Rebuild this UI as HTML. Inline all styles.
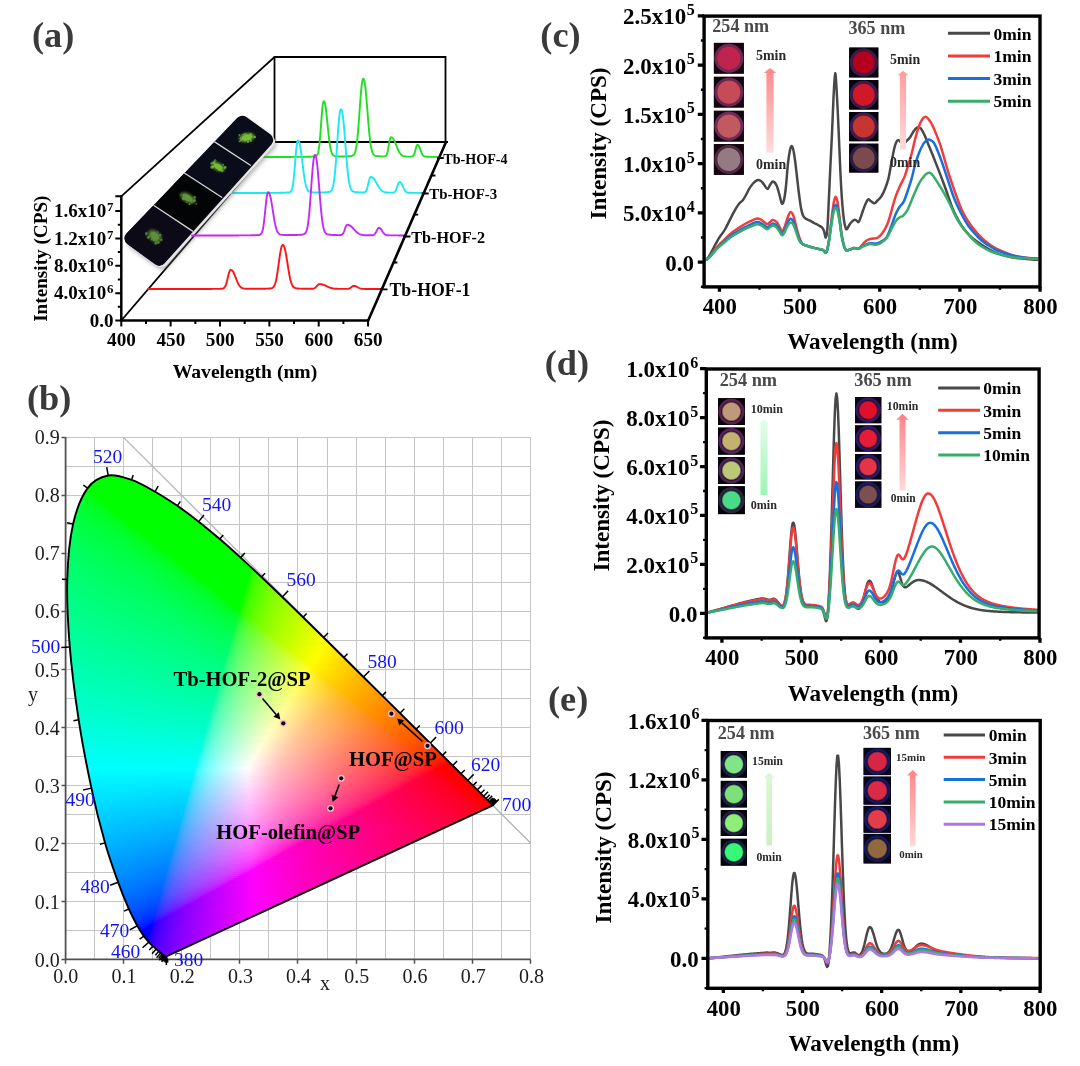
<!DOCTYPE html><html><head><meta charset="utf-8"><title>Figure</title><style>html,body{margin:0;padding:0;background:#fff}svg{display:block;will-change:transform}text{font-family:"Liberation Serif",serif}</style></head><body><svg width="1080" height="1066" viewBox="0 0 1080 1066" font-family='"Liberation Serif", serif'><defs><clipPath id="cieclip"><path d="M166.38 956.40C166.37 956.40 166.35 956.39 166.32 956.40C166.29 956.41 166.24 956.45 166.20 956.46C166.16 956.47 166.14 956.45 166.09 956.46C166.04 956.47 165.97 956.51 165.91 956.52C165.85 956.52 165.81 956.52 165.74 956.52C165.67 956.52 165.59 956.52 165.50 956.52C165.42 956.52 165.33 956.54 165.21 956.52C165.10 956.49 164.98 956.44 164.81 956.34C164.63 956.24 164.41 956.11 164.17 955.93C163.92 955.76 163.68 955.57 163.35 955.30C163.02 955.03 162.62 954.70 162.19 954.31C161.75 953.92 161.29 953.48 160.73 952.98C160.17 952.47 159.57 951.95 158.81 951.29C158.05 950.64 157.17 949.89 156.19 949.03C155.21 948.17 154.15 947.29 152.93 946.13C151.70 944.97 150.36 943.73 148.85 942.07C147.35 940.40 145.83 938.87 143.90 936.15C141.97 933.43 139.78 930.30 137.26 925.76C134.75 921.23 132.00 916.18 128.82 908.94C125.64 901.70 122.13 893.32 118.16 882.31C114.19 871.29 109.46 858.55 105.00 842.85C100.55 827.16 95.82 808.64 91.44 788.14C87.05 767.64 82.29 743.39 78.68 719.85C75.07 696.31 71.68 670.33 69.77 646.92C67.87 623.51 66.72 599.87 67.27 579.39C67.82 558.90 69.70 539.24 73.09 524.03C76.49 508.83 81.79 496.26 87.65 488.18C93.51 480.09 100.96 476.90 108.26 475.53C115.57 474.16 123.70 477.24 131.50 479.94C139.30 482.64 147.44 487.40 155.08 491.72C162.72 496.03 170.06 500.83 177.33 505.82C184.59 510.81 191.62 516.11 198.70 521.66C205.77 527.20 212.79 533.07 219.78 539.06C226.76 545.06 233.68 551.30 240.62 557.63C247.56 563.95 254.47 570.45 261.41 577.01C268.35 583.56 275.33 590.26 282.26 596.97C289.19 603.67 296.10 610.46 302.99 617.21C309.88 623.96 316.80 630.75 323.60 637.46C330.40 644.17 337.17 650.89 343.81 657.48C350.44 664.07 357.02 670.61 363.43 676.97C369.83 683.34 376.15 689.62 382.24 695.66C388.32 701.69 394.30 707.58 399.94 713.18C405.58 718.78 411.04 724.25 416.07 729.25C421.10 734.25 425.71 738.81 430.10 743.18C434.50 747.54 438.68 751.69 442.45 755.42C446.21 759.14 449.60 762.45 452.70 765.51C455.79 768.58 458.53 771.32 461.02 773.81C463.52 776.30 465.67 778.45 467.66 780.42C469.65 782.40 471.37 784.07 472.96 785.65C474.55 787.22 475.91 788.59 477.21 789.88C478.51 791.18 479.68 792.35 480.76 793.42C481.84 794.49 482.80 795.46 483.67 796.32C484.55 797.18 485.32 797.92 486.00 798.58C486.68 799.25 487.24 799.81 487.75 800.33C488.26 800.84 488.70 801.27 489.09 801.66C489.48 802.05 489.81 802.38 490.08 802.65C490.35 802.92 490.53 803.09 490.72 803.28C490.91 803.48 491.09 803.65 491.24 803.81C491.40 803.96 491.52 804.08 491.65 804.21C491.79 804.35 491.93 804.49 492.06 804.62C492.18 804.74 492.31 804.87 492.41 804.97C492.51 805.06 492.58 805.14 492.64 805.20C492.70 805.26 492.73 805.29 492.76 805.31C492.79 805.34 492.81 805.36 492.82 805.37Z"/></clipPath><linearGradient id="r0" gradientUnits="userSpaceOnUse" x1="103.1" x2="121.8" y1="0" y2="0"><stop offset="0" stop-color="#00ff00"/><stop offset="1" stop-color="#00ff00"/></linearGradient><linearGradient id="r1" gradientUnits="userSpaceOnUse" x1="97.1" x2="128.8" y1="0" y2="0"><stop offset="0" stop-color="#00ff00"/><stop offset="1" stop-color="#00ff00"/></linearGradient><linearGradient id="r2" gradientUnits="userSpaceOnUse" x1="93.3" x2="134.7" y1="0" y2="0"><stop offset="0" stop-color="#00ff00"/><stop offset="1" stop-color="#00ff00"/></linearGradient><linearGradient id="r3" gradientUnits="userSpaceOnUse" x1="90.5" x2="139.7" y1="0" y2="0"><stop offset="0" stop-color="#00ff00"/><stop offset="1" stop-color="#00ff00"/></linearGradient><linearGradient id="r4" gradientUnits="userSpaceOnUse" x1="88.2" x2="144.0" y1="0" y2="0"><stop offset="0" stop-color="#00ff00"/><stop offset="1" stop-color="#00ff00"/></linearGradient><linearGradient id="r5" gradientUnits="userSpaceOnUse" x1="86.4" x2="147.8" y1="0" y2="0"><stop offset="0" stop-color="#00ff00"/><stop offset="1" stop-color="#00ff00"/></linearGradient><linearGradient id="r6" gradientUnits="userSpaceOnUse" x1="84.8" x2="151.5" y1="0" y2="0"><stop offset="0" stop-color="#00ff00"/><stop offset="1" stop-color="#00ff00"/></linearGradient><linearGradient id="r7" gradientUnits="userSpaceOnUse" x1="83.4" x2="155.0" y1="0" y2="0"><stop offset="0" stop-color="#00ff07"/><stop offset="0.056" stop-color="#00ff00"/><stop offset="1" stop-color="#00ff00"/></linearGradient><linearGradient id="r8" gradientUnits="userSpaceOnUse" x1="82.1" x2="158.6" y1="0" y2="0"><stop offset="0" stop-color="#00ff13"/><stop offset="0.079" stop-color="#00ff00"/><stop offset="1" stop-color="#00ff00"/></linearGradient><linearGradient id="r9" gradientUnits="userSpaceOnUse" x1="81.0" x2="162.0" y1="0" y2="0"><stop offset="0" stop-color="#00ff1b"/><stop offset="0.122" stop-color="#00ff00"/><stop offset="1" stop-color="#00ff00"/></linearGradient><linearGradient id="r10" gradientUnits="userSpaceOnUse" x1="79.9" x2="165.3" y1="0" y2="0"><stop offset="0" stop-color="#00ff21"/><stop offset="0.116" stop-color="#00ff0c"/><stop offset="0.186" stop-color="#00ff00"/><stop offset="1" stop-color="#00ff00"/></linearGradient><linearGradient id="r11" gradientUnits="userSpaceOnUse" x1="78.9" x2="168.5" y1="0" y2="0"><stop offset="0" stop-color="#00ff26"/><stop offset="0.156" stop-color="#00ff0a"/><stop offset="0.2" stop-color="#00ff00"/><stop offset="1" stop-color="#00ff00"/></linearGradient><linearGradient id="r12" gradientUnits="userSpaceOnUse" x1="77.9" x2="171.6" y1="0" y2="0"><stop offset="0" stop-color="#00ff2a"/><stop offset="0.17" stop-color="#00ff0f"/><stop offset="0.213" stop-color="#00ff00"/><stop offset="1" stop-color="#00ff00"/></linearGradient><linearGradient id="r13" gradientUnits="userSpaceOnUse" x1="77.1" x2="174.7" y1="0" y2="0"><stop offset="0" stop-color="#00ff2e"/><stop offset="0.184" stop-color="#00ff13"/><stop offset="0.245" stop-color="#00ff00"/><stop offset="1" stop-color="#00ff00"/></linearGradient><linearGradient id="r14" gradientUnits="userSpaceOnUse" x1="76.2" x2="177.7" y1="0" y2="0"><stop offset="0" stop-color="#00ff32"/><stop offset="0.216" stop-color="#00ff12"/><stop offset="0.275" stop-color="#00ff00"/><stop offset="1" stop-color="#00ff00"/></linearGradient><linearGradient id="r15" gradientUnits="userSpaceOnUse" x1="75.4" x2="180.6" y1="0" y2="0"><stop offset="0" stop-color="#00ff35"/><stop offset="0.226" stop-color="#00ff15"/><stop offset="0.283" stop-color="#00ff01"/><stop offset="1" stop-color="#00ff00"/></linearGradient><linearGradient id="r16" gradientUnits="userSpaceOnUse" x1="74.7" x2="183.5" y1="0" y2="0"><stop offset="0" stop-color="#00ff38"/><stop offset="0.241" stop-color="#00ff17"/><stop offset="0.315" stop-color="#00ff00"/><stop offset="1" stop-color="#00ff00"/></linearGradient><linearGradient id="r17" gradientUnits="userSpaceOnUse" x1="74.0" x2="186.3" y1="0" y2="0"><stop offset="0" stop-color="#00ff3b"/><stop offset="0.25" stop-color="#00ff1a"/><stop offset="0.339" stop-color="#00ff00"/><stop offset="1" stop-color="#00ff00"/></linearGradient><linearGradient id="r18" gradientUnits="userSpaceOnUse" x1="73.3" x2="189.0" y1="0" y2="0"><stop offset="0" stop-color="#00ff3d"/><stop offset="0.259" stop-color="#00ff1d"/><stop offset="0.345" stop-color="#00ff00"/><stop offset="1" stop-color="#00ff00"/></linearGradient><linearGradient id="r19" gradientUnits="userSpaceOnUse" x1="72.7" x2="191.7" y1="0" y2="0"><stop offset="0" stop-color="#00ff40"/><stop offset="0.254" stop-color="#00ff22"/><stop offset="0.339" stop-color="#00ff0b"/><stop offset="0.373" stop-color="#00ff00"/><stop offset="1" stop-color="#00ff00"/></linearGradient><linearGradient id="r20" gradientUnits="userSpaceOnUse" x1="72.1" x2="194.4" y1="0" y2="0"><stop offset="0" stop-color="#00ff42"/><stop offset="0.279" stop-color="#00ff21"/><stop offset="0.361" stop-color="#00ff08"/><stop offset="0.393" stop-color="#00ff00"/><stop offset="1" stop-color="#00ff00"/></linearGradient><linearGradient id="r21" gradientUnits="userSpaceOnUse" x1="71.6" x2="197.0" y1="0" y2="0"><stop offset="0" stop-color="#00ff45"/><stop offset="0.302" stop-color="#00ff20"/><stop offset="0.397" stop-color="#00ff00"/><stop offset="1" stop-color="#00ff00"/></linearGradient><linearGradient id="r22" gradientUnits="userSpaceOnUse" x1="71.1" x2="199.6" y1="0" y2="0"><stop offset="0" stop-color="#00ff47"/><stop offset="0.297" stop-color="#00ff24"/><stop offset="0.391" stop-color="#00ff08"/><stop offset="0.422" stop-color="#00ff00"/><stop offset="1" stop-color="#00ff00"/></linearGradient><linearGradient id="r23" gradientUnits="userSpaceOnUse" x1="70.6" x2="202.1" y1="0" y2="0"><stop offset="0" stop-color="#00ff49"/><stop offset="0.303" stop-color="#00ff26"/><stop offset="0.394" stop-color="#00ff0e"/><stop offset="0.424" stop-color="#00ff00"/><stop offset="1" stop-color="#00ff00"/></linearGradient><linearGradient id="r24" gradientUnits="userSpaceOnUse" x1="70.1" x2="204.7" y1="0" y2="0"><stop offset="0" stop-color="#00ff4b"/><stop offset="0.299" stop-color="#00ff2a"/><stop offset="0.403" stop-color="#00ff10"/><stop offset="0.433" stop-color="#00ff00"/><stop offset="1" stop-color="#00ff00"/></linearGradient><linearGradient id="r25" gradientUnits="userSpaceOnUse" x1="69.7" x2="207.2" y1="0" y2="0"><stop offset="0" stop-color="#00ff4d"/><stop offset="0.319" stop-color="#00ff29"/><stop offset="0.42" stop-color="#00ff0e"/><stop offset="0.449" stop-color="#00ff00"/><stop offset="1" stop-color="#00ff00"/></linearGradient><linearGradient id="r26" gradientUnits="userSpaceOnUse" x1="69.3" x2="209.6" y1="0" y2="0"><stop offset="0" stop-color="#00ff4f"/><stop offset="0.314" stop-color="#00ff2d"/><stop offset="0.429" stop-color="#00ff10"/><stop offset="0.457" stop-color="#00ff00"/><stop offset="1" stop-color="#00ff00"/></linearGradient><linearGradient id="r27" gradientUnits="userSpaceOnUse" x1="68.9" x2="212.0" y1="0" y2="0"><stop offset="0" stop-color="#00ff51"/><stop offset="0.319" stop-color="#00ff2e"/><stop offset="0.431" stop-color="#00ff14"/><stop offset="0.472" stop-color="#00ff00"/><stop offset="1" stop-color="#00ff00"/></linearGradient><linearGradient id="r28" gradientUnits="userSpaceOnUse" x1="68.5" x2="214.4" y1="0" y2="0"><stop offset="0" stop-color="#00ff53"/><stop offset="0.342" stop-color="#00ff2d"/><stop offset="0.452" stop-color="#00ff10"/><stop offset="0.479" stop-color="#00ff00"/><stop offset="1" stop-color="#00ff00"/></linearGradient><linearGradient id="r29" gradientUnits="userSpaceOnUse" x1="68.2" x2="216.8" y1="0" y2="0"><stop offset="0" stop-color="#00ff55"/><stop offset="0.351" stop-color="#00ff2e"/><stop offset="0.459" stop-color="#00ff12"/><stop offset="0.5" stop-color="#00ff00"/><stop offset="1" stop-color="#00ff00"/></linearGradient><linearGradient id="r30" gradientUnits="userSpaceOnUse" x1="67.9" x2="219.2" y1="0" y2="0"><stop offset="0" stop-color="#00ff57"/><stop offset="0.355" stop-color="#00ff30"/><stop offset="0.461" stop-color="#00ff16"/><stop offset="0.5" stop-color="#00ff00"/><stop offset="1" stop-color="#00ff00"/></linearGradient><linearGradient id="r31" gradientUnits="userSpaceOnUse" x1="67.6" x2="221.5" y1="0" y2="0"><stop offset="0" stop-color="#00ff58"/><stop offset="0.351" stop-color="#00ff33"/><stop offset="0.468" stop-color="#00ff17"/><stop offset="0.519" stop-color="#00ff00"/><stop offset="1" stop-color="#00ff00"/></linearGradient><linearGradient id="r32" gradientUnits="userSpaceOnUse" x1="67.3" x2="223.9" y1="0" y2="0"><stop offset="0" stop-color="#00ff5a"/><stop offset="0.359" stop-color="#00ff34"/><stop offset="0.487" stop-color="#00ff14"/><stop offset="0.526" stop-color="#00ff00"/><stop offset="1" stop-color="#00ff00"/></linearGradient><linearGradient id="r33" gradientUnits="userSpaceOnUse" x1="67.0" x2="226.2" y1="0" y2="0"><stop offset="0" stop-color="#00ff5c"/><stop offset="0.362" stop-color="#00ff35"/><stop offset="0.487" stop-color="#00ff18"/><stop offset="0.537" stop-color="#00ff00"/><stop offset="1" stop-color="#00ff00"/></linearGradient><linearGradient id="r34" gradientUnits="userSpaceOnUse" x1="66.8" x2="228.5" y1="0" y2="0"><stop offset="0" stop-color="#00ff5d"/><stop offset="0.358" stop-color="#00ff38"/><stop offset="0.494" stop-color="#00ff19"/><stop offset="0.543" stop-color="#00ff00"/><stop offset="1" stop-color="#00ff00"/></linearGradient><linearGradient id="r35" gradientUnits="userSpaceOnUse" x1="66.5" x2="230.7" y1="0" y2="0"><stop offset="0" stop-color="#00ff5f"/><stop offset="0.366" stop-color="#00ff39"/><stop offset="0.5" stop-color="#00ff1a"/><stop offset="0.549" stop-color="#00ff00"/><stop offset="1" stop-color="#00ff00"/></linearGradient><linearGradient id="r36" gradientUnits="userSpaceOnUse" x1="66.3" x2="233.0" y1="0" y2="0"><stop offset="0" stop-color="#00ff60"/><stop offset="0.361" stop-color="#00ff3c"/><stop offset="0.506" stop-color="#00ff1c"/><stop offset="0.554" stop-color="#00ff00"/><stop offset="1" stop-color="#00ff00"/></linearGradient><linearGradient id="r37" gradientUnits="userSpaceOnUse" x1="66.1" x2="235.2" y1="0" y2="0"><stop offset="0" stop-color="#00ff62"/><stop offset="0.365" stop-color="#00ff3d"/><stop offset="0.518" stop-color="#00ff1b"/><stop offset="0.565" stop-color="#00ff00"/><stop offset="1" stop-color="#00ff00"/></linearGradient><linearGradient id="r38" gradientUnits="userSpaceOnUse" x1="65.9" x2="237.4" y1="0" y2="0"><stop offset="0" stop-color="#00ff64"/><stop offset="0.372" stop-color="#00ff3e"/><stop offset="0.523" stop-color="#00ff1c"/><stop offset="0.57" stop-color="#00ff00"/><stop offset="1" stop-color="#00ff00"/></linearGradient><linearGradient id="r39" gradientUnits="userSpaceOnUse" x1="65.7" x2="239.6" y1="0" y2="0"><stop offset="0" stop-color="#00ff65"/><stop offset="0.379" stop-color="#00ff3f"/><stop offset="0.529" stop-color="#00ff1d"/><stop offset="0.586" stop-color="#00ff00"/><stop offset="1" stop-color="#00ff00"/></linearGradient><linearGradient id="r40" gradientUnits="userSpaceOnUse" x1="65.5" x2="241.8" y1="0" y2="0"><stop offset="0" stop-color="#00ff67"/><stop offset="0.375" stop-color="#00ff41"/><stop offset="0.534" stop-color="#00ff1f"/><stop offset="0.591" stop-color="#00ff00"/><stop offset="1" stop-color="#00ff00"/></linearGradient><linearGradient id="r41" gradientUnits="userSpaceOnUse" x1="65.4" x2="244.0" y1="0" y2="0"><stop offset="0" stop-color="#00ff68"/><stop offset="0.382" stop-color="#00ff42"/><stop offset="0.539" stop-color="#00ff20"/><stop offset="0.596" stop-color="#00ff00"/><stop offset="1" stop-color="#00ff00"/></linearGradient><linearGradient id="r42" gradientUnits="userSpaceOnUse" x1="65.2" x2="246.2" y1="0" y2="0"><stop offset="0" stop-color="#00ff6a"/><stop offset="0.389" stop-color="#00ff43"/><stop offset="0.544" stop-color="#00ff21"/><stop offset="0.589" stop-color="#00ff0a"/><stop offset="0.6" stop-color="#00ff00"/><stop offset="1" stop-color="#00ff00"/></linearGradient><linearGradient id="r43" gradientUnits="userSpaceOnUse" x1="65.1" x2="248.4" y1="0" y2="0"><stop offset="0" stop-color="#00ff6b"/><stop offset="0.391" stop-color="#00ff44"/><stop offset="0.543" stop-color="#00ff24"/><stop offset="0.598" stop-color="#00ff08"/><stop offset="0.62" stop-color="#00ff00"/><stop offset="1" stop-color="#00ff00"/></linearGradient><linearGradient id="r44" gradientUnits="userSpaceOnUse" x1="65.0" x2="250.5" y1="0" y2="0"><stop offset="0" stop-color="#00ff6c"/><stop offset="0.376" stop-color="#00ff48"/><stop offset="0.548" stop-color="#00ff25"/><stop offset="0.602" stop-color="#00ff0b"/><stop offset="0.613" stop-color="#00ff00"/><stop offset="1" stop-color="#00ff00"/></linearGradient><linearGradient id="r45" gradientUnits="userSpaceOnUse" x1="64.8" x2="252.7" y1="0" y2="0"><stop offset="0" stop-color="#00ff6e"/><stop offset="0.394" stop-color="#00ff47"/><stop offset="0.564" stop-color="#00ff23"/><stop offset="0.606" stop-color="#00ff0d"/><stop offset="0.628" stop-color="#00ff00"/><stop offset="1" stop-color="#03ff00"/></linearGradient><linearGradient id="r46" gradientUnits="userSpaceOnUse" x1="64.7" x2="254.8" y1="0" y2="0"><stop offset="0" stop-color="#00ff6f"/><stop offset="0.4" stop-color="#00ff48"/><stop offset="0.568" stop-color="#00ff24"/><stop offset="0.632" stop-color="#00ff00"/><stop offset="0.979" stop-color="#00ff00"/><stop offset="1" stop-color="#26ff00"/></linearGradient><linearGradient id="r47" gradientUnits="userSpaceOnUse" x1="64.6" x2="257.0" y1="0" y2="0"><stop offset="0" stop-color="#00ff71"/><stop offset="0.406" stop-color="#00ff49"/><stop offset="0.573" stop-color="#00ff25"/><stop offset="0.615" stop-color="#00ff11"/><stop offset="0.635" stop-color="#00ff00"/><stop offset="0.969" stop-color="#00ff00"/><stop offset="0.979" stop-color="#1aff00"/><stop offset="1" stop-color="#37ff00"/></linearGradient><linearGradient id="r48" gradientUnits="userSpaceOnUse" x1="64.5" x2="259.1" y1="0" y2="0"><stop offset="0" stop-color="#00ff72"/><stop offset="0.423" stop-color="#00ff48"/><stop offset="0.577" stop-color="#00ff26"/><stop offset="0.629" stop-color="#00ff0b"/><stop offset="0.639" stop-color="#00ff00"/><stop offset="0.959" stop-color="#04ff00"/><stop offset="0.969" stop-color="#21ff00"/><stop offset="1" stop-color="#43ff00"/></linearGradient><linearGradient id="r49" gradientUnits="userSpaceOnUse" x1="64.4" x2="261.2" y1="0" y2="0"><stop offset="0" stop-color="#00ff73"/><stop offset="0.418" stop-color="#00ff4a"/><stop offset="0.582" stop-color="#00ff27"/><stop offset="0.633" stop-color="#00ff0d"/><stop offset="0.653" stop-color="#00ff00"/><stop offset="0.939" stop-color="#00ff00"/><stop offset="0.969" stop-color="#33ff00"/><stop offset="1" stop-color="#4eff00"/></linearGradient><linearGradient id="r50" gradientUnits="userSpaceOnUse" x1="64.4" x2="263.3" y1="0" y2="0"><stop offset="0" stop-color="#00ff75"/><stop offset="0.424" stop-color="#00ff4b"/><stop offset="0.586" stop-color="#00ff28"/><stop offset="0.636" stop-color="#00ff0f"/><stop offset="0.657" stop-color="#00ff00"/><stop offset="0.929" stop-color="#00ff00"/><stop offset="0.939" stop-color="#1aff00"/><stop offset="0.97" stop-color="#41ff00"/><stop offset="1" stop-color="#57ff00"/></linearGradient><linearGradient id="r51" gradientUnits="userSpaceOnUse" x1="64.3" x2="265.5" y1="0" y2="0"><stop offset="0" stop-color="#00ff76"/><stop offset="0.396" stop-color="#00ff50"/><stop offset="0.574" stop-color="#00ff2e"/><stop offset="0.634" stop-color="#00ff16"/><stop offset="0.663" stop-color="#00ff00"/><stop offset="0.911" stop-color="#00ff00"/><stop offset="0.921" stop-color="#07ff00"/><stop offset="0.931" stop-color="#22ff00"/><stop offset="0.97" stop-color="#4cff00"/><stop offset="1" stop-color="#5fff00"/></linearGradient><linearGradient id="r52" gradientUnits="userSpaceOnUse" x1="64.3" x2="267.6" y1="0" y2="0"><stop offset="0" stop-color="#00ff77"/><stop offset="0.392" stop-color="#00ff53"/><stop offset="0.598" stop-color="#00ff29"/><stop offset="0.647" stop-color="#00ff11"/><stop offset="0.667" stop-color="#00ff00"/><stop offset="0.902" stop-color="#00ff00"/><stop offset="0.922" stop-color="#27ff00"/><stop offset="0.961" stop-color="#4fff00"/><stop offset="1" stop-color="#67ff00"/></linearGradient><linearGradient id="r53" gradientUnits="userSpaceOnUse" x1="64.2" x2="269.7" y1="0" y2="0"><stop offset="0" stop-color="#00ff79"/><stop offset="0.417" stop-color="#00ff51"/><stop offset="0.602" stop-color="#00ff2a"/><stop offset="0.65" stop-color="#00ff13"/><stop offset="0.67" stop-color="#00ff00"/><stop offset="0.893" stop-color="#00ff00"/><stop offset="0.903" stop-color="#1cff00"/><stop offset="0.932" stop-color="#42ff00"/><stop offset="1" stop-color="#6eff00"/></linearGradient><linearGradient id="r54" gradientUnits="userSpaceOnUse" x1="64.2" x2="271.8" y1="0" y2="0"><stop offset="0" stop-color="#00ff7a"/><stop offset="0.413" stop-color="#00ff53"/><stop offset="0.606" stop-color="#00ff2b"/><stop offset="0.663" stop-color="#00ff0c"/><stop offset="0.673" stop-color="#00ff01"/><stop offset="0.875" stop-color="#00ff00"/><stop offset="0.885" stop-color="#06ff00"/><stop offset="0.894" stop-color="#22ff00"/><stop offset="0.923" stop-color="#45ff00"/><stop offset="1" stop-color="#75ff00"/></linearGradient><linearGradient id="r55" gradientUnits="userSpaceOnUse" x1="64.2" x2="273.9" y1="0" y2="0"><stop offset="0" stop-color="#00ff7b"/><stop offset="0.41" stop-color="#00ff55"/><stop offset="0.6" stop-color="#00ff2f"/><stop offset="0.657" stop-color="#00ff16"/><stop offset="0.686" stop-color="#00ff00"/><stop offset="0.867" stop-color="#00ff00"/><stop offset="0.895" stop-color="#35ff00"/><stop offset="0.952" stop-color="#62ff00"/><stop offset="1" stop-color="#7cff00"/></linearGradient><linearGradient id="r56" gradientUnits="userSpaceOnUse" x1="64.1" x2="276.0" y1="0" y2="0"><stop offset="0" stop-color="#00ff7d"/><stop offset="0.406" stop-color="#00ff57"/><stop offset="0.594" stop-color="#00ff33"/><stop offset="0.66" stop-color="#00ff18"/><stop offset="0.689" stop-color="#00ff00"/><stop offset="0.858" stop-color="#00ff00"/><stop offset="0.868" stop-color="#1bff00"/><stop offset="0.896" stop-color="#42ff00"/><stop offset="0.972" stop-color="#74ff00"/><stop offset="1" stop-color="#82ff00"/></linearGradient><linearGradient id="r57" gradientUnits="userSpaceOnUse" x1="64.1" x2="278.0" y1="0" y2="0"><stop offset="0" stop-color="#00ff7e"/><stop offset="0.411" stop-color="#00ff58"/><stop offset="0.607" stop-color="#00ff31"/><stop offset="0.673" stop-color="#00ff13"/><stop offset="0.692" stop-color="#00ff00"/><stop offset="0.85" stop-color="#04ff00"/><stop offset="0.86" stop-color="#22ff00"/><stop offset="0.888" stop-color="#45ff00"/><stop offset="0.972" stop-color="#7bff00"/><stop offset="1" stop-color="#88ff00"/></linearGradient><linearGradient id="r58" gradientUnits="userSpaceOnUse" x1="64.1" x2="280.1" y1="0" y2="0"><stop offset="0" stop-color="#00ff7f"/><stop offset="0.407" stop-color="#00ff5a"/><stop offset="0.611" stop-color="#00ff32"/><stop offset="0.676" stop-color="#00ff15"/><stop offset="0.694" stop-color="#00ff00"/><stop offset="0.833" stop-color="#00ff00"/><stop offset="0.852" stop-color="#27ff00"/><stop offset="0.889" stop-color="#50ff00"/><stop offset="0.981" stop-color="#85ff00"/><stop offset="1" stop-color="#8dff00"/></linearGradient><linearGradient id="r59" gradientUnits="userSpaceOnUse" x1="64.1" x2="282.2" y1="0" y2="0"><stop offset="0" stop-color="#00ff81"/><stop offset="0.431" stop-color="#00ff58"/><stop offset="0.615" stop-color="#00ff33"/><stop offset="0.679" stop-color="#00ff16"/><stop offset="0.697" stop-color="#00ff03"/><stop offset="0.826" stop-color="#00ff00"/><stop offset="0.844" stop-color="#2cff00"/><stop offset="0.89" stop-color="#59ff00"/><stop offset="1" stop-color="#93ff00"/></linearGradient><linearGradient id="r60" gradientUnits="userSpaceOnUse" x1="64.1" x2="284.3" y1="0" y2="0"><stop offset="0" stop-color="#00ff82"/><stop offset="0.427" stop-color="#00ff5a"/><stop offset="0.618" stop-color="#00ff34"/><stop offset="0.682" stop-color="#00ff18"/><stop offset="0.709" stop-color="#00ff00"/><stop offset="0.818" stop-color="#01ff00"/><stop offset="0.827" stop-color="#21ff00"/><stop offset="0.855" stop-color="#45ff00"/><stop offset="0.936" stop-color="#7cff00"/><stop offset="1" stop-color="#99ff00"/></linearGradient><linearGradient id="r61" gradientUnits="userSpaceOnUse" x1="64.2" x2="286.3" y1="0" y2="0"><stop offset="0" stop-color="#00ff83"/><stop offset="0.414" stop-color="#00ff5d"/><stop offset="0.604" stop-color="#00ff3a"/><stop offset="0.685" stop-color="#00ff1a"/><stop offset="0.712" stop-color="#00ff00"/><stop offset="0.802" stop-color="#00ff00"/><stop offset="0.829" stop-color="#34ff00"/><stop offset="0.883" stop-color="#64ff00"/><stop offset="1" stop-color="#9eff00"/></linearGradient><linearGradient id="r62" gradientUnits="userSpaceOnUse" x1="64.2" x2="288.4" y1="0" y2="0"><stop offset="0" stop-color="#00ff85"/><stop offset="0.429" stop-color="#00ff5d"/><stop offset="0.625" stop-color="#00ff36"/><stop offset="0.696" stop-color="#00ff15"/><stop offset="0.714" stop-color="#00ff00"/><stop offset="0.795" stop-color="#00ff00"/><stop offset="0.812" stop-color="#2bff00"/><stop offset="0.848" stop-color="#52ff00"/><stop offset="0.938" stop-color="#88ff00"/><stop offset="1" stop-color="#a3ff00"/></linearGradient><linearGradient id="r63" gradientUnits="userSpaceOnUse" x1="64.2" x2="290.4" y1="0" y2="0"><stop offset="0" stop-color="#00ff86"/><stop offset="0.425" stop-color="#00ff5f"/><stop offset="0.628" stop-color="#00ff37"/><stop offset="0.699" stop-color="#00ff17"/><stop offset="0.717" stop-color="#00ff03"/><stop offset="0.788" stop-color="#00ff00"/><stop offset="0.796" stop-color="#1fff00"/><stop offset="0.823" stop-color="#45ff00"/><stop offset="0.885" stop-color="#72ff00"/><stop offset="1" stop-color="#a8ff00"/></linearGradient><linearGradient id="r64" gradientUnits="userSpaceOnUse" x1="64.3" x2="292.5" y1="0" y2="0"><stop offset="0" stop-color="#00ff87"/><stop offset="0.421" stop-color="#00ff61"/><stop offset="0.632" stop-color="#00ff38"/><stop offset="0.702" stop-color="#00ff19"/><stop offset="0.728" stop-color="#00ff00"/><stop offset="0.772" stop-color="#00ff00"/><stop offset="0.781" stop-color="#0cff00"/><stop offset="0.789" stop-color="#25ff00"/><stop offset="0.816" stop-color="#48ff00"/><stop offset="0.895" stop-color="#7eff00"/><stop offset="1" stop-color="#adff00"/></linearGradient><linearGradient id="r65" gradientUnits="userSpaceOnUse" x1="64.3" x2="294.5" y1="0" y2="0"><stop offset="0" stop-color="#00ff88"/><stop offset="0.409" stop-color="#00ff64"/><stop offset="0.617" stop-color="#00ff3e"/><stop offset="0.696" stop-color="#00ff20"/><stop offset="0.73" stop-color="#00ff00"/><stop offset="0.765" stop-color="#00ff00"/><stop offset="0.783" stop-color="#2aff00"/><stop offset="0.817" stop-color="#52ff00"/><stop offset="0.904" stop-color="#89ff00"/><stop offset="1" stop-color="#b2ff00"/></linearGradient><linearGradient id="r66" gradientUnits="userSpaceOnUse" x1="64.4" x2="296.6" y1="0" y2="0"><stop offset="0" stop-color="#00ff8a"/><stop offset="0.431" stop-color="#00ff62"/><stop offset="0.638" stop-color="#00ff3a"/><stop offset="0.707" stop-color="#00ff1c"/><stop offset="0.733" stop-color="#00ff00"/><stop offset="0.759" stop-color="#00ff00"/><stop offset="0.767" stop-color="#1eff00"/><stop offset="0.793" stop-color="#45ff00"/><stop offset="0.862" stop-color="#78ff00"/><stop offset="1" stop-color="#b7ff00"/></linearGradient><linearGradient id="r67" gradientUnits="userSpaceOnUse" x1="64.5" x2="298.6" y1="0" y2="0"><stop offset="0" stop-color="#00ff8b"/><stop offset="0.436" stop-color="#00ff63"/><stop offset="0.641" stop-color="#00ff3b"/><stop offset="0.718" stop-color="#00ff17"/><stop offset="0.735" stop-color="#00ff02"/><stop offset="0.752" stop-color="#07ff00"/><stop offset="0.761" stop-color="#24ff00"/><stop offset="0.795" stop-color="#50ff00"/><stop offset="0.88" stop-color="#88ff00"/><stop offset="1" stop-color="#bcff00"/></linearGradient><linearGradient id="r68" gradientUnits="userSpaceOnUse" x1="64.5" x2="300.7" y1="0" y2="0"><stop offset="0" stop-color="#00ff8c"/><stop offset="0.432" stop-color="#00ff65"/><stop offset="0.636" stop-color="#00ff3e"/><stop offset="0.712" stop-color="#00ff1f"/><stop offset="0.737" stop-color="#00ff06"/><stop offset="0.754" stop-color="#29ff00"/><stop offset="0.788" stop-color="#52ff00"/><stop offset="0.873" stop-color="#8aff00"/><stop offset="1" stop-color="#c1ff00"/></linearGradient><linearGradient id="r69" gradientUnits="userSpaceOnUse" x1="64.6" x2="302.7" y1="0" y2="0"><stop offset="0" stop-color="#00ff8d"/><stop offset="0.42" stop-color="#00ff68"/><stop offset="0.63" stop-color="#00ff41"/><stop offset="0.714" stop-color="#00ff21"/><stop offset="0.731" stop-color="#00ff14"/><stop offset="0.739" stop-color="#1cff09"/><stop offset="0.748" stop-color="#2eff00"/><stop offset="0.79" stop-color="#5cff00"/><stop offset="0.891" stop-color="#98ff00"/><stop offset="1" stop-color="#c6ff00"/></linearGradient><linearGradient id="r70" gradientUnits="userSpaceOnUse" x1="64.7" x2="304.7" y1="0" y2="0"><stop offset="0" stop-color="#00ff8f"/><stop offset="0.433" stop-color="#00ff68"/><stop offset="0.642" stop-color="#00ff40"/><stop offset="0.725" stop-color="#03ff1d"/><stop offset="0.733" stop-color="#22ff16"/><stop offset="0.75" stop-color="#3eff00"/><stop offset="0.817" stop-color="#76ff00"/><stop offset="0.967" stop-color="#beff00"/><stop offset="1" stop-color="#cbff00"/></linearGradient><linearGradient id="r71" gradientUnits="userSpaceOnUse" x1="64.8" x2="306.8" y1="0" y2="0"><stop offset="0" stop-color="#00ff90"/><stop offset="0.421" stop-color="#00ff6b"/><stop offset="0.628" stop-color="#00ff46"/><stop offset="0.711" stop-color="#00ff28"/><stop offset="0.736" stop-color="#36ff18"/><stop offset="0.752" stop-color="#4aff02"/><stop offset="0.818" stop-color="#7dff00"/><stop offset="0.983" stop-color="#c9ff00"/><stop offset="1" stop-color="#cfff00"/></linearGradient><linearGradient id="r72" gradientUnits="userSpaceOnUse" x1="64.9" x2="308.8" y1="0" y2="0"><stop offset="0" stop-color="#00ff91"/><stop offset="0.41" stop-color="#00ff6d"/><stop offset="0.631" stop-color="#00ff47"/><stop offset="0.705" stop-color="#00ff2d"/><stop offset="0.721" stop-color="#2dff25"/><stop offset="0.746" stop-color="#4dff12"/><stop offset="0.762" stop-color="#5cff00"/><stop offset="0.869" stop-color="#9dff00"/><stop offset="1" stop-color="#d4ff00"/></linearGradient><linearGradient id="r73" gradientUnits="userSpaceOnUse" x1="65.0" x2="310.9" y1="0" y2="0"><stop offset="0" stop-color="#00ff93"/><stop offset="0.439" stop-color="#00ff6b"/><stop offset="0.642" stop-color="#00ff45"/><stop offset="0.699" stop-color="#00ff32"/><stop offset="0.707" stop-color="#21ff2f"/><stop offset="0.724" stop-color="#3eff26"/><stop offset="0.756" stop-color="#5fff09"/><stop offset="0.764" stop-color="#65ff00"/><stop offset="0.87" stop-color="#a3ff00"/><stop offset="1" stop-color="#d9ff00"/></linearGradient><linearGradient id="r74" gradientUnits="userSpaceOnUse" x1="65.1" x2="312.9" y1="0" y2="0"><stop offset="0" stop-color="#00ff94"/><stop offset="0.435" stop-color="#00ff6d"/><stop offset="0.645" stop-color="#00ff46"/><stop offset="0.685" stop-color="#00ff3a"/><stop offset="0.694" stop-color="#0eff37"/><stop offset="0.702" stop-color="#27ff33"/><stop offset="0.734" stop-color="#53ff23"/><stop offset="0.758" stop-color="#67ff0c"/><stop offset="0.766" stop-color="#6dff00"/><stop offset="0.879" stop-color="#acff00"/><stop offset="1" stop-color="#deff00"/></linearGradient><linearGradient id="r75" gradientUnits="userSpaceOnUse" x1="65.2" x2="314.9" y1="0" y2="0"><stop offset="0" stop-color="#00ff95"/><stop offset="0.44" stop-color="#00ff6e"/><stop offset="0.648" stop-color="#00ff47"/><stop offset="0.68" stop-color="#00ff3d"/><stop offset="0.696" stop-color="#2cff38"/><stop offset="0.728" stop-color="#55ff29"/><stop offset="0.76" stop-color="#6fff0f"/><stop offset="0.768" stop-color="#75ff01"/><stop offset="0.904" stop-color="#bcff00"/><stop offset="1" stop-color="#e2ff00"/></linearGradient><linearGradient id="r76" gradientUnits="userSpaceOnUse" x1="65.3" x2="317.0" y1="0" y2="0"><stop offset="0" stop-color="#00ff96"/><stop offset="0.429" stop-color="#00ff71"/><stop offset="0.643" stop-color="#00ff4a"/><stop offset="0.675" stop-color="#00ff41"/><stop offset="0.683" stop-color="#20ff3f"/><stop offset="0.706" stop-color="#48ff36"/><stop offset="0.754" stop-color="#71ff1a"/><stop offset="0.778" stop-color="#81ff00"/><stop offset="0.929" stop-color="#cbff00"/><stop offset="1" stop-color="#e7ff00"/></linearGradient><linearGradient id="r77" gradientUnits="userSpaceOnUse" x1="65.4" x2="319.0" y1="0" y2="0"><stop offset="0" stop-color="#00ff98"/><stop offset="0.449" stop-color="#00ff70"/><stop offset="0.661" stop-color="#00ff47"/><stop offset="0.669" stop-color="#0bff45"/><stop offset="0.677" stop-color="#26ff42"/><stop offset="0.701" stop-color="#4bff3a"/><stop offset="0.756" stop-color="#79ff1c"/><stop offset="0.78" stop-color="#88ff00"/><stop offset="0.937" stop-color="#d3ff00"/><stop offset="1" stop-color="#ecff00"/></linearGradient><linearGradient id="r78" gradientUnits="userSpaceOnUse" x1="65.5" x2="321.1" y1="0" y2="0"><stop offset="0" stop-color="#00ff99"/><stop offset="0.445" stop-color="#00ff72"/><stop offset="0.656" stop-color="#00ff4a"/><stop offset="0.672" stop-color="#2cff46"/><stop offset="0.703" stop-color="#56ff3b"/><stop offset="0.758" stop-color="#80ff1e"/><stop offset="0.781" stop-color="#8eff00"/><stop offset="0.945" stop-color="#dbff00"/><stop offset="1" stop-color="#f1ff00"/></linearGradient><linearGradient id="r79" gradientUnits="userSpaceOnUse" x1="65.7" x2="323.1" y1="0" y2="0"><stop offset="0" stop-color="#00ff9a"/><stop offset="0.426" stop-color="#00ff75"/><stop offset="0.636" stop-color="#00ff51"/><stop offset="0.651" stop-color="#00ff4d"/><stop offset="0.659" stop-color="#1fff4b"/><stop offset="0.674" stop-color="#3dff47"/><stop offset="0.721" stop-color="#6cff36"/><stop offset="0.767" stop-color="#8cff19"/><stop offset="0.783" stop-color="#95ff00"/><stop offset="0.984" stop-color="#f0ff00"/><stop offset="1" stop-color="#f6ff00"/></linearGradient><linearGradient id="r80" gradientUnits="userSpaceOnUse" x1="65.8" x2="325.1" y1="0" y2="0"><stop offset="0" stop-color="#00ff9b"/><stop offset="0.423" stop-color="#00ff77"/><stop offset="0.638" stop-color="#00ff52"/><stop offset="0.646" stop-color="#08ff50"/><stop offset="0.654" stop-color="#26ff4e"/><stop offset="0.677" stop-color="#4bff48"/><stop offset="0.738" stop-color="#7fff30"/><stop offset="0.777" stop-color="#96ff12"/><stop offset="0.785" stop-color="#9bff04"/><stop offset="1" stop-color="#fbff00"/></linearGradient><linearGradient id="r81" gradientUnits="userSpaceOnUse" x1="65.9" x2="327.1" y1="0" y2="0"><stop offset="0" stop-color="#00ff9d"/><stop offset="0.443" stop-color="#00ff76"/><stop offset="0.634" stop-color="#00ff55"/><stop offset="0.649" stop-color="#2bff51"/><stop offset="0.679" stop-color="#56ff49"/><stop offset="0.748" stop-color="#8bff2d"/><stop offset="0.779" stop-color="#9dff15"/><stop offset="0.794" stop-color="#a5ff00"/><stop offset="1" stop-color="#ffff00"/></linearGradient><linearGradient id="r82" gradientUnits="userSpaceOnUse" x1="66.1" x2="329.2" y1="0" y2="0"><stop offset="0" stop-color="#00ff9e"/><stop offset="0.439" stop-color="#00ff78"/><stop offset="0.629" stop-color="#00ff58"/><stop offset="0.636" stop-color="#1eff56"/><stop offset="0.652" stop-color="#3dff52"/><stop offset="0.697" stop-color="#6dff45"/><stop offset="0.765" stop-color="#9aff25"/><stop offset="0.788" stop-color="#a7ff0c"/><stop offset="0.795" stop-color="#abff00"/><stop offset="0.985" stop-color="#feff00"/><stop offset="1" stop-color="#fffa00"/></linearGradient><linearGradient id="r83" gradientUnits="userSpaceOnUse" x1="66.2" x2="331.2" y1="0" y2="0"><stop offset="0" stop-color="#00ff9f"/><stop offset="0.447" stop-color="#00ff79"/><stop offset="0.621" stop-color="#00ff5b"/><stop offset="0.629" stop-color="#1dff5a"/><stop offset="0.644" stop-color="#3dff56"/><stop offset="0.689" stop-color="#6dff49"/><stop offset="0.765" stop-color="#9fff28"/><stop offset="0.788" stop-color="#abff12"/><stop offset="0.795" stop-color="#afff03"/><stop offset="0.977" stop-color="#fffe00"/><stop offset="1" stop-color="#fff500"/></linearGradient><linearGradient id="r84" gradientUnits="userSpaceOnUse" x1="66.4" x2="333.2" y1="0" y2="0"><stop offset="0" stop-color="#00ffa0"/><stop offset="0.421" stop-color="#00ff7d"/><stop offset="0.617" stop-color="#02ff5e"/><stop offset="0.624" stop-color="#24ff5c"/><stop offset="0.647" stop-color="#4bff57"/><stop offset="0.707" stop-color="#81ff45"/><stop offset="0.774" stop-color="#a9ff24"/><stop offset="0.789" stop-color="#b1ff15"/><stop offset="0.805" stop-color="#b9ff00"/><stop offset="0.97" stop-color="#fffc00"/><stop offset="1" stop-color="#fff100"/></linearGradient><linearGradient id="r85" gradientUnits="userSpaceOnUse" x1="66.5" x2="335.2" y1="0" y2="0"><stop offset="0" stop-color="#00ffa2"/><stop offset="0.44" stop-color="#00ff7c"/><stop offset="0.604" stop-color="#00ff62"/><stop offset="0.627" stop-color="#39ff5d"/><stop offset="0.664" stop-color="#65ff54"/><stop offset="0.746" stop-color="#9fff37"/><stop offset="0.791" stop-color="#b7ff17"/><stop offset="0.806" stop-color="#beff00"/><stop offset="0.955" stop-color="#fffd00"/><stop offset="1" stop-color="#ffec00"/></linearGradient><linearGradient id="r86" gradientUnits="userSpaceOnUse" x1="66.7" x2="337.2" y1="0" y2="0"><stop offset="0" stop-color="#00ffa3"/><stop offset="0.43" stop-color="#00ff7f"/><stop offset="0.6" stop-color="#00ff65"/><stop offset="0.615" stop-color="#30ff62"/><stop offset="0.644" stop-color="#59ff5b"/><stop offset="0.719" stop-color="#93ff45"/><stop offset="0.785" stop-color="#b9ff21"/><stop offset="0.807" stop-color="#c4ff00"/><stop offset="0.941" stop-color="#fffe00"/><stop offset="1" stop-color="#ffe800"/></linearGradient><linearGradient id="r87" gradientUnits="userSpaceOnUse" x1="66.9" x2="339.3" y1="0" y2="0"><stop offset="0" stop-color="#00ffa4"/><stop offset="0.434" stop-color="#00ff80"/><stop offset="0.596" stop-color="#00ff67"/><stop offset="0.603" stop-color="#23ff66"/><stop offset="0.625" stop-color="#4bff61"/><stop offset="0.684" stop-color="#81ff52"/><stop offset="0.772" stop-color="#b7ff2e"/><stop offset="0.801" stop-color="#c6ff12"/><stop offset="0.809" stop-color="#c9ff03"/><stop offset="0.934" stop-color="#fffc00"/><stop offset="1" stop-color="#ffe400"/></linearGradient><linearGradient id="r88" gradientUnits="userSpaceOnUse" x1="67.0" x2="341.3" y1="0" y2="0"><stop offset="0" stop-color="#00ffa5"/><stop offset="0.431" stop-color="#00ff82"/><stop offset="0.584" stop-color="#00ff6b"/><stop offset="0.591" stop-color="#10ff6a"/><stop offset="0.599" stop-color="#2aff68"/><stop offset="0.62" stop-color="#4eff64"/><stop offset="0.679" stop-color="#84ff55"/><stop offset="0.766" stop-color="#b8ff34"/><stop offset="0.803" stop-color="#cbff15"/><stop offset="0.818" stop-color="#d2ff00"/><stop offset="0.927" stop-color="#fffb00"/><stop offset="1" stop-color="#ffe000"/></linearGradient><linearGradient id="r89" gradientUnits="userSpaceOnUse" x1="67.2" x2="343.3" y1="0" y2="0"><stop offset="0" stop-color="#00ffa7"/><stop offset="0.435" stop-color="#00ff83"/><stop offset="0.58" stop-color="#00ff6d"/><stop offset="0.594" stop-color="#2fff6b"/><stop offset="0.623" stop-color="#5aff65"/><stop offset="0.696" stop-color="#94ff52"/><stop offset="0.775" stop-color="#c2ff31"/><stop offset="0.804" stop-color="#d0ff18"/><stop offset="0.819" stop-color="#d7ff00"/><stop offset="0.913" stop-color="#fffc00"/><stop offset="1" stop-color="#ffdb00"/></linearGradient><linearGradient id="r90" gradientUnits="userSpaceOnUse" x1="67.4" x2="345.3" y1="0" y2="0"><stop offset="0" stop-color="#00ffa8"/><stop offset="0.439" stop-color="#00ff84"/><stop offset="0.576" stop-color="#00ff70"/><stop offset="0.583" stop-color="#23ff6e"/><stop offset="0.604" stop-color="#4cff6a"/><stop offset="0.662" stop-color="#83ff5d"/><stop offset="0.77" stop-color="#c4ff37"/><stop offset="0.806" stop-color="#d6ff1a"/><stop offset="0.82" stop-color="#ddff00"/><stop offset="0.899" stop-color="#fffd00"/><stop offset="1" stop-color="#ffd800"/></linearGradient><linearGradient id="r91" gradientUnits="userSpaceOnUse" x1="67.6" x2="347.3" y1="0" y2="0"><stop offset="0" stop-color="#00ffa9"/><stop offset="0.436" stop-color="#00ff86"/><stop offset="0.564" stop-color="#00ff73"/><stop offset="0.571" stop-color="#0fff72"/><stop offset="0.579" stop-color="#2aff71"/><stop offset="0.607" stop-color="#58ff6b"/><stop offset="0.679" stop-color="#94ff5b"/><stop offset="0.771" stop-color="#c9ff38"/><stop offset="0.807" stop-color="#dbff1d"/><stop offset="0.821" stop-color="#e2ff02"/><stop offset="0.893" stop-color="#fffb00"/><stop offset="1" stop-color="#ffd400"/></linearGradient><linearGradient id="r92" gradientUnits="userSpaceOnUse" x1="67.8" x2="349.3" y1="0" y2="0"><stop offset="0" stop-color="#00ffab"/><stop offset="0.447" stop-color="#00ff86"/><stop offset="0.56" stop-color="#00ff76"/><stop offset="0.574" stop-color="#2fff73"/><stop offset="0.603" stop-color="#5bff6e"/><stop offset="0.674" stop-color="#96ff5e"/><stop offset="0.773" stop-color="#cfff39"/><stop offset="0.809" stop-color="#e1ff1f"/><stop offset="0.83" stop-color="#ebff00"/><stop offset="0.879" stop-color="#fffc00"/><stop offset="1" stop-color="#ffd000"/></linearGradient><linearGradient id="r93" gradientUnits="userSpaceOnUse" x1="68.0" x2="351.4" y1="0" y2="0"><stop offset="0" stop-color="#00ffac"/><stop offset="0.444" stop-color="#00ff88"/><stop offset="0.556" stop-color="#00ff78"/><stop offset="0.563" stop-color="#23ff77"/><stop offset="0.577" stop-color="#41ff74"/><stop offset="0.62" stop-color="#72ff6c"/><stop offset="0.711" stop-color="#b2ff55"/><stop offset="0.796" stop-color="#dfff2e"/><stop offset="0.817" stop-color="#eaff19"/><stop offset="0.831" stop-color="#f0ff00"/><stop offset="0.873" stop-color="#fffa00"/><stop offset="1" stop-color="#ffcc00"/></linearGradient><linearGradient id="r94" gradientUnits="userSpaceOnUse" x1="68.2" x2="353.4" y1="0" y2="0"><stop offset="0" stop-color="#00ffad"/><stop offset="0.441" stop-color="#00ff8a"/><stop offset="0.545" stop-color="#00ff7b"/><stop offset="0.552" stop-color="#0eff7a"/><stop offset="0.559" stop-color="#2aff79"/><stop offset="0.587" stop-color="#58ff74"/><stop offset="0.643" stop-color="#8bff69"/><stop offset="0.762" stop-color="#d3ff43"/><stop offset="0.811" stop-color="#ecff23"/><stop offset="0.825" stop-color="#f2ff10"/><stop offset="0.832" stop-color="#f6ff00"/><stop offset="0.867" stop-color="#fff800"/><stop offset="1" stop-color="#ffc800"/></linearGradient><linearGradient id="r95" gradientUnits="userSpaceOnUse" x1="68.4" x2="355.4" y1="0" y2="0"><stop offset="0" stop-color="#00ffaf"/><stop offset="0.444" stop-color="#00ff8b"/><stop offset="0.542" stop-color="#00ff7e"/><stop offset="0.556" stop-color="#30ff7b"/><stop offset="0.583" stop-color="#5bff77"/><stop offset="0.653" stop-color="#97ff68"/><stop offset="0.764" stop-color="#d8ff45"/><stop offset="0.812" stop-color="#f1ff25"/><stop offset="0.826" stop-color="#f8ff13"/><stop offset="0.833" stop-color="#fbff02"/><stop offset="1" stop-color="#ffc500"/></linearGradient><linearGradient id="r96" gradientUnits="userSpaceOnUse" x1="68.6" x2="357.4" y1="0" y2="0"><stop offset="0" stop-color="#00ffb0"/><stop offset="0.451" stop-color="#00ff8c"/><stop offset="0.535" stop-color="#00ff80"/><stop offset="0.549" stop-color="#2eff7e"/><stop offset="0.576" stop-color="#5bff79"/><stop offset="0.653" stop-color="#9dff6a"/><stop offset="0.771" stop-color="#e1ff44"/><stop offset="0.819" stop-color="#f9ff22"/><stop offset="0.84" stop-color="#fffb00"/><stop offset="1" stop-color="#ffc100"/></linearGradient><linearGradient id="r97" gradientUnits="userSpaceOnUse" x1="68.8" x2="359.4" y1="0" y2="0"><stop offset="0" stop-color="#00ffb1"/><stop offset="0.434" stop-color="#00ff8f"/><stop offset="0.531" stop-color="#00ff82"/><stop offset="0.538" stop-color="#20ff81"/><stop offset="0.552" stop-color="#41ff7f"/><stop offset="0.586" stop-color="#6dff79"/><stop offset="0.676" stop-color="#b1ff66"/><stop offset="0.786" stop-color="#edff3e"/><stop offset="0.821" stop-color="#ffff24"/><stop offset="0.841" stop-color="#fff500"/><stop offset="1" stop-color="#ffbe00"/></linearGradient><linearGradient id="r98" gradientUnits="userSpaceOnUse" x1="69.0" x2="361.4" y1="0" y2="0"><stop offset="0" stop-color="#00ffb2"/><stop offset="0.432" stop-color="#00ff91"/><stop offset="0.521" stop-color="#00ff86"/><stop offset="0.527" stop-color="#07ff85"/><stop offset="0.534" stop-color="#28ff84"/><stop offset="0.555" stop-color="#50ff80"/><stop offset="0.61" stop-color="#88ff77"/><stop offset="0.733" stop-color="#d6ff57"/><stop offset="0.808" stop-color="#fdff32"/><stop offset="0.836" stop-color="#fff311"/><stop offset="0.842" stop-color="#fff000"/><stop offset="1" stop-color="#ffba00"/></linearGradient><linearGradient id="r99" gradientUnits="userSpaceOnUse" x1="69.2" x2="363.4" y1="0" y2="0"><stop offset="0" stop-color="#00ffb4"/><stop offset="0.449" stop-color="#00ff91"/><stop offset="0.517" stop-color="#00ff88"/><stop offset="0.531" stop-color="#2eff86"/><stop offset="0.558" stop-color="#5cff82"/><stop offset="0.619" stop-color="#94ff77"/><stop offset="0.762" stop-color="#ebff4e"/><stop offset="0.81" stop-color="#fffb33"/><stop offset="0.837" stop-color="#ffee14"/><stop offset="0.844" stop-color="#ffeb04"/><stop offset="1" stop-color="#ffb700"/></linearGradient><linearGradient id="r100" gradientUnits="userSpaceOnUse" x1="69.5" x2="365.4" y1="0" y2="0"><stop offset="0" stop-color="#00ffb5"/><stop offset="0.453" stop-color="#00ff92"/><stop offset="0.514" stop-color="#00ff8a"/><stop offset="0.52" stop-color="#21ff89"/><stop offset="0.534" stop-color="#42ff87"/><stop offset="0.574" stop-color="#75ff81"/><stop offset="0.669" stop-color="#bbff6e"/><stop offset="0.784" stop-color="#fbff46"/><stop offset="0.831" stop-color="#ffec1f"/><stop offset="0.851" stop-color="#ffe400"/><stop offset="1" stop-color="#ffb400"/></linearGradient><linearGradient id="r101" gradientUnits="userSpaceOnUse" x1="69.7" x2="367.5" y1="0" y2="0"><stop offset="0" stop-color="#00ffb6"/><stop offset="0.43" stop-color="#00ff96"/><stop offset="0.503" stop-color="#00ff8d"/><stop offset="0.51" stop-color="#08ff8c"/><stop offset="0.517" stop-color="#29ff8b"/><stop offset="0.537" stop-color="#51ff88"/><stop offset="0.591" stop-color="#89ff80"/><stop offset="0.711" stop-color="#d9ff64"/><stop offset="0.785" stop-color="#fffd47"/><stop offset="0.832" stop-color="#ffe821"/><stop offset="0.852" stop-color="#ffdf00"/><stop offset="1" stop-color="#ffb000"/></linearGradient><linearGradient id="r102" gradientUnits="userSpaceOnUse" x1="69.9" x2="369.5" y1="0" y2="0"><stop offset="0" stop-color="#00ffb8"/><stop offset="0.447" stop-color="#00ff96"/><stop offset="0.5" stop-color="#00ff8f"/><stop offset="0.513" stop-color="#2fff8d"/><stop offset="0.54" stop-color="#5dff8a"/><stop offset="0.6" stop-color="#96ff80"/><stop offset="0.74" stop-color="#edff5d"/><stop offset="0.78" stop-color="#fffb4b"/><stop offset="0.833" stop-color="#ffe322"/><stop offset="0.853" stop-color="#ffdb00"/><stop offset="1" stop-color="#ffad00"/></linearGradient><linearGradient id="r103" gradientUnits="userSpaceOnUse" x1="70.2" x2="371.5" y1="0" y2="0"><stop offset="0" stop-color="#00ffb9"/><stop offset="0.45" stop-color="#00ff97"/><stop offset="0.497" stop-color="#00ff91"/><stop offset="0.503" stop-color="#22ff91"/><stop offset="0.517" stop-color="#43ff8f"/><stop offset="0.556" stop-color="#76ff89"/><stop offset="0.656" stop-color="#c1ff76"/><stop offset="0.768" stop-color="#fffc53"/><stop offset="0.834" stop-color="#ffde23"/><stop offset="0.848" stop-color="#ffd912"/><stop offset="0.854" stop-color="#ffd603"/><stop offset="1" stop-color="#ffaa00"/></linearGradient><linearGradient id="r104" gradientUnits="userSpaceOnUse" x1="70.4" x2="373.5" y1="0" y2="0"><stop offset="0" stop-color="#00ffba"/><stop offset="0.441" stop-color="#00ff9a"/><stop offset="0.487" stop-color="#00ff94"/><stop offset="0.493" stop-color="#0aff94"/><stop offset="0.5" stop-color="#2aff93"/><stop offset="0.52" stop-color="#52ff90"/><stop offset="0.572" stop-color="#8bff88"/><stop offset="0.691" stop-color="#dbff70"/><stop offset="0.757" stop-color="#fffe5a"/><stop offset="0.836" stop-color="#ffda24"/><stop offset="0.862" stop-color="#ffd000"/><stop offset="1" stop-color="#ffa700"/></linearGradient><linearGradient id="r105" gradientUnits="userSpaceOnUse" x1="70.7" x2="375.5" y1="0" y2="0"><stop offset="0" stop-color="#00ffbc"/><stop offset="0.474" stop-color="#00ff98"/><stop offset="0.487" stop-color="#00ff96"/><stop offset="0.493" stop-color="#27ff95"/><stop offset="0.513" stop-color="#51ff93"/><stop offset="0.559" stop-color="#85ff8c"/><stop offset="0.664" stop-color="#d1ff78"/><stop offset="0.75" stop-color="#fffc5e"/><stop offset="0.836" stop-color="#ffd626"/><stop offset="0.862" stop-color="#ffcc00"/><stop offset="1" stop-color="#ffa300"/></linearGradient><linearGradient id="r106" gradientUnits="userSpaceOnUse" x1="70.9" x2="377.5" y1="0" y2="0"><stop offset="0" stop-color="#00ffbd"/><stop offset="0.444" stop-color="#00ff9d"/><stop offset="0.477" stop-color="#00ff99"/><stop offset="0.49" stop-color="#2eff97"/><stop offset="0.516" stop-color="#5eff94"/><stop offset="0.575" stop-color="#98ff8b"/><stop offset="0.712" stop-color="#f2ff6e"/><stop offset="0.745" stop-color="#fffa61"/><stop offset="0.837" stop-color="#ffd127"/><stop offset="0.856" stop-color="#ffca0f"/><stop offset="0.863" stop-color="#ffc801"/><stop offset="1" stop-color="#ffa000"/></linearGradient><linearGradient id="r107" gradientUnits="userSpaceOnUse" x1="71.2" x2="379.5" y1="0" y2="0"><stop offset="0" stop-color="#00ffbf"/><stop offset="0.448" stop-color="#00ff9e"/><stop offset="0.474" stop-color="#00ff9b"/><stop offset="0.481" stop-color="#1fff9a"/><stop offset="0.494" stop-color="#43ff99"/><stop offset="0.532" stop-color="#77ff94"/><stop offset="0.61" stop-color="#b7ff87"/><stop offset="0.727" stop-color="#ffff6b"/><stop offset="0.838" stop-color="#ffcd27"/><stop offset="0.857" stop-color="#ffc612"/><stop offset="0.864" stop-color="#ffc404"/><stop offset="1" stop-color="#ff9d00"/></linearGradient><linearGradient id="r108" gradientUnits="userSpaceOnUse" x1="71.4" x2="381.6" y1="0" y2="0"><stop offset="0" stop-color="#00ffc0"/><stop offset="0.439" stop-color="#00ffa1"/><stop offset="0.471" stop-color="#02ff9d"/><stop offset="0.477" stop-color="#28ff9d"/><stop offset="0.497" stop-color="#52ff9a"/><stop offset="0.548" stop-color="#8dff93"/><stop offset="0.658" stop-color="#dbff7f"/><stop offset="0.723" stop-color="#fffc6e"/><stop offset="0.839" stop-color="#ffc928"/><stop offset="0.871" stop-color="#ffbe00"/><stop offset="1" stop-color="#ff9a00"/></linearGradient><linearGradient id="r109" gradientUnits="userSpaceOnUse" x1="71.7" x2="383.6" y1="0" y2="0"><stop offset="0" stop-color="#00ffc1"/><stop offset="0.436" stop-color="#00ffa3"/><stop offset="0.462" stop-color="#00ffa0"/><stop offset="0.474" stop-color="#2fff9f"/><stop offset="0.5" stop-color="#5fff9c"/><stop offset="0.558" stop-color="#9aff94"/><stop offset="0.692" stop-color="#f5ff79"/><stop offset="0.718" stop-color="#fffa70"/><stop offset="0.84" stop-color="#ffc529"/><stop offset="0.865" stop-color="#ffbc0b"/><stop offset="0.872" stop-color="#ffba00"/><stop offset="1" stop-color="#ff9700"/></linearGradient><linearGradient id="r110" gradientUnits="userSpaceOnUse" x1="72.0" x2="385.6" y1="0" y2="0"><stop offset="0" stop-color="#00ffc3"/><stop offset="0.452" stop-color="#00ffa3"/><stop offset="0.459" stop-color="#00ffa2"/><stop offset="0.465" stop-color="#21ffa2"/><stop offset="0.478" stop-color="#44ffa0"/><stop offset="0.51" stop-color="#72ff9c"/><stop offset="0.58" stop-color="#b1ff92"/><stop offset="0.701" stop-color="#ffff79"/><stop offset="0.828" stop-color="#ffc532"/><stop offset="0.866" stop-color="#ffb80e"/><stop offset="0.873" stop-color="#ffb600"/><stop offset="1" stop-color="#ff9400"/></linearGradient><linearGradient id="r111" gradientUnits="userSpaceOnUse" x1="72.2" x2="387.6" y1="0" y2="0"><stop offset="0" stop-color="#00ffc4"/><stop offset="0.443" stop-color="#00ffa6"/><stop offset="0.456" stop-color="#06ffa4"/><stop offset="0.462" stop-color="#2affa4"/><stop offset="0.481" stop-color="#54ffa2"/><stop offset="0.532" stop-color="#8fff9b"/><stop offset="0.639" stop-color="#deff89"/><stop offset="0.696" stop-color="#fffc7b"/><stop offset="0.829" stop-color="#ffc133"/><stop offset="0.867" stop-color="#ffb510"/><stop offset="0.873" stop-color="#ffb303"/><stop offset="1" stop-color="#ff9100"/></linearGradient><linearGradient id="r112" gradientUnits="userSpaceOnUse" x1="72.5" x2="389.6" y1="0" y2="0"><stop offset="0" stop-color="#00ffc6"/><stop offset="0.447" stop-color="#00ffa7"/><stop offset="0.459" stop-color="#31ffa6"/><stop offset="0.484" stop-color="#61ffa3"/><stop offset="0.547" stop-color="#a2ff9b"/><stop offset="0.679" stop-color="#fcff83"/><stop offset="0.83" stop-color="#ffbd33"/><stop offset="0.868" stop-color="#ffb112"/><stop offset="0.881" stop-color="#ffad00"/><stop offset="1" stop-color="#ff8e00"/></linearGradient><linearGradient id="r113" gradientUnits="userSpaceOnUse" x1="72.8" x2="391.6" y1="0" y2="0"><stop offset="0" stop-color="#00ffc7"/><stop offset="0.44" stop-color="#00ffaa"/><stop offset="0.447" stop-color="#11ffa9"/><stop offset="0.453" stop-color="#2effa8"/><stop offset="0.472" stop-color="#56ffa6"/><stop offset="0.516" stop-color="#8bffa1"/><stop offset="0.61" stop-color="#d5ff93"/><stop offset="0.679" stop-color="#fffc84"/><stop offset="0.805" stop-color="#ffc243"/><stop offset="0.862" stop-color="#ffaf1c"/><stop offset="0.881" stop-color="#ffaa00"/><stop offset="1" stop-color="#ff8b00"/></linearGradient><linearGradient id="r114" gradientUnits="userSpaceOnUse" x1="73.1" x2="393.7" y1="0" y2="0"><stop offset="0" stop-color="#00ffc8"/><stop offset="0.438" stop-color="#00ffac"/><stop offset="0.444" stop-color="#1fffab"/><stop offset="0.456" stop-color="#44ffaa"/><stop offset="0.494" stop-color="#7bffa6"/><stop offset="0.575" stop-color="#c2ff9b"/><stop offset="0.669" stop-color="#fffe89"/><stop offset="0.787" stop-color="#ffc54c"/><stop offset="0.863" stop-color="#ffac1d"/><stop offset="0.881" stop-color="#ffa601"/><stop offset="1" stop-color="#ff8700"/></linearGradient><linearGradient id="r115" gradientUnits="userSpaceOnUse" x1="73.3" x2="395.7" y1="0" y2="0"><stop offset="0" stop-color="#00ffca"/><stop offset="0.435" stop-color="#00ffae"/><stop offset="0.441" stop-color="#28ffad"/><stop offset="0.453" stop-color="#49ffac"/><stop offset="0.491" stop-color="#7effa8"/><stop offset="0.578" stop-color="#c9ff9c"/><stop offset="0.665" stop-color="#fffb8a"/><stop offset="0.783" stop-color="#ffc34f"/><stop offset="0.863" stop-color="#ffa81e"/><stop offset="0.888" stop-color="#ffa100"/><stop offset="1" stop-color="#ff8400"/></linearGradient><linearGradient id="r116" gradientUnits="userSpaceOnUse" x1="73.6" x2="397.7" y1="0" y2="0"><stop offset="0" stop-color="#00ffcb"/><stop offset="0.426" stop-color="#00ffb1"/><stop offset="0.438" stop-color="#30ffb0"/><stop offset="0.457" stop-color="#58ffae"/><stop offset="0.5" stop-color="#8dffa9"/><stop offset="0.599" stop-color="#ddff9b"/><stop offset="0.654" stop-color="#fffc8f"/><stop offset="0.778" stop-color="#ffc152"/><stop offset="0.864" stop-color="#ffa51f"/><stop offset="0.889" stop-color="#ff9e00"/><stop offset="1" stop-color="#ff8100"/></linearGradient><linearGradient id="r117" gradientUnits="userSpaceOnUse" x1="73.9" x2="399.7" y1="0" y2="0"><stop offset="0" stop-color="#00ffcd"/><stop offset="0.423" stop-color="#00ffb3"/><stop offset="0.429" stop-color="#22ffb2"/><stop offset="0.442" stop-color="#46ffb1"/><stop offset="0.472" stop-color="#76ffae"/><stop offset="0.546" stop-color="#bbffa5"/><stop offset="0.644" stop-color="#fffe95"/><stop offset="0.773" stop-color="#ffbf54"/><stop offset="0.865" stop-color="#ffa120"/><stop offset="0.89" stop-color="#ff9a00"/><stop offset="1" stop-color="#ff7e00"/></linearGradient><linearGradient id="r118" gradientUnits="userSpaceOnUse" x1="74.2" x2="401.8" y1="0" y2="0"><stop offset="0" stop-color="#00ffce"/><stop offset="0.415" stop-color="#00ffb6"/><stop offset="0.421" stop-color="#06ffb5"/><stop offset="0.427" stop-color="#2bffb5"/><stop offset="0.445" stop-color="#56ffb3"/><stop offset="0.488" stop-color="#8dffae"/><stop offset="0.591" stop-color="#e2ffa1"/><stop offset="0.64" stop-color="#fffb96"/><stop offset="0.756" stop-color="#ffc25c"/><stop offset="0.86" stop-color="#ff9f25"/><stop offset="0.884" stop-color="#ff980c"/><stop offset="0.89" stop-color="#ff9700"/><stop offset="1" stop-color="#ff7b00"/></linearGradient><linearGradient id="r119" gradientUnits="userSpaceOnUse" x1="74.5" x2="403.8" y1="0" y2="0"><stop offset="0" stop-color="#00ffd0"/><stop offset="0.412" stop-color="#00ffb8"/><stop offset="0.424" stop-color="#33ffb7"/><stop offset="0.442" stop-color="#5affb5"/><stop offset="0.485" stop-color="#90ffb1"/><stop offset="0.594" stop-color="#e9ffa3"/><stop offset="0.63" stop-color="#fffc9b"/><stop offset="0.752" stop-color="#ffc05e"/><stop offset="0.861" stop-color="#ff9c26"/><stop offset="0.885" stop-color="#ff950e"/><stop offset="0.897" stop-color="#ff9200"/><stop offset="1" stop-color="#ff7800"/></linearGradient><linearGradient id="r120" gradientUnits="userSpaceOnUse" x1="74.8" x2="405.8" y1="0" y2="0"><stop offset="0" stop-color="#00ffd1"/><stop offset="0.406" stop-color="#00ffba"/><stop offset="0.412" stop-color="#10ffba"/><stop offset="0.418" stop-color="#2fffb9"/><stop offset="0.436" stop-color="#59ffb8"/><stop offset="0.479" stop-color="#90ffb3"/><stop offset="0.588" stop-color="#eaffa6"/><stop offset="0.624" stop-color="#fffb9d"/><stop offset="0.752" stop-color="#ffbc5e"/><stop offset="0.867" stop-color="#ff9723"/><stop offset="0.897" stop-color="#ff8f00"/><stop offset="1" stop-color="#ff7500"/></linearGradient><linearGradient id="r121" gradientUnits="userSpaceOnUse" x1="75.1" x2="407.8" y1="0" y2="0"><stop offset="0" stop-color="#00ffd3"/><stop offset="0.404" stop-color="#00ffbd"/><stop offset="0.416" stop-color="#36ffbc"/><stop offset="0.44" stop-color="#67ffb9"/><stop offset="0.5" stop-color="#aaffb3"/><stop offset="0.608" stop-color="#fdffa5"/><stop offset="0.747" stop-color="#ffba60"/><stop offset="0.867" stop-color="#ff9323"/><stop offset="0.898" stop-color="#ff8b00"/><stop offset="1" stop-color="#ff7200"/></linearGradient><linearGradient id="r122" gradientUnits="userSpaceOnUse" x1="75.4" x2="409.8" y1="0" y2="0"><stop offset="0" stop-color="#00ffd4"/><stop offset="0.401" stop-color="#00ffbf"/><stop offset="0.407" stop-color="#29ffbe"/><stop offset="0.419" stop-color="#4bffbd"/><stop offset="0.455" stop-color="#82ffba"/><stop offset="0.539" stop-color="#d0ffb1"/><stop offset="0.605" stop-color="#fffea7"/><stop offset="0.713" stop-color="#ffc46f"/><stop offset="0.862" stop-color="#ff9228"/><stop offset="0.892" stop-color="#ff890c"/><stop offset="0.898" stop-color="#ff8801"/><stop offset="1" stop-color="#ff6f00"/></linearGradient><linearGradient id="r123" gradientUnits="userSpaceOnUse" x1="75.7" x2="411.8" y1="0" y2="0"><stop offset="0" stop-color="#00ffd6"/><stop offset="0.393" stop-color="#00ffc2"/><stop offset="0.405" stop-color="#32ffc1"/><stop offset="0.423" stop-color="#5bffbf"/><stop offset="0.464" stop-color="#92ffbb"/><stop offset="0.56" stop-color="#e5ffb1"/><stop offset="0.601" stop-color="#fffba8"/><stop offset="0.708" stop-color="#ffc271"/><stop offset="0.863" stop-color="#ff8e29"/><stop offset="0.893" stop-color="#ff860e"/><stop offset="0.905" stop-color="#ff8300"/><stop offset="1" stop-color="#ff6b00"/></linearGradient><linearGradient id="r124" gradientUnits="userSpaceOnUse" x1="76.0" x2="413.8" y1="0" y2="0"><stop offset="0" stop-color="#00ffd7"/><stop offset="0.391" stop-color="#00ffc4"/><stop offset="0.396" stop-color="#23ffc3"/><stop offset="0.408" stop-color="#48ffc2"/><stop offset="0.438" stop-color="#79ffc0"/><stop offset="0.515" stop-color="#c7ffb8"/><stop offset="0.592" stop-color="#fffcad"/><stop offset="0.704" stop-color="#ffc073"/><stop offset="0.864" stop-color="#ff8b29"/><stop offset="0.893" stop-color="#ff8310"/><stop offset="0.905" stop-color="#ff8000"/><stop offset="1" stop-color="#ff6800"/></linearGradient><linearGradient id="r125" gradientUnits="userSpaceOnUse" x1="76.3" x2="415.8" y1="0" y2="0"><stop offset="0" stop-color="#00ffd9"/><stop offset="0.382" stop-color="#00ffc6"/><stop offset="0.388" stop-color="#07ffc6"/><stop offset="0.394" stop-color="#2dffc6"/><stop offset="0.406" stop-color="#4effc5"/><stop offset="0.441" stop-color="#84ffc2"/><stop offset="0.518" stop-color="#ceffbb"/><stop offset="0.582" stop-color="#fffeb2"/><stop offset="0.676" stop-color="#ffc87f"/><stop offset="0.865" stop-color="#ff8729"/><stop offset="0.894" stop-color="#ff7f11"/><stop offset="0.906" stop-color="#ff7c00"/><stop offset="1" stop-color="#ff6500"/></linearGradient><linearGradient id="r126" gradientUnits="userSpaceOnUse" x1="76.7" x2="417.8" y1="0" y2="0"><stop offset="0" stop-color="#00ffda"/><stop offset="0.38" stop-color="#00ffc9"/><stop offset="0.392" stop-color="#35ffc8"/><stop offset="0.409" stop-color="#5effc7"/><stop offset="0.45" stop-color="#95ffc3"/><stop offset="0.556" stop-color="#f2ffb9"/><stop offset="0.579" stop-color="#fffbb3"/><stop offset="0.678" stop-color="#ffc37e"/><stop offset="0.865" stop-color="#ff842a"/><stop offset="0.901" stop-color="#ff7b0b"/><stop offset="0.906" stop-color="#ff7901"/><stop offset="1" stop-color="#ff6200"/></linearGradient><linearGradient id="r127" gradientUnits="userSpaceOnUse" x1="77.0" x2="419.8" y1="0" y2="0"><stop offset="0" stop-color="#00ffdc"/><stop offset="0.374" stop-color="#00ffcb"/><stop offset="0.38" stop-color="#11ffcb"/><stop offset="0.386" stop-color="#31ffca"/><stop offset="0.404" stop-color="#5cffc9"/><stop offset="0.444" stop-color="#94ffc6"/><stop offset="0.532" stop-color="#e5ffbe"/><stop offset="0.567" stop-color="#fffeb9"/><stop offset="0.661" stop-color="#ffc785"/><stop offset="0.825" stop-color="#ff8c40"/><stop offset="0.889" stop-color="#ff7a1a"/><stop offset="0.912" stop-color="#ff7400"/><stop offset="1" stop-color="#ff5e00"/></linearGradient><linearGradient id="r128" gradientUnits="userSpaceOnUse" x1="77.3" x2="421.8" y1="0" y2="0"><stop offset="0" stop-color="#00ffde"/><stop offset="0.372" stop-color="#00ffce"/><stop offset="0.378" stop-color="#21ffcd"/><stop offset="0.39" stop-color="#49ffcc"/><stop offset="0.424" stop-color="#83ffca"/><stop offset="0.494" stop-color="#caffc4"/><stop offset="0.558" stop-color="#ffffbe"/><stop offset="0.663" stop-color="#ffc284"/><stop offset="0.855" stop-color="#ff8032"/><stop offset="0.901" stop-color="#ff740f"/><stop offset="0.913" stop-color="#ff7100"/><stop offset="1" stop-color="#ff5b00"/></linearGradient><linearGradient id="r129" gradientUnits="userSpaceOnUse" x1="77.6" x2="423.8" y1="0" y2="0"><stop offset="0" stop-color="#00ffdf"/><stop offset="0.37" stop-color="#00ffd0"/><stop offset="0.376" stop-color="#2cffd0"/><stop offset="0.387" stop-color="#4effcf"/><stop offset="0.416" stop-color="#7fffcd"/><stop offset="0.491" stop-color="#cdffc7"/><stop offset="0.555" stop-color="#fffcbf"/><stop offset="0.659" stop-color="#ffc085"/><stop offset="0.844" stop-color="#ff8038"/><stop offset="0.902" stop-color="#ff7011"/><stop offset="0.913" stop-color="#ff6d00"/><stop offset="1" stop-color="#ff5700"/></linearGradient><linearGradient id="r130" gradientUnits="userSpaceOnUse" x1="78.0" x2="425.9" y1="0" y2="0"><stop offset="0" stop-color="#00ffe1"/><stop offset="0.362" stop-color="#00ffd3"/><stop offset="0.374" stop-color="#35ffd2"/><stop offset="0.397" stop-color="#69ffd1"/><stop offset="0.443" stop-color="#a4ffcd"/><stop offset="0.546" stop-color="#fffec3"/><stop offset="0.638" stop-color="#ffc68e"/><stop offset="0.799" stop-color="#ff8a4c"/><stop offset="0.891" stop-color="#ff701d"/><stop offset="0.914" stop-color="#ff6a01"/><stop offset="1" stop-color="#ff5400"/></linearGradient><linearGradient id="r131" gradientUnits="userSpaceOnUse" x1="78.3" x2="427.9" y1="0" y2="0"><stop offset="0" stop-color="#00ffe2"/><stop offset="0.36" stop-color="#00ffd5"/><stop offset="0.366" stop-color="#26ffd5"/><stop offset="0.377" stop-color="#4cffd4"/><stop offset="0.411" stop-color="#86ffd2"/><stop offset="0.491" stop-color="#d9ffcc"/><stop offset="0.537" stop-color="#ffffc8"/><stop offset="0.629" stop-color="#ffc692"/><stop offset="0.8" stop-color="#ff864b"/><stop offset="0.891" stop-color="#ff6d1e"/><stop offset="0.92" stop-color="#ff6500"/><stop offset="1" stop-color="#ff5000"/></linearGradient><linearGradient id="r132" gradientUnits="userSpaceOnUse" x1="78.7" x2="429.9" y1="0" y2="0"><stop offset="0" stop-color="#00ffe4"/><stop offset="0.352" stop-color="#00ffd8"/><stop offset="0.358" stop-color="#0effd7"/><stop offset="0.364" stop-color="#31ffd7"/><stop offset="0.381" stop-color="#5dffd6"/><stop offset="0.42" stop-color="#98ffd4"/><stop offset="0.511" stop-color="#efffcd"/><stop offset="0.534" stop-color="#fffcc9"/><stop offset="0.631" stop-color="#ffc191"/><stop offset="0.795" stop-color="#ff844d"/><stop offset="0.892" stop-color="#ff691e"/><stop offset="0.92" stop-color="#ff6100"/><stop offset="1" stop-color="#ff4c00"/></linearGradient><linearGradient id="r133" gradientUnits="userSpaceOnUse" x1="79.0" x2="431.9" y1="0" y2="0"><stop offset="0" stop-color="#00ffe6"/><stop offset="0.352" stop-color="#00ffda"/><stop offset="0.358" stop-color="#2bffda"/><stop offset="0.369" stop-color="#4fffd9"/><stop offset="0.403" stop-color="#89ffd7"/><stop offset="0.477" stop-color="#d7ffd2"/><stop offset="0.528" stop-color="#fffbcb"/><stop offset="0.619" stop-color="#ffc395"/><stop offset="0.773" stop-color="#ff8856"/><stop offset="0.886" stop-color="#ff6723"/><stop offset="0.915" stop-color="#ff5f09"/><stop offset="0.92" stop-color="#ff5e00"/><stop offset="1" stop-color="#ff4800"/></linearGradient><linearGradient id="r134" gradientUnits="userSpaceOnUse" x1="79.4" x2="433.9" y1="0" y2="0"><stop offset="0" stop-color="#00ffe7"/><stop offset="0.345" stop-color="#00ffdd"/><stop offset="0.356" stop-color="#34ffdc"/><stop offset="0.373" stop-color="#60ffdb"/><stop offset="0.412" stop-color="#9bffd9"/><stop offset="0.514" stop-color="#fdffd2"/><stop offset="0.621" stop-color="#ffbd94"/><stop offset="0.831" stop-color="#ff7340"/><stop offset="0.904" stop-color="#ff5f17"/><stop offset="0.927" stop-color="#ff5900"/><stop offset="1" stop-color="#ff4400"/></linearGradient><linearGradient id="r135" gradientUnits="userSpaceOnUse" x1="79.7" x2="435.9" y1="0" y2="0"><stop offset="0" stop-color="#00ffe9"/><stop offset="0.343" stop-color="#00ffdf"/><stop offset="0.348" stop-color="#26ffdf"/><stop offset="0.36" stop-color="#4dffde"/><stop offset="0.393" stop-color="#89ffdd"/><stop offset="0.478" stop-color="#e3ffd8"/><stop offset="0.511" stop-color="#fffed5"/><stop offset="0.596" stop-color="#ffc6a0"/><stop offset="0.753" stop-color="#ff875e"/><stop offset="0.888" stop-color="#ff6024"/><stop offset="0.916" stop-color="#ff580c"/><stop offset="0.933" stop-color="#ff5300"/><stop offset="1" stop-color="#ff3f00"/></linearGradient><linearGradient id="r136" gradientUnits="userSpaceOnUse" x1="80.1" x2="438.0" y1="0" y2="0"><stop offset="0" stop-color="#00ffeb"/><stop offset="0.335" stop-color="#00ffe2"/><stop offset="0.341" stop-color="#09ffe2"/><stop offset="0.346" stop-color="#30ffe1"/><stop offset="0.358" stop-color="#53ffe1"/><stop offset="0.391" stop-color="#8cffdf"/><stop offset="0.475" stop-color="#e6ffdb"/><stop offset="0.503" stop-color="#ffffd9"/><stop offset="0.587" stop-color="#ffc7a3"/><stop offset="0.732" stop-color="#ff8b66"/><stop offset="0.888" stop-color="#ff5c25"/><stop offset="0.922" stop-color="#ff5206"/><stop offset="0.939" stop-color="#ff4e00"/><stop offset="1" stop-color="#ff3b00"/></linearGradient><linearGradient id="r137" gradientUnits="userSpaceOnUse" x1="80.4" x2="440.0" y1="0" y2="0"><stop offset="0" stop-color="#00ffed"/><stop offset="0.333" stop-color="#00ffe4"/><stop offset="0.344" stop-color="#3affe4"/><stop offset="0.367" stop-color="#6effe3"/><stop offset="0.417" stop-color="#b2ffe1"/><stop offset="0.494" stop-color="#fdffdd"/><stop offset="0.589" stop-color="#ffc1a1"/><stop offset="0.744" stop-color="#ff8361"/><stop offset="0.889" stop-color="#ff5825"/><stop offset="0.922" stop-color="#ff4e08"/><stop offset="0.933" stop-color="#ff4b00"/><stop offset="1" stop-color="#ff3600"/></linearGradient><linearGradient id="r138" gradientUnits="userSpaceOnUse" x1="80.8" x2="442.0" y1="0" y2="0"><stop offset="0" stop-color="#00ffee"/><stop offset="0.331" stop-color="#00ffe7"/><stop offset="0.337" stop-color="#2cffe7"/><stop offset="0.348" stop-color="#51ffe6"/><stop offset="0.376" stop-color="#84ffe5"/><stop offset="0.442" stop-color="#d2ffe3"/><stop offset="0.492" stop-color="#fffdde"/><stop offset="0.569" stop-color="#ffc8ab"/><stop offset="0.707" stop-color="#ff8c6f"/><stop offset="0.89" stop-color="#ff5426"/><stop offset="0.923" stop-color="#ff4a0a"/><stop offset="0.934" stop-color="#ff4700"/><stop offset="1" stop-color="#ff3000"/></linearGradient><linearGradient id="r139" gradientUnits="userSpaceOnUse" x1="81.2" x2="444.0" y1="0" y2="0"><stop offset="0" stop-color="#00fff0"/><stop offset="0.326" stop-color="#00ffea"/><stop offset="0.331" stop-color="#25ffe9"/><stop offset="0.343" stop-color="#4effe9"/><stop offset="0.37" stop-color="#83ffe8"/><stop offset="0.431" stop-color="#cdffe6"/><stop offset="0.486" stop-color="#fffce1"/><stop offset="0.575" stop-color="#ffc0a7"/><stop offset="0.729" stop-color="#ff8167"/><stop offset="0.89" stop-color="#ff5026"/><stop offset="0.923" stop-color="#ff460c"/><stop offset="0.939" stop-color="#ff4100"/><stop offset="1" stop-color="#ff2a00"/></linearGradient><linearGradient id="r140" gradientUnits="userSpaceOnUse" x1="81.6" x2="446.0" y1="0" y2="0"><stop offset="0" stop-color="#00fff2"/><stop offset="0.319" stop-color="#00ffec"/><stop offset="0.324" stop-color="#05ffec"/><stop offset="0.33" stop-color="#31ffec"/><stop offset="0.346" stop-color="#61ffec"/><stop offset="0.385" stop-color="#9effea"/><stop offset="0.467" stop-color="#f6ffe8"/><stop offset="0.484" stop-color="#fff9e1"/><stop offset="0.56" stop-color="#ffc4ae"/><stop offset="0.692" stop-color="#ff8a74"/><stop offset="0.89" stop-color="#ff4c27"/><stop offset="0.923" stop-color="#ff410e"/><stop offset="0.934" stop-color="#ff3e00"/><stop offset="1" stop-color="#ff2300"/></linearGradient><linearGradient id="r141" gradientUnits="userSpaceOnUse" x1="81.9" x2="448.1" y1="0" y2="0"><stop offset="0" stop-color="#00fff4"/><stop offset="0.317" stop-color="#00ffef"/><stop offset="0.328" stop-color="#3affef"/><stop offset="0.344" stop-color="#66ffee"/><stop offset="0.388" stop-color="#a9ffed"/><stop offset="0.47" stop-color="#ffffeb"/><stop offset="0.552" stop-color="#ffc4b1"/><stop offset="0.699" stop-color="#ff8471"/><stop offset="0.891" stop-color="#ff4827"/><stop offset="0.923" stop-color="#ff3c0f"/><stop offset="0.934" stop-color="#ff3800"/><stop offset="1" stop-color="#ff1a00"/></linearGradient><linearGradient id="r142" gradientUnits="userSpaceOnUse" x1="82.3" x2="450.1" y1="0" y2="0"><stop offset="0" stop-color="#00fff6"/><stop offset="0.315" stop-color="#00fff2"/><stop offset="0.321" stop-color="#2dfff2"/><stop offset="0.332" stop-color="#52fff1"/><stop offset="0.359" stop-color="#87fff1"/><stop offset="0.418" stop-color="#d2ffef"/><stop offset="0.467" stop-color="#fffbeb"/><stop offset="0.543" stop-color="#ffc4b5"/><stop offset="0.69" stop-color="#ff8474"/><stop offset="0.891" stop-color="#ff4328"/><stop offset="0.929" stop-color="#ff3509"/><stop offset="0.946" stop-color="#ff2e00"/><stop offset="0.995" stop-color="#ff1200"/><stop offset="1" stop-color="#ff0d00"/></linearGradient><linearGradient id="r143" gradientUnits="userSpaceOnUse" x1="82.7" x2="452.1" y1="0" y2="0"><stop offset="0" stop-color="#00fff7"/><stop offset="0.308" stop-color="#00fff4"/><stop offset="0.314" stop-color="#17fff4"/><stop offset="0.319" stop-color="#37fff4"/><stop offset="0.335" stop-color="#65fff4"/><stop offset="0.373" stop-color="#a2fff3"/><stop offset="0.454" stop-color="#fcfff2"/><stop offset="0.541" stop-color="#ffc2b6"/><stop offset="0.67" stop-color="#ff887b"/><stop offset="0.892" stop-color="#ff3e28"/><stop offset="0.93" stop-color="#ff2f0b"/><stop offset="0.941" stop-color="#ff2a00"/><stop offset="0.984" stop-color="#ff0e00"/><stop offset="0.995" stop-color="#ff0000"/><stop offset="1" stop-color="#ff0000"/></linearGradient><linearGradient id="r144" gradientUnits="userSpaceOnUse" x1="83.1" x2="454.2" y1="0" y2="0"><stop offset="0" stop-color="#00fff9"/><stop offset="0.306" stop-color="#00fff7"/><stop offset="0.312" stop-color="#28fff7"/><stop offset="0.323" stop-color="#51fff7"/><stop offset="0.349" stop-color="#87fff7"/><stop offset="0.409" stop-color="#d3fff6"/><stop offset="0.452" stop-color="#fffef5"/><stop offset="0.532" stop-color="#ffc2b9"/><stop offset="0.672" stop-color="#ff837b"/><stop offset="0.892" stop-color="#ff3928"/><stop offset="0.93" stop-color="#ff280d"/><stop offset="0.941" stop-color="#ff2300"/><stop offset="0.973" stop-color="#ff0900"/><stop offset="0.984" stop-color="#ff0000"/><stop offset="1" stop-color="#ff0000"/></linearGradient><linearGradient id="r145" gradientUnits="userSpaceOnUse" x1="83.5" x2="456.2" y1="0" y2="0"><stop offset="0" stop-color="#00fffb"/><stop offset="0.301" stop-color="#00fffa"/><stop offset="0.312" stop-color="#3bfffa"/><stop offset="0.328" stop-color="#68fffa"/><stop offset="0.366" stop-color="#a6fffa"/><stop offset="0.446" stop-color="#fffdf7"/><stop offset="0.527" stop-color="#ffc1bb"/><stop offset="0.651" stop-color="#ff8882"/><stop offset="0.898" stop-color="#ff3126"/><stop offset="0.93" stop-color="#ff200e"/><stop offset="0.941" stop-color="#ff1900"/><stop offset="0.968" stop-color="#ff0000"/><stop offset="1" stop-color="#ff0000"/></linearGradient><linearGradient id="r146" gradientUnits="userSpaceOnUse" x1="83.9" x2="458.2" y1="0" y2="0"><stop offset="0" stop-color="#00fffd"/><stop offset="0.299" stop-color="#00fffd"/><stop offset="0.305" stop-color="#2dfffd"/><stop offset="0.316" stop-color="#54fffd"/><stop offset="0.342" stop-color="#8afffd"/><stop offset="0.401" stop-color="#d7fffd"/><stop offset="0.439" stop-color="#fffffc"/><stop offset="0.508" stop-color="#ffc7c5"/><stop offset="0.642" stop-color="#ff8785"/><stop offset="0.893" stop-color="#ff2d29"/><stop offset="0.936" stop-color="#ff1109"/><stop offset="0.952" stop-color="#ff0000"/><stop offset="1" stop-color="#ff0000"/></linearGradient><linearGradient id="r147" gradientUnits="userSpaceOnUse" x1="84.3" x2="460.2" y1="0" y2="0"><stop offset="0" stop-color="#00ffff"/><stop offset="0.293" stop-color="#00feff"/><stop offset="0.298" stop-color="#17feff"/><stop offset="0.303" stop-color="#38feff"/><stop offset="0.319" stop-color="#67feff"/><stop offset="0.356" stop-color="#a6feff"/><stop offset="0.431" stop-color="#fdfeff"/><stop offset="0.516" stop-color="#ffbebf"/><stop offset="0.654" stop-color="#ff7f80"/><stop offset="0.894" stop-color="#ff2529"/><stop offset="0.926" stop-color="#ff0d16"/><stop offset="0.936" stop-color="#ff000b"/><stop offset="0.947" stop-color="#ff0000"/><stop offset="1" stop-color="#ff0000"/></linearGradient><linearGradient id="r148" gradientUnits="userSpaceOnUse" x1="84.7" x2="462.2" y1="0" y2="0"><stop offset="0" stop-color="#00fdff"/><stop offset="0.291" stop-color="#00fcff"/><stop offset="0.296" stop-color="#28fcff"/><stop offset="0.307" stop-color="#52fbff"/><stop offset="0.333" stop-color="#89fbff"/><stop offset="0.397" stop-color="#dbfbff"/><stop offset="0.434" stop-color="#fff7fc"/><stop offset="0.513" stop-color="#ffbbc0"/><stop offset="0.651" stop-color="#ff7c81"/><stop offset="0.878" stop-color="#ff2631"/><stop offset="0.915" stop-color="#ff071e"/><stop offset="0.926" stop-color="#ff0017"/><stop offset="0.947" stop-color="#ff0000"/><stop offset="1" stop-color="#ff0000"/></linearGradient><linearGradient id="r149" gradientUnits="userSpaceOnUse" x1="85.1" x2="464.2" y1="0" y2="0"><stop offset="0" stop-color="#00fbff"/><stop offset="0.284" stop-color="#00f9ff"/><stop offset="0.289" stop-color="#0cf9ff"/><stop offset="0.295" stop-color="#34f9ff"/><stop offset="0.311" stop-color="#64f8ff"/><stop offset="0.347" stop-color="#a3f8ff"/><stop offset="0.426" stop-color="#fdf7ff"/><stop offset="0.511" stop-color="#ffb8c0"/><stop offset="0.653" stop-color="#ff7880"/><stop offset="0.863" stop-color="#ff2738"/><stop offset="0.9" stop-color="#ff0827"/><stop offset="0.911" stop-color="#ff0022"/><stop offset="0.942" stop-color="#ff0007"/><stop offset="0.953" stop-color="#ff0000"/><stop offset="1" stop-color="#ff0000"/></linearGradient><linearGradient id="r150" gradientUnits="userSpaceOnUse" x1="85.5" x2="466.2" y1="0" y2="0"><stop offset="0" stop-color="#00f9ff"/><stop offset="0.284" stop-color="#00f6ff"/><stop offset="0.289" stop-color="#2cf6ff"/><stop offset="0.3" stop-color="#53f6ff"/><stop offset="0.326" stop-color="#88f5ff"/><stop offset="0.384" stop-color="#d4f4ff"/><stop offset="0.426" stop-color="#fff2fe"/><stop offset="0.505" stop-color="#ffb7c2"/><stop offset="0.637" stop-color="#ff7a86"/><stop offset="0.847" stop-color="#ff283e"/><stop offset="0.884" stop-color="#ff0a2f"/><stop offset="0.895" stop-color="#ff002b"/><stop offset="0.942" stop-color="#ff0009"/><stop offset="0.958" stop-color="#ff0000"/><stop offset="1" stop-color="#ff0000"/></linearGradient><linearGradient id="r151" gradientUnits="userSpaceOnUse" x1="85.9" x2="468.2" y1="0" y2="0"><stop offset="0" stop-color="#00f7ff"/><stop offset="0.277" stop-color="#00f3ff"/><stop offset="0.283" stop-color="#15f3ff"/><stop offset="0.288" stop-color="#36f3ff"/><stop offset="0.304" stop-color="#64f3ff"/><stop offset="0.34" stop-color="#a2f2ff"/><stop offset="0.419" stop-color="#fbf0ff"/><stop offset="0.513" stop-color="#ffaebc"/><stop offset="0.665" stop-color="#ff6c7b"/><stop offset="0.832" stop-color="#ff2844"/><stop offset="0.869" stop-color="#ff0b36"/><stop offset="0.88" stop-color="#ff0032"/><stop offset="0.937" stop-color="#ff0011"/><stop offset="0.953" stop-color="#ff0000"/><stop offset="1" stop-color="#ff0000"/></linearGradient><linearGradient id="r152" gradientUnits="userSpaceOnUse" x1="86.3" x2="470.2" y1="0" y2="0"><stop offset="0" stop-color="#00f5ff"/><stop offset="0.276" stop-color="#00f0ff"/><stop offset="0.281" stop-color="#27f0ff"/><stop offset="0.292" stop-color="#4ff0ff"/><stop offset="0.312" stop-color="#7df0ff"/><stop offset="0.37" stop-color="#caeeff"/><stop offset="0.422" stop-color="#ffeafd"/><stop offset="0.495" stop-color="#ffb4c6"/><stop offset="0.625" stop-color="#ff7789"/><stop offset="0.818" stop-color="#ff2949"/><stop offset="0.854" stop-color="#ff0d3c"/><stop offset="0.865" stop-color="#ff0038"/><stop offset="0.938" stop-color="#ff0012"/><stop offset="0.953" stop-color="#ff0000"/><stop offset="1" stop-color="#ff0000"/></linearGradient><linearGradient id="r153" gradientUnits="userSpaceOnUse" x1="86.7" x2="472.3" y1="0" y2="0"><stop offset="0" stop-color="#00f3ff"/><stop offset="0.269" stop-color="#00eeff"/><stop offset="0.275" stop-color="#0beeff"/><stop offset="0.28" stop-color="#32eeff"/><stop offset="0.295" stop-color="#62edff"/><stop offset="0.332" stop-color="#9fecff"/><stop offset="0.415" stop-color="#fce9ff"/><stop offset="0.508" stop-color="#ffa8bd"/><stop offset="0.663" stop-color="#ff647b"/><stop offset="0.808" stop-color="#ff274c"/><stop offset="0.839" stop-color="#ff0e42"/><stop offset="0.85" stop-color="#ff003e"/><stop offset="0.933" stop-color="#ff0017"/><stop offset="0.953" stop-color="#ff0000"/><stop offset="1" stop-color="#ff0000"/></linearGradient><linearGradient id="r154" gradientUnits="userSpaceOnUse" x1="87.1" x2="474.3" y1="0" y2="0"><stop offset="0" stop-color="#00f1ff"/><stop offset="0.268" stop-color="#00ebff"/><stop offset="0.273" stop-color="#22ebff"/><stop offset="0.284" stop-color="#4debff"/><stop offset="0.309" stop-color="#83eaff"/><stop offset="0.366" stop-color="#cce7ff"/><stop offset="0.418" stop-color="#ffe3fc"/><stop offset="0.495" stop-color="#ffabc3"/><stop offset="0.639" stop-color="#ff6a84"/><stop offset="0.794" stop-color="#ff2851"/><stop offset="0.83" stop-color="#ff0745"/><stop offset="0.84" stop-color="#ff0042"/><stop offset="0.933" stop-color="#ff0018"/><stop offset="0.959" stop-color="#ff0000"/><stop offset="1" stop-color="#ff0000"/></linearGradient><linearGradient id="r155" gradientUnits="userSpaceOnUse" x1="87.6" x2="476.3" y1="0" y2="0"><stop offset="0" stop-color="#00efff"/><stop offset="0.263" stop-color="#00e9ff"/><stop offset="0.268" stop-color="#15e8ff"/><stop offset="0.273" stop-color="#35e8ff"/><stop offset="0.289" stop-color="#62e8ff"/><stop offset="0.32" stop-color="#97e6ff"/><stop offset="0.397" stop-color="#f0e2ff"/><stop offset="0.418" stop-color="#ffddfa"/><stop offset="0.5" stop-color="#ffa4bf"/><stop offset="0.655" stop-color="#ff5f7e"/><stop offset="0.789" stop-color="#ff2353"/><stop offset="0.814" stop-color="#ff0a4b"/><stop offset="0.825" stop-color="#ff0047"/><stop offset="0.928" stop-color="#ff001c"/><stop offset="0.964" stop-color="#ff0000"/><stop offset="1" stop-color="#ff0000"/></linearGradient><linearGradient id="r156" gradientUnits="userSpaceOnUse" x1="88.0" x2="478.3" y1="0" y2="0"><stop offset="0" stop-color="#00edff"/><stop offset="0.262" stop-color="#00e6ff"/><stop offset="0.267" stop-color="#26e6ff"/><stop offset="0.277" stop-color="#4ee5ff"/><stop offset="0.303" stop-color="#82e4ff"/><stop offset="0.359" stop-color="#cbe1ff"/><stop offset="0.41" stop-color="#ffdeff"/><stop offset="0.482" stop-color="#ffaac9"/><stop offset="0.61" stop-color="#ff6d8d"/><stop offset="0.769" stop-color="#ff2759"/><stop offset="0.8" stop-color="#ff0b4f"/><stop offset="0.81" stop-color="#ff004c"/><stop offset="0.928" stop-color="#ff001d"/><stop offset="0.959" stop-color="#ff0000"/><stop offset="1" stop-color="#ff0000"/></linearGradient><linearGradient id="r157" gradientUnits="userSpaceOnUse" x1="88.4" x2="480.3" y1="0" y2="0"><stop offset="0" stop-color="#00ebff"/><stop offset="0.255" stop-color="#00e3ff"/><stop offset="0.26" stop-color="#0ce3ff"/><stop offset="0.265" stop-color="#31e3ff"/><stop offset="0.276" stop-color="#53e2ff"/><stop offset="0.306" stop-color="#8de1ff"/><stop offset="0.383" stop-color="#e7dcff"/><stop offset="0.413" stop-color="#ffd5f9"/><stop offset="0.5" stop-color="#ff9bbd"/><stop offset="0.658" stop-color="#ff557c"/><stop offset="0.76" stop-color="#ff245c"/><stop offset="0.786" stop-color="#ff0c54"/><stop offset="0.801" stop-color="#ff004f"/><stop offset="0.929" stop-color="#ff001d"/><stop offset="0.959" stop-color="#ff0000"/><stop offset="1" stop-color="#ff0000"/></linearGradient><linearGradient id="r158" gradientUnits="userSpaceOnUse" x1="88.8" x2="482.3" y1="0" y2="0"><stop offset="0" stop-color="#00e9ff"/><stop offset="0.254" stop-color="#00e1ff"/><stop offset="0.264" stop-color="#3ae0ff"/><stop offset="0.284" stop-color="#6edfff"/><stop offset="0.33" stop-color="#b1dcff"/><stop offset="0.406" stop-color="#ffd6fe"/><stop offset="0.482" stop-color="#ffa1c6"/><stop offset="0.619" stop-color="#ff6189"/><stop offset="0.746" stop-color="#ff2560"/><stop offset="0.772" stop-color="#ff0d58"/><stop offset="0.782" stop-color="#ff0055"/><stop offset="0.924" stop-color="#ff0021"/><stop offset="0.964" stop-color="#ff0000"/><stop offset="1" stop-color="#ff0000"/></linearGradient><linearGradient id="r159" gradientUnits="userSpaceOnUse" x1="89.3" x2="484.3" y1="0" y2="0"><stop offset="0" stop-color="#00e8ff"/><stop offset="0.253" stop-color="#01deff"/><stop offset="0.258" stop-color="#2edeff"/><stop offset="0.268" stop-color="#51ddff"/><stop offset="0.293" stop-color="#83dcff"/><stop offset="0.359" stop-color="#d4d7ff"/><stop offset="0.404" stop-color="#ffd2fd"/><stop offset="0.485" stop-color="#ff9bc4"/><stop offset="0.621" stop-color="#ff5c88"/><stop offset="0.737" stop-color="#ff2263"/><stop offset="0.768" stop-color="#ff005a"/><stop offset="0.924" stop-color="#ff0021"/><stop offset="0.97" stop-color="#ff0000"/><stop offset="1" stop-color="#ff0000"/></linearGradient><linearGradient id="r160" gradientUnits="userSpaceOnUse" x1="89.7" x2="486.3" y1="0" y2="0"><stop offset="0" stop-color="#00e6ff"/><stop offset="0.247" stop-color="#00dbff"/><stop offset="0.253" stop-color="#25dbff"/><stop offset="0.263" stop-color="#4cdbff"/><stop offset="0.293" stop-color="#88d9ff"/><stop offset="0.364" stop-color="#dcd3ff"/><stop offset="0.404" stop-color="#ffcdfb"/><stop offset="0.485" stop-color="#ff96c3"/><stop offset="0.626" stop-color="#ff5586"/><stop offset="0.727" stop-color="#ff2066"/><stop offset="0.747" stop-color="#ff0960"/><stop offset="0.753" stop-color="#ff005e"/><stop offset="0.919" stop-color="#ff0024"/><stop offset="0.955" stop-color="#ff000c"/><stop offset="0.97" stop-color="#ff0000"/><stop offset="1" stop-color="#ff0000"/></linearGradient><linearGradient id="r161" gradientUnits="userSpaceOnUse" x1="90.2" x2="488.4" y1="0" y2="0"><stop offset="0" stop-color="#00e4ff"/><stop offset="0.241" stop-color="#00d9ff"/><stop offset="0.246" stop-color="#0ed9ff"/><stop offset="0.251" stop-color="#31d8ff"/><stop offset="0.266" stop-color="#5ed7ff"/><stop offset="0.296" stop-color="#91d5ff"/><stop offset="0.372" stop-color="#e7cfff"/><stop offset="0.402" stop-color="#ffc9fb"/><stop offset="0.482" stop-color="#ff93c3"/><stop offset="0.628" stop-color="#ff4f85"/><stop offset="0.714" stop-color="#ff216a"/><stop offset="0.734" stop-color="#ff0a64"/><stop offset="0.744" stop-color="#ff0061"/><stop offset="0.92" stop-color="#ff0025"/><stop offset="0.96" stop-color="#ff0007"/><stop offset="0.975" stop-color="#ff0000"/><stop offset="1" stop-color="#ff0000"/></linearGradient><linearGradient id="r162" gradientUnits="userSpaceOnUse" x1="90.6" x2="490.4" y1="0" y2="0"><stop offset="0" stop-color="#00e2ff"/><stop offset="0.24" stop-color="#00d6ff"/><stop offset="0.245" stop-color="#22d6ff"/><stop offset="0.255" stop-color="#4ad5ff"/><stop offset="0.28" stop-color="#7ed4ff"/><stop offset="0.34" stop-color="#c9cfff"/><stop offset="0.395" stop-color="#ffc9ff"/><stop offset="0.47" stop-color="#ff96c9"/><stop offset="0.61" stop-color="#ff528b"/><stop offset="0.7" stop-color="#ff216e"/><stop offset="0.72" stop-color="#ff0c68"/><stop offset="0.73" stop-color="#ff0065"/><stop offset="0.92" stop-color="#ff0025"/><stop offset="0.96" stop-color="#ff0008"/><stop offset="0.98" stop-color="#ff0000"/><stop offset="1" stop-color="#ff0000"/></linearGradient><linearGradient id="r163" gradientUnits="userSpaceOnUse" x1="91.1" x2="492.4" y1="0" y2="0"><stop offset="0" stop-color="#00e0ff"/><stop offset="0.234" stop-color="#00d4ff"/><stop offset="0.239" stop-color="#06d4ff"/><stop offset="0.244" stop-color="#2ed3ff"/><stop offset="0.259" stop-color="#5cd2ff"/><stop offset="0.299" stop-color="#9dcfff"/><stop offset="0.388" stop-color="#fbc6ff"/><stop offset="0.498" stop-color="#ff82b9"/><stop offset="0.667" stop-color="#ff3078"/><stop offset="0.706" stop-color="#ff0d6c"/><stop offset="0.716" stop-color="#ff0069"/><stop offset="0.915" stop-color="#ff0028"/><stop offset="0.96" stop-color="#ff000a"/><stop offset="0.975" stop-color="#ff0000"/><stop offset="1" stop-color="#ff0000"/></linearGradient><linearGradient id="r164" gradientUnits="userSpaceOnUse" x1="91.5" x2="494.4" y1="0" y2="0"><stop offset="0" stop-color="#00deff"/><stop offset="0.234" stop-color="#00d1ff"/><stop offset="0.239" stop-color="#26d1ff"/><stop offset="0.249" stop-color="#4bd0ff"/><stop offset="0.274" stop-color="#7eceff"/><stop offset="0.343" stop-color="#d2c8ff"/><stop offset="0.393" stop-color="#ffc0fc"/><stop offset="0.473" stop-color="#ff8bc5"/><stop offset="0.617" stop-color="#ff4588"/><stop offset="0.682" stop-color="#ff1c73"/><stop offset="0.701" stop-color="#ff006d"/><stop offset="0.915" stop-color="#ff0028"/><stop offset="0.96" stop-color="#ff000b"/><stop offset="0.975" stop-color="#ff0000"/><stop offset="1" stop-color="#ff0000"/></linearGradient><linearGradient id="r165" gradientUnits="userSpaceOnUse" x1="92.0" x2="495.4" y1="0" y2="0"><stop offset="0" stop-color="#00dcff"/><stop offset="0.228" stop-color="#00cfff"/><stop offset="0.233" stop-color="#08cfff"/><stop offset="0.238" stop-color="#2eceff"/><stop offset="0.252" stop-color="#5bcdff"/><stop offset="0.292" stop-color="#9bcaff"/><stop offset="0.381" stop-color="#f8c0ff"/><stop offset="0.401" stop-color="#ffb5f4"/><stop offset="0.51" stop-color="#ff74b2"/><stop offset="0.653" stop-color="#ff2a7c"/><stop offset="0.683" stop-color="#ff0c73"/><stop offset="0.693" stop-color="#ff0070"/><stop offset="0.916" stop-color="#ff0029"/><stop offset="0.965" stop-color="#ff000a"/><stop offset="0.98" stop-color="#ff0000"/><stop offset="1" stop-color="#ff0000"/></linearGradient><linearGradient id="r166" gradientUnits="userSpaceOnUse" x1="92.5" x2="494.5" y1="0" y2="0"><stop offset="0" stop-color="#00daff"/><stop offset="0.229" stop-color="#00ccff"/><stop offset="0.234" stop-color="#23ccff"/><stop offset="0.244" stop-color="#49cbff"/><stop offset="0.269" stop-color="#7cc9ff"/><stop offset="0.333" stop-color="#cac2ff"/><stop offset="0.393" stop-color="#ffb8fc"/><stop offset="0.473" stop-color="#ff85c6"/><stop offset="0.612" stop-color="#ff3f8b"/><stop offset="0.667" stop-color="#ff187a"/><stop offset="0.682" stop-color="#ff0075"/><stop offset="0.925" stop-color="#ff0029"/><stop offset="0.97" stop-color="#ff000e"/><stop offset="0.985" stop-color="#ff0000"/><stop offset="1" stop-color="#ff0000"/></linearGradient><linearGradient id="r167" gradientUnits="userSpaceOnUse" x1="92.9" x2="490.1" y1="0" y2="0"><stop offset="0" stop-color="#00d8ff"/><stop offset="0.226" stop-color="#00caff"/><stop offset="0.231" stop-color="#08caff"/><stop offset="0.236" stop-color="#2ec9ff"/><stop offset="0.251" stop-color="#5ac8ff"/><stop offset="0.291" stop-color="#9ac4ff"/><stop offset="0.392" stop-color="#feb8ff"/><stop offset="0.477" stop-color="#ff81c6"/><stop offset="0.643" stop-color="#ff2a84"/><stop offset="0.673" stop-color="#ff0c7b"/><stop offset="0.683" stop-color="#ff0078"/><stop offset="0.945" stop-color="#ff0027"/><stop offset="0.99" stop-color="#ff000a"/><stop offset="1" stop-color="#ff0000"/></linearGradient><linearGradient id="r168" gradientUnits="userSpaceOnUse" x1="93.4" x2="485.8" y1="0" y2="0"><stop offset="0" stop-color="#00d6ff"/><stop offset="0.23" stop-color="#00c7ff"/><stop offset="0.235" stop-color="#25c7ff"/><stop offset="0.245" stop-color="#4ac6ff"/><stop offset="0.276" stop-color="#83c3ff"/><stop offset="0.342" stop-color="#cebcff"/><stop offset="0.398" stop-color="#ffb3fe"/><stop offset="0.485" stop-color="#ff7dc5"/><stop offset="0.643" stop-color="#ff2987"/><stop offset="0.668" stop-color="#ff117f"/><stop offset="0.679" stop-color="#ff007c"/><stop offset="0.959" stop-color="#ff0028"/><stop offset="1" stop-color="#ff0011"/></linearGradient><linearGradient id="r169" gradientUnits="userSpaceOnUse" x1="93.9" x2="481.5" y1="0" y2="0"><stop offset="0" stop-color="#00d4ff"/><stop offset="0.227" stop-color="#00c5ff"/><stop offset="0.232" stop-color="#0ec5ff"/><stop offset="0.237" stop-color="#2fc4ff"/><stop offset="0.253" stop-color="#5ac3ff"/><stop offset="0.289" stop-color="#92bfff"/><stop offset="0.371" stop-color="#e6b5ff"/><stop offset="0.402" stop-color="#ffaffe"/><stop offset="0.49" stop-color="#ff7ac6"/><stop offset="0.644" stop-color="#ff278a"/><stop offset="0.67" stop-color="#ff0a82"/><stop offset="0.675" stop-color="#ff0080"/><stop offset="0.974" stop-color="#ff0028"/><stop offset="1" stop-color="#ff001c"/></linearGradient><linearGradient id="r170" gradientUnits="userSpaceOnUse" x1="94.4" x2="477.2" y1="0" y2="0"><stop offset="0" stop-color="#00d2ff"/><stop offset="0.23" stop-color="#00c3ff"/><stop offset="0.236" stop-color="#27c2ff"/><stop offset="0.246" stop-color="#4ac1ff"/><stop offset="0.272" stop-color="#7bbeff"/><stop offset="0.335" stop-color="#c2b7ff"/><stop offset="0.408" stop-color="#ffaafc"/><stop offset="0.503" stop-color="#ff72c3"/><stop offset="0.639" stop-color="#ff298e"/><stop offset="0.665" stop-color="#ff0f86"/><stop offset="0.675" stop-color="#ff0083"/><stop offset="0.995" stop-color="#ff0027"/><stop offset="1" stop-color="#ff0025"/></linearGradient><linearGradient id="r171" gradientUnits="userSpaceOnUse" x1="94.9" x2="472.8" y1="0" y2="0"><stop offset="0" stop-color="#00d0ff"/><stop offset="0.228" stop-color="#00c0ff"/><stop offset="0.233" stop-color="#13c0ff"/><stop offset="0.238" stop-color="#31bfff"/><stop offset="0.254" stop-color="#5abeff"/><stop offset="0.296" stop-color="#98b9ff"/><stop offset="0.392" stop-color="#f1acff"/><stop offset="0.413" stop-color="#ffa6fc"/><stop offset="0.508" stop-color="#ff6fc3"/><stop offset="0.64" stop-color="#ff2691"/><stop offset="0.661" stop-color="#ff118a"/><stop offset="0.672" stop-color="#ff0087"/><stop offset="1" stop-color="#ff002c"/></linearGradient><linearGradient id="r172" gradientUnits="userSpaceOnUse" x1="95.4" x2="468.5" y1="0" y2="0"><stop offset="0" stop-color="#00ceff"/><stop offset="0.23" stop-color="#00beff"/><stop offset="0.235" stop-color="#23bdff"/><stop offset="0.246" stop-color="#48bcff"/><stop offset="0.273" stop-color="#78b9ff"/><stop offset="0.337" stop-color="#bfb2ff"/><stop offset="0.417" stop-color="#ffa3fc"/><stop offset="0.513" stop-color="#ff6bc3"/><stop offset="0.636" stop-color="#ff2895"/><stop offset="0.663" stop-color="#ff0a8d"/><stop offset="0.668" stop-color="#ff008b"/><stop offset="1" stop-color="#ff0032"/></linearGradient><linearGradient id="r173" gradientUnits="userSpaceOnUse" x1="95.9" x2="464.2" y1="0" y2="0"><stop offset="0" stop-color="#00ccff"/><stop offset="0.228" stop-color="#00bbff"/><stop offset="0.239" stop-color="#32baff"/><stop offset="0.255" stop-color="#5bb9ff"/><stop offset="0.299" stop-color="#97b4ff"/><stop offset="0.397" stop-color="#efa6ff"/><stop offset="0.424" stop-color="#ff9dfa"/><stop offset="0.533" stop-color="#ff61be"/><stop offset="0.636" stop-color="#ff2698"/><stop offset="0.658" stop-color="#ff0f91"/><stop offset="0.668" stop-color="#ff008e"/><stop offset="1" stop-color="#ff0037"/></linearGradient><linearGradient id="r174" gradientUnits="userSpaceOnUse" x1="96.4" x2="459.9" y1="0" y2="0"><stop offset="0" stop-color="#00caff"/><stop offset="0.231" stop-color="#00b9ff"/><stop offset="0.236" stop-color="#25b8ff"/><stop offset="0.247" stop-color="#48b7ff"/><stop offset="0.275" stop-color="#78b4ff"/><stop offset="0.341" stop-color="#beacff"/><stop offset="0.423" stop-color="#ff9dfe"/><stop offset="0.516" stop-color="#ff68c8"/><stop offset="0.632" stop-color="#ff289c"/><stop offset="0.665" stop-color="#ff0092"/><stop offset="1" stop-color="#ff003c"/></linearGradient><linearGradient id="r175" gradientUnits="userSpaceOnUse" x1="96.9" x2="455.6" y1="0" y2="0"><stop offset="0" stop-color="#00c8ff"/><stop offset="0.229" stop-color="#00b7ff"/><stop offset="0.24" stop-color="#34b5ff"/><stop offset="0.263" stop-color="#64b3ff"/><stop offset="0.313" stop-color="#a2adff"/><stop offset="0.425" stop-color="#fe9bff"/><stop offset="0.542" stop-color="#ff5ac0"/><stop offset="0.631" stop-color="#ff269f"/><stop offset="0.654" stop-color="#ff0d98"/><stop offset="0.659" stop-color="#ff0297"/><stop offset="1" stop-color="#ff0041"/></linearGradient><linearGradient id="r176" gradientUnits="userSpaceOnUse" x1="97.4" x2="451.2" y1="0" y2="0"><stop offset="0" stop-color="#00c6ff"/><stop offset="0.232" stop-color="#00b4ff"/><stop offset="0.237" stop-color="#28b3ff"/><stop offset="0.254" stop-color="#55b2ff"/><stop offset="0.294" stop-color="#8cadff"/><stop offset="0.39" stop-color="#e19fff"/><stop offset="0.435" stop-color="#ff94fc"/><stop offset="0.548" stop-color="#ff56c0"/><stop offset="0.633" stop-color="#ff23a2"/><stop offset="0.661" stop-color="#ff0099"/><stop offset="1" stop-color="#ff0045"/></linearGradient><linearGradient id="r177" gradientUnits="userSpaceOnUse" x1="97.9" x2="446.9" y1="0" y2="0"><stop offset="0" stop-color="#00c4ff"/><stop offset="0.23" stop-color="#00b2ff"/><stop offset="0.236" stop-color="#1fb1ff"/><stop offset="0.247" stop-color="#45b0ff"/><stop offset="0.276" stop-color="#75adff"/><stop offset="0.345" stop-color="#bba3ff"/><stop offset="0.437" stop-color="#ff92fe"/><stop offset="0.552" stop-color="#ff53c2"/><stop offset="0.632" stop-color="#ff21a5"/><stop offset="0.655" stop-color="#ff009e"/><stop offset="1" stop-color="#ff004a"/></linearGradient><linearGradient id="r178" gradientUnits="userSpaceOnUse" x1="98.5" x2="442.6" y1="0" y2="0"><stop offset="0" stop-color="#00c2ff"/><stop offset="0.233" stop-color="#03afff"/><stop offset="0.238" stop-color="#2aaeff"/><stop offset="0.256" stop-color="#55acff"/><stop offset="0.297" stop-color="#8ca7ff"/><stop offset="0.39" stop-color="#db99ff"/><stop offset="0.442" stop-color="#ff8efe"/><stop offset="0.558" stop-color="#ff4fc2"/><stop offset="0.634" stop-color="#ff1da8"/><stop offset="0.651" stop-color="#ff01a2"/><stop offset="1" stop-color="#ff004e"/></linearGradient><linearGradient id="r179" gradientUnits="userSpaceOnUse" x1="99.0" x2="438.3" y1="0" y2="0"><stop offset="0" stop-color="#00c0ff"/><stop offset="0.229" stop-color="#00adff"/><stop offset="0.241" stop-color="#33acff"/><stop offset="0.265" stop-color="#63a9ff"/><stop offset="0.324" stop-color="#a4a1ff"/><stop offset="0.447" stop-color="#ff8afe"/><stop offset="0.565" stop-color="#ff4ac3"/><stop offset="0.629" stop-color="#ff1eac"/><stop offset="0.647" stop-color="#ff03a6"/><stop offset="0.959" stop-color="#ff005b"/><stop offset="1" stop-color="#ff0052"/></linearGradient><linearGradient id="r180" gradientUnits="userSpaceOnUse" x1="99.5" x2="433.9" y1="0" y2="0"><stop offset="0" stop-color="#00beff"/><stop offset="0.228" stop-color="#00abff"/><stop offset="0.234" stop-color="#0caaff"/><stop offset="0.24" stop-color="#2caaff"/><stop offset="0.257" stop-color="#56a7ff"/><stop offset="0.305" stop-color="#91a1ff"/><stop offset="0.407" stop-color="#e290ff"/><stop offset="0.455" stop-color="#ff84fc"/><stop offset="0.575" stop-color="#ff43c2"/><stop offset="0.629" stop-color="#ff1caf"/><stop offset="0.647" stop-color="#ff00aa"/><stop offset="0.922" stop-color="#ff0066"/><stop offset="1" stop-color="#ff0056"/></linearGradient><linearGradient id="r181" gradientUnits="userSpaceOnUse" x1="100.1" x2="429.6" y1="0" y2="0"><stop offset="0" stop-color="#00bcff"/><stop offset="0.23" stop-color="#00a8ff"/><stop offset="0.236" stop-color="#1fa7ff"/><stop offset="0.248" stop-color="#44a6ff"/><stop offset="0.285" stop-color="#7aa2ff"/><stop offset="0.358" stop-color="#bc97ff"/><stop offset="0.461" stop-color="#ff80fc"/><stop offset="0.576" stop-color="#ff41c5"/><stop offset="0.63" stop-color="#ff16b2"/><stop offset="0.642" stop-color="#ff00ae"/><stop offset="0.933" stop-color="#ff0067"/><stop offset="1" stop-color="#ff005a"/></linearGradient><linearGradient id="r182" gradientUnits="userSpaceOnUse" x1="100.6" x2="425.3" y1="0" y2="0"><stop offset="0" stop-color="#00baff"/><stop offset="0.228" stop-color="#00a6ff"/><stop offset="0.235" stop-color="#13a5ff"/><stop offset="0.241" stop-color="#2fa5ff"/><stop offset="0.259" stop-color="#56a2ff"/><stop offset="0.309" stop-color="#919cff"/><stop offset="0.426" stop-color="#e987ff"/><stop offset="0.469" stop-color="#ff7afa"/><stop offset="0.593" stop-color="#ff34c2"/><stop offset="0.63" stop-color="#ff13b5"/><stop offset="0.642" stop-color="#ff00b1"/><stop offset="0.926" stop-color="#ff006c"/><stop offset="1" stop-color="#ff005d"/></linearGradient><linearGradient id="r183" gradientUnits="userSpaceOnUse" x1="101.2" x2="421.0" y1="0" y2="0"><stop offset="0" stop-color="#00b8ff"/><stop offset="0.231" stop-color="#00a3ff"/><stop offset="0.237" stop-color="#22a3ff"/><stop offset="0.25" stop-color="#45a1ff"/><stop offset="0.287" stop-color="#7a9cff"/><stop offset="0.375" stop-color="#c48eff"/><stop offset="0.469" stop-color="#ff79fe"/><stop offset="0.594" stop-color="#ff32c4"/><stop offset="0.625" stop-color="#ff15ba"/><stop offset="0.637" stop-color="#ff00b6"/><stop offset="0.887" stop-color="#ff0077"/><stop offset="1" stop-color="#ff0061"/></linearGradient><linearGradient id="r184" gradientUnits="userSpaceOnUse" x1="101.8" x2="416.6" y1="0" y2="0"><stop offset="0" stop-color="#00b6ff"/><stop offset="0.229" stop-color="#00a1ff"/><stop offset="0.242" stop-color="#31a0ff"/><stop offset="0.261" stop-color="#579dff"/><stop offset="0.318" stop-color="#9695ff"/><stop offset="0.446" stop-color="#ef7dff"/><stop offset="0.478" stop-color="#ff73fc"/><stop offset="0.599" stop-color="#ff2cc6"/><stop offset="0.624" stop-color="#ff11bd"/><stop offset="0.631" stop-color="#ff04bb"/><stop offset="0.885" stop-color="#ff007b"/><stop offset="1" stop-color="#ff0064"/></linearGradient><linearGradient id="r185" gradientUnits="userSpaceOnUse" x1="102.3" x2="412.3" y1="0" y2="0"><stop offset="0" stop-color="#00b4ff"/><stop offset="0.232" stop-color="#009eff"/><stop offset="0.239" stop-color="#269eff"/><stop offset="0.258" stop-color="#519bff"/><stop offset="0.303" stop-color="#8795ff"/><stop offset="0.413" stop-color="#d881ff"/><stop offset="0.484" stop-color="#ff6efc"/><stop offset="0.6" stop-color="#ff28c9"/><stop offset="0.619" stop-color="#ff13c2"/><stop offset="0.632" stop-color="#ff00be"/><stop offset="0.858" stop-color="#ff0084"/><stop offset="1" stop-color="#ff0068"/></linearGradient><linearGradient id="r186" gradientUnits="userSpaceOnUse" x1="102.9" x2="408.0" y1="0" y2="0"><stop offset="0" stop-color="#00b1ff"/><stop offset="0.229" stop-color="#009cff"/><stop offset="0.242" stop-color="#2f9bff"/><stop offset="0.268" stop-color="#5f97ff"/><stop offset="0.327" stop-color="#998fff"/><stop offset="0.458" stop-color="#ef74ff"/><stop offset="0.49" stop-color="#ff69fc"/><stop offset="0.595" stop-color="#ff29ce"/><stop offset="0.621" stop-color="#ff09c4"/><stop offset="0.627" stop-color="#ff00c2"/><stop offset="0.876" stop-color="#ff0083"/><stop offset="1" stop-color="#ff006b"/></linearGradient><linearGradient id="r187" gradientUnits="userSpaceOnUse" x1="103.5" x2="403.7" y1="0" y2="0"><stop offset="0" stop-color="#00afff"/><stop offset="0.227" stop-color="#009aff"/><stop offset="0.233" stop-color="#0599ff"/><stop offset="0.24" stop-color="#2999ff"/><stop offset="0.26" stop-color="#5296ff"/><stop offset="0.307" stop-color="#868fff"/><stop offset="0.407" stop-color="#ce7dff"/><stop offset="0.493" stop-color="#ff66fe"/><stop offset="0.593" stop-color="#ff27d1"/><stop offset="0.613" stop-color="#ff10ca"/><stop offset="0.62" stop-color="#ff02c8"/><stop offset="0.853" stop-color="#ff008b"/><stop offset="1" stop-color="#ff006f"/></linearGradient><linearGradient id="r188" gradientUnits="userSpaceOnUse" x1="104.1" x2="399.4" y1="0" y2="0"><stop offset="0" stop-color="#00adff"/><stop offset="0.23" stop-color="#0097ff"/><stop offset="0.243" stop-color="#3296ff"/><stop offset="0.27" stop-color="#5f92ff"/><stop offset="0.331" stop-color="#9989ff"/><stop offset="0.473" stop-color="#f26aff"/><stop offset="0.507" stop-color="#ff5dfa"/><stop offset="0.595" stop-color="#ff23d4"/><stop offset="0.622" stop-color="#ff00cb"/><stop offset="0.845" stop-color="#ff0090"/><stop offset="1" stop-color="#ff0072"/></linearGradient><linearGradient id="r189" gradientUnits="userSpaceOnUse" x1="104.7" x2="395.0" y1="0" y2="0"><stop offset="0" stop-color="#00abff"/><stop offset="0.228" stop-color="#0095ff"/><stop offset="0.234" stop-color="#1094ff"/><stop offset="0.241" stop-color="#2c93ff"/><stop offset="0.262" stop-color="#5391ff"/><stop offset="0.31" stop-color="#868aff"/><stop offset="0.414" stop-color="#cd76ff"/><stop offset="0.51" stop-color="#ff59fc"/><stop offset="0.586" stop-color="#ff27db"/><stop offset="0.607" stop-color="#ff0dd3"/><stop offset="0.614" stop-color="#ff00d1"/><stop offset="0.828" stop-color="#ff0097"/><stop offset="1" stop-color="#ff0076"/></linearGradient><linearGradient id="r190" gradientUnits="userSpaceOnUse" x1="105.4" x2="390.7" y1="0" y2="0"><stop offset="0" stop-color="#00a9ff"/><stop offset="0.231" stop-color="#0092ff"/><stop offset="0.238" stop-color="#2091ff"/><stop offset="0.252" stop-color="#4290ff"/><stop offset="0.294" stop-color="#768aff"/><stop offset="0.378" stop-color="#b57bff"/><stop offset="0.51" stop-color="#ff57ff"/><stop offset="0.587" stop-color="#ff22de"/><stop offset="0.601" stop-color="#ff10d8"/><stop offset="0.608" stop-color="#ff00d6"/><stop offset="0.811" stop-color="#ff009e"/><stop offset="1" stop-color="#ff0079"/></linearGradient><linearGradient id="r191" gradientUnits="userSpaceOnUse" x1="106.0" x2="386.4" y1="0" y2="0"><stop offset="0" stop-color="#00a7ff"/><stop offset="0.229" stop-color="#0090ff"/><stop offset="0.243" stop-color="#308eff"/><stop offset="0.271" stop-color="#5e8aff"/><stop offset="0.336" stop-color="#9780ff"/><stop offset="0.486" stop-color="#ef5dff"/><stop offset="0.529" stop-color="#ff4afa"/><stop offset="0.586" stop-color="#ff1fe2"/><stop offset="0.607" stop-color="#ff00da"/><stop offset="0.821" stop-color="#ff009f"/><stop offset="1" stop-color="#ff007d"/></linearGradient><linearGradient id="r192" gradientUnits="userSpaceOnUse" x1="106.6" x2="382.1" y1="0" y2="0"><stop offset="0" stop-color="#00a4ff"/><stop offset="0.232" stop-color="#008dff"/><stop offset="0.239" stop-color="#258cff"/><stop offset="0.261" stop-color="#4f89ff"/><stop offset="0.312" stop-color="#8382ff"/><stop offset="0.428" stop-color="#cd6aff"/><stop offset="0.529" stop-color="#ff47fd"/><stop offset="0.58" stop-color="#ff21e7"/><stop offset="0.601" stop-color="#ff00df"/><stop offset="0.826" stop-color="#ff00a1"/><stop offset="1" stop-color="#ff0080"/></linearGradient><linearGradient id="r193" gradientUnits="userSpaceOnUse" x1="107.3" x2="377.7" y1="0" y2="0"><stop offset="0" stop-color="#00a2ff"/><stop offset="0.23" stop-color="#008bff"/><stop offset="0.237" stop-color="#1e8aff"/><stop offset="0.252" stop-color="#4188ff"/><stop offset="0.296" stop-color="#7581ff"/><stop offset="0.407" stop-color="#c06cff"/><stop offset="0.526" stop-color="#fc46ff"/><stop offset="0.578" stop-color="#ff1eec"/><stop offset="0.593" stop-color="#ff04e6"/><stop offset="0.785" stop-color="#ff00ae"/><stop offset="1" stop-color="#ff0084"/></linearGradient><linearGradient id="r194" gradientUnits="userSpaceOnUse" x1="108.0" x2="373.4" y1="0" y2="0"><stop offset="0" stop-color="#00a0ff"/><stop offset="0.226" stop-color="#0089ff"/><stop offset="0.233" stop-color="#0b88ff"/><stop offset="0.241" stop-color="#2a87ff"/><stop offset="0.271" stop-color="#5a83ff"/><stop offset="0.338" stop-color="#9378ff"/><stop offset="0.489" stop-color="#e752ff"/><stop offset="0.549" stop-color="#ff34fb"/><stop offset="0.579" stop-color="#ff16ef"/><stop offset="0.594" stop-color="#ff00e9"/><stop offset="0.797" stop-color="#ff00ae"/><stop offset="1" stop-color="#ff0087"/></linearGradient><linearGradient id="r195" gradientUnits="userSpaceOnUse" x1="108.7" x2="369.1" y1="0" y2="0"><stop offset="0" stop-color="#009eff"/><stop offset="0.231" stop-color="#0086ff"/><stop offset="0.238" stop-color="#2485ff"/><stop offset="0.262" stop-color="#4e81ff"/><stop offset="0.315" stop-color="#8179ff"/><stop offset="0.438" stop-color="#cb5fff"/><stop offset="0.538" stop-color="#fa37ff"/><stop offset="0.569" stop-color="#ff1cf6"/><stop offset="0.585" stop-color="#ff00f0"/><stop offset="0.777" stop-color="#ff00b6"/><stop offset="1" stop-color="#ff008a"/></linearGradient><linearGradient id="r196" gradientUnits="userSpaceOnUse" x1="109.3" x2="364.8" y1="0" y2="0"><stop offset="0" stop-color="#009bff"/><stop offset="0.227" stop-color="#0084ff"/><stop offset="0.242" stop-color="#2e81ff"/><stop offset="0.273" stop-color="#5b7dff"/><stop offset="0.336" stop-color="#8e73ff"/><stop offset="0.477" stop-color="#db4fff"/><stop offset="0.547" stop-color="#fa2dff"/><stop offset="0.57" stop-color="#ff13fa"/><stop offset="0.578" stop-color="#ff01f6"/><stop offset="0.758" stop-color="#ff00be"/><stop offset="1" stop-color="#ff008e"/></linearGradient><linearGradient id="r197" gradientUnits="userSpaceOnUse" x1="110.0" x2="360.4" y1="0" y2="0"><stop offset="0" stop-color="#0099ff"/><stop offset="0.224" stop-color="#0081ff"/><stop offset="0.232" stop-color="#0a80ff"/><stop offset="0.24" stop-color="#297fff"/><stop offset="0.272" stop-color="#597aff"/><stop offset="0.344" stop-color="#926eff"/><stop offset="0.488" stop-color="#dd48ff"/><stop offset="0.552" stop-color="#f923ff"/><stop offset="0.576" stop-color="#ff00fb"/><stop offset="0.768" stop-color="#ff00bf"/><stop offset="1" stop-color="#ff0091"/></linearGradient><linearGradient id="r198" gradientUnits="userSpaceOnUse" x1="110.7" x2="356.1" y1="0" y2="0"><stop offset="0" stop-color="#0096ff"/><stop offset="0.228" stop-color="#007eff"/><stop offset="0.236" stop-color="#1d7dff"/><stop offset="0.252" stop-color="#3f7bff"/><stop offset="0.293" stop-color="#6b74ff"/><stop offset="0.39" stop-color="#ab61ff"/><stop offset="0.504" stop-color="#e13dff"/><stop offset="0.553" stop-color="#f61bff"/><stop offset="0.569" stop-color="#fc00ff"/><stop offset="0.789" stop-color="#ff00be"/><stop offset="1" stop-color="#ff0095"/></linearGradient><linearGradient id="r199" gradientUnits="userSpaceOnUse" x1="111.5" x2="351.8" y1="0" y2="0"><stop offset="0" stop-color="#0094ff"/><stop offset="0.225" stop-color="#007cff"/><stop offset="0.242" stop-color="#2d79ff"/><stop offset="0.267" stop-color="#5276ff"/><stop offset="0.333" stop-color="#886aff"/><stop offset="0.475" stop-color="#d145ff"/><stop offset="0.533" stop-color="#ea27ff"/><stop offset="0.55" stop-color="#f115ff"/><stop offset="0.558" stop-color="#f405ff"/><stop offset="0.6" stop-color="#ff00f9"/><stop offset="0.8" stop-color="#ff00bf"/><stop offset="1" stop-color="#ff0099"/></linearGradient><linearGradient id="r200" gradientUnits="userSpaceOnUse" x1="112.2" x2="347.5" y1="0" y2="0"><stop offset="0" stop-color="#0092ff"/><stop offset="0.229" stop-color="#0079ff"/><stop offset="0.237" stop-color="#2377ff"/><stop offset="0.263" stop-color="#4d74ff"/><stop offset="0.331" stop-color="#8468ff"/><stop offset="0.475" stop-color="#ce42ff"/><stop offset="0.534" stop-color="#e720ff"/><stop offset="0.559" stop-color="#f100ff"/><stop offset="0.61" stop-color="#ff00f9"/><stop offset="0.805" stop-color="#ff00c2"/><stop offset="1" stop-color="#ff009c"/></linearGradient><linearGradient id="r201" gradientUnits="userSpaceOnUse" x1="112.9" x2="343.2" y1="0" y2="0"><stop offset="0" stop-color="#008fff"/><stop offset="0.226" stop-color="#0076ff"/><stop offset="0.235" stop-color="#1d75ff"/><stop offset="0.252" stop-color="#3f72ff"/><stop offset="0.304" stop-color="#716aff"/><stop offset="0.426" stop-color="#b64eff"/><stop offset="0.513" stop-color="#db2aff"/><stop offset="0.539" stop-color="#e611ff"/><stop offset="0.548" stop-color="#e900ff"/><stop offset="0.617" stop-color="#ff00fa"/><stop offset="0.817" stop-color="#ff00c2"/><stop offset="1" stop-color="#ff00a0"/></linearGradient><linearGradient id="r202" gradientUnits="userSpaceOnUse" x1="113.6" x2="338.8" y1="0" y2="0"><stop offset="0" stop-color="#008cff"/><stop offset="0.221" stop-color="#0074ff"/><stop offset="0.23" stop-color="#0c73ff"/><stop offset="0.239" stop-color="#2971ff"/><stop offset="0.274" stop-color="#576cff"/><stop offset="0.345" stop-color="#8a5fff"/><stop offset="0.478" stop-color="#ca38ff"/><stop offset="0.522" stop-color="#dc1cff"/><stop offset="0.54" stop-color="#e200ff"/><stop offset="0.628" stop-color="#ff00fa"/><stop offset="0.858" stop-color="#ff00bd"/><stop offset="1" stop-color="#ff00a4"/></linearGradient><linearGradient id="r203" gradientUnits="userSpaceOnUse" x1="114.3" x2="334.5" y1="0" y2="0"><stop offset="0" stop-color="#008aff"/><stop offset="0.227" stop-color="#0070ff"/><stop offset="0.236" stop-color="#236fff"/><stop offset="0.255" stop-color="#426cff"/><stop offset="0.309" stop-color="#7263ff"/><stop offset="0.427" stop-color="#b147ff"/><stop offset="0.5" stop-color="#d027ff"/><stop offset="0.527" stop-color="#da0bff"/><stop offset="0.536" stop-color="#de00ff"/><stop offset="0.636" stop-color="#ff00fc"/><stop offset="0.855" stop-color="#ff00c2"/><stop offset="1" stop-color="#ff00a7"/></linearGradient><linearGradient id="r204" gradientUnits="userSpaceOnUse" x1="115.1" x2="330.2" y1="0" y2="0"><stop offset="0" stop-color="#0087ff"/><stop offset="0.222" stop-color="#006eff"/><stop offset="0.241" stop-color="#2d6bff"/><stop offset="0.278" stop-color="#5965ff"/><stop offset="0.37" stop-color="#9453ff"/><stop offset="0.481" stop-color="#c52dff"/><stop offset="0.509" stop-color="#d018ff"/><stop offset="0.528" stop-color="#d700ff"/><stop offset="0.648" stop-color="#ff00fc"/><stop offset="0.852" stop-color="#ff00c6"/><stop offset="1" stop-color="#ff00ab"/></linearGradient><linearGradient id="r205" gradientUnits="userSpaceOnUse" x1="115.8" x2="325.9" y1="0" y2="0"><stop offset="0" stop-color="#0085ff"/><stop offset="0.219" stop-color="#006cff"/><stop offset="0.229" stop-color="#0d6aff"/><stop offset="0.238" stop-color="#2969ff"/><stop offset="0.276" stop-color="#5763ff"/><stop offset="0.371" stop-color="#934fff"/><stop offset="0.467" stop-color="#bd2fff"/><stop offset="0.505" stop-color="#cb14ff"/><stop offset="0.514" stop-color="#cf04ff"/><stop offset="0.657" stop-color="#ff00fd"/><stop offset="0.876" stop-color="#ff00c5"/><stop offset="1" stop-color="#ff00af"/></linearGradient><linearGradient id="r206" gradientUnits="userSpaceOnUse" x1="116.5" x2="321.5" y1="0" y2="0"><stop offset="0" stop-color="#0082ff"/><stop offset="0.223" stop-color="#0068ff"/><stop offset="0.233" stop-color="#1e66ff"/><stop offset="0.252" stop-color="#3e63ff"/><stop offset="0.311" stop-color="#6f59ff"/><stop offset="0.437" stop-color="#ae37ff"/><stop offset="0.485" stop-color="#c11dff"/><stop offset="0.515" stop-color="#cc00ff"/><stop offset="0.67" stop-color="#ff00fd"/><stop offset="0.903" stop-color="#ff00c4"/><stop offset="1" stop-color="#ff00b3"/></linearGradient><linearGradient id="r207" gradientUnits="userSpaceOnUse" x1="117.3" x2="317.2" y1="0" y2="0"><stop offset="0" stop-color="#007fff"/><stop offset="0.22" stop-color="#0065ff"/><stop offset="0.24" stop-color="#2d62ff"/><stop offset="0.28" stop-color="#585bff"/><stop offset="0.37" stop-color="#8e48ff"/><stop offset="0.46" stop-color="#b527ff"/><stop offset="0.49" stop-color="#c00fff"/><stop offset="0.5" stop-color="#c400ff"/><stop offset="0.68" stop-color="#ff00fe"/><stop offset="0.92" stop-color="#ff00c5"/><stop offset="1" stop-color="#ff00b7"/></linearGradient><linearGradient id="r208" gradientUnits="userSpaceOnUse" x1="118.0" x2="312.9" y1="0" y2="0"><stop offset="0" stop-color="#007cff"/><stop offset="0.216" stop-color="#0063ff"/><stop offset="0.227" stop-color="#0f61ff"/><stop offset="0.237" stop-color="#295fff"/><stop offset="0.268" stop-color="#4e5aff"/><stop offset="0.351" stop-color="#8349ff"/><stop offset="0.454" stop-color="#b025ff"/><stop offset="0.495" stop-color="#bf00ff"/><stop offset="0.701" stop-color="#ff00fc"/><stop offset="0.969" stop-color="#ff00c0"/><stop offset="1" stop-color="#ff00bb"/></linearGradient><linearGradient id="r209" gradientUnits="userSpaceOnUse" x1="118.8" x2="308.6" y1="0" y2="0"><stop offset="0" stop-color="#0079ff"/><stop offset="0.221" stop-color="#005fff"/><stop offset="0.232" stop-color="#1f5dff"/><stop offset="0.263" stop-color="#4958ff"/><stop offset="0.347" stop-color="#8046ff"/><stop offset="0.442" stop-color="#a924ff"/><stop offset="0.484" stop-color="#b800ff"/><stop offset="0.716" stop-color="#ff00fc"/><stop offset="0.979" stop-color="#ff00c3"/><stop offset="1" stop-color="#ff00bf"/></linearGradient><linearGradient id="r210" gradientUnits="userSpaceOnUse" x1="119.6" x2="304.3" y1="0" y2="0"><stop offset="0" stop-color="#0076ff"/><stop offset="0.217" stop-color="#005cff"/><stop offset="0.239" stop-color="#2e58ff"/><stop offset="0.283" stop-color="#5850ff"/><stop offset="0.391" stop-color="#9235ff"/><stop offset="0.446" stop-color="#a71bff"/><stop offset="0.467" stop-color="#af02ff"/><stop offset="0.728" stop-color="#ff00fd"/><stop offset="1" stop-color="#ff00c3"/></linearGradient><linearGradient id="r211" gradientUnits="userSpaceOnUse" x1="120.4" x2="299.9" y1="0" y2="0"><stop offset="0" stop-color="#0073ff"/><stop offset="0.211" stop-color="#0059ff"/><stop offset="0.222" stop-color="#0758ff"/><stop offset="0.233" stop-color="#2656ff"/><stop offset="0.267" stop-color="#4b50ff"/><stop offset="0.344" stop-color="#7b3eff"/><stop offset="0.433" stop-color="#a01bff"/><stop offset="0.456" stop-color="#a902ff"/><stop offset="0.744" stop-color="#ff00fe"/><stop offset="1" stop-color="#ff00c8"/></linearGradient><linearGradient id="r212" gradientUnits="userSpaceOnUse" x1="121.2" x2="295.6" y1="0" y2="0"><stop offset="0" stop-color="#0070ff"/><stop offset="0.218" stop-color="#0055ff"/><stop offset="0.23" stop-color="#2153ff"/><stop offset="0.264" stop-color="#494cff"/><stop offset="0.356" stop-color="#7f36ff"/><stop offset="0.425" stop-color="#9b17ff"/><stop offset="0.448" stop-color="#a400ff"/><stop offset="0.759" stop-color="#ff00ff"/><stop offset="1" stop-color="#ff00cc"/></linearGradient><linearGradient id="r213" gradientUnits="userSpaceOnUse" x1="122.0" x2="291.3" y1="0" y2="0"><stop offset="0" stop-color="#006dff"/><stop offset="0.212" stop-color="#0052ff"/><stop offset="0.235" stop-color="#2b4eff"/><stop offset="0.271" stop-color="#4e47ff"/><stop offset="0.365" stop-color="#812eff"/><stop offset="0.412" stop-color="#9417ff"/><stop offset="0.435" stop-color="#9d00ff"/><stop offset="0.765" stop-color="#fc00ff"/><stop offset="1" stop-color="#ff00d1"/></linearGradient><linearGradient id="r214" gradientUnits="userSpaceOnUse" x1="122.8" x2="287.0" y1="0" y2="0"><stop offset="0" stop-color="#0069ff"/><stop offset="0.207" stop-color="#004fff"/><stop offset="0.22" stop-color="#0e4cff"/><stop offset="0.232" stop-color="#284aff"/><stop offset="0.28" stop-color="#5440ff"/><stop offset="0.378" stop-color="#8522ff"/><stop offset="0.427" stop-color="#9700ff"/><stop offset="0.707" stop-color="#e900ff"/><stop offset="0.817" stop-color="#ff00fa"/><stop offset="1" stop-color="#ff00d6"/></linearGradient><linearGradient id="r215" gradientUnits="userSpaceOnUse" x1="123.7" x2="282.6" y1="0" y2="0"><stop offset="0" stop-color="#0066ff"/><stop offset="0.215" stop-color="#0349ff"/><stop offset="0.228" stop-color="#2447ff"/><stop offset="0.266" stop-color="#4a3fff"/><stop offset="0.367" stop-color="#7f1fff"/><stop offset="0.405" stop-color="#8d00ff"/><stop offset="0.658" stop-color="#d800ff"/><stop offset="0.835" stop-color="#ff00fb"/><stop offset="1" stop-color="#ff00da"/></linearGradient><linearGradient id="r216" gradientUnits="userSpaceOnUse" x1="124.5" x2="278.3" y1="0" y2="0"><stop offset="0" stop-color="#0062ff"/><stop offset="0.208" stop-color="#0046ff"/><stop offset="0.234" stop-color="#2e41ff"/><stop offset="0.286" stop-color="#5735ff"/><stop offset="0.364" stop-color="#7c17ff"/><stop offset="0.39" stop-color="#8600ff"/><stop offset="0.649" stop-color="#d200ff"/><stop offset="0.857" stop-color="#ff00fb"/><stop offset="1" stop-color="#ff00df"/></linearGradient><linearGradient id="r217" gradientUnits="userSpaceOnUse" x1="125.4" x2="274.0" y1="0" y2="0"><stop offset="0" stop-color="#005fff"/><stop offset="0.203" stop-color="#0042ff"/><stop offset="0.23" stop-color="#2a3dff"/><stop offset="0.284" stop-color="#5530ff"/><stop offset="0.351" stop-color="#7514ff"/><stop offset="0.378" stop-color="#8000ff"/><stop offset="0.635" stop-color="#cb00ff"/><stop offset="0.878" stop-color="#ff00fc"/><stop offset="1" stop-color="#ff00e5"/></linearGradient><linearGradient id="r218" gradientUnits="userSpaceOnUse" x1="126.3" x2="269.7" y1="0" y2="0"><stop offset="0" stop-color="#005bff"/><stop offset="0.208" stop-color="#013cff"/><stop offset="0.222" stop-color="#2339ff"/><stop offset="0.264" stop-color="#492fff"/><stop offset="0.333" stop-color="#6c13ff"/><stop offset="0.361" stop-color="#7700ff"/><stop offset="0.597" stop-color="#be00ff"/><stop offset="0.903" stop-color="#ff00fc"/><stop offset="1" stop-color="#ff00ea"/></linearGradient><linearGradient id="r219" gradientUnits="userSpaceOnUse" x1="127.2" x2="265.3" y1="0" y2="0"><stop offset="0" stop-color="#0056ff"/><stop offset="0.203" stop-color="#0038ff"/><stop offset="0.217" stop-color="#1f34ff"/><stop offset="0.261" stop-color="#4729ff"/><stop offset="0.319" stop-color="#650eff"/><stop offset="0.333" stop-color="#6b00ff"/><stop offset="0.536" stop-color="#ab00ff"/><stop offset="0.928" stop-color="#ff00fd"/><stop offset="1" stop-color="#ff00f0"/></linearGradient><linearGradient id="r220" gradientUnits="userSpaceOnUse" x1="128.1" x2="261.0" y1="0" y2="0"><stop offset="0" stop-color="#0052ff"/><stop offset="0.197" stop-color="#0033ff"/><stop offset="0.227" stop-color="#2e2bff"/><stop offset="0.288" stop-color="#5614ff"/><stop offset="0.318" stop-color="#6400ff"/><stop offset="0.5" stop-color="#9f00ff"/><stop offset="0.939" stop-color="#fe00ff"/><stop offset="1" stop-color="#ff00f5"/></linearGradient><linearGradient id="r221" gradientUnits="userSpaceOnUse" x1="129.1" x2="256.7" y1="0" y2="0"><stop offset="0" stop-color="#004dff"/><stop offset="0.188" stop-color="#002eff"/><stop offset="0.203" stop-color="#0f2aff"/><stop offset="0.219" stop-color="#2726ff"/><stop offset="0.266" stop-color="#4a13ff"/><stop offset="0.297" stop-color="#5a00ff"/><stop offset="0.469" stop-color="#9400ff"/><stop offset="0.891" stop-color="#ef00ff"/><stop offset="1" stop-color="#ff00fb"/></linearGradient><linearGradient id="r222" gradientUnits="userSpaceOnUse" x1="130.1" x2="252.4" y1="0" y2="0"><stop offset="0" stop-color="#0048ff"/><stop offset="0.18" stop-color="#0028ff"/><stop offset="0.197" stop-color="#0724ff"/><stop offset="0.213" stop-color="#241eff"/><stop offset="0.246" stop-color="#3f0fff"/><stop offset="0.262" stop-color="#4901ff"/><stop offset="0.393" stop-color="#7c00ff"/><stop offset="0.689" stop-color="#c300ff"/><stop offset="1" stop-color="#fc00ff"/></linearGradient><linearGradient id="r223" gradientUnits="userSpaceOnUse" x1="131.1" x2="248.1" y1="0" y2="0"><stop offset="0" stop-color="#0043ff"/><stop offset="0.172" stop-color="#0021ff"/><stop offset="0.19" stop-color="#001cff"/><stop offset="0.207" stop-color="#2214ff"/><stop offset="0.241" stop-color="#3e00ff"/><stop offset="0.345" stop-color="#6b00ff"/><stop offset="0.586" stop-color="#aa00ff"/><stop offset="1" stop-color="#f600ff"/></linearGradient><linearGradient id="r224" gradientUnits="userSpaceOnUse" x1="132.2" x2="243.7" y1="0" y2="0"><stop offset="0" stop-color="#003dff"/><stop offset="0.161" stop-color="#001aff"/><stop offset="0.179" stop-color="#0012ff"/><stop offset="0.214" stop-color="#2d00ff"/><stop offset="0.286" stop-color="#5500ff"/><stop offset="0.482" stop-color="#9000ff"/><stop offset="0.911" stop-color="#e100ff"/><stop offset="1" stop-color="#f000ff"/></linearGradient><linearGradient id="r225" gradientUnits="userSpaceOnUse" x1="133.3" x2="239.4" y1="0" y2="0"><stop offset="0" stop-color="#0036ff"/><stop offset="0.132" stop-color="#0017ff"/><stop offset="0.17" stop-color="#0001ff"/><stop offset="0.208" stop-color="#2b00ff"/><stop offset="0.283" stop-color="#5400ff"/><stop offset="0.472" stop-color="#8b00ff"/><stop offset="0.906" stop-color="#db00ff"/><stop offset="1" stop-color="#ea00ff"/></linearGradient><linearGradient id="r226" gradientUnits="userSpaceOnUse" x1="134.4" x2="235.1" y1="0" y2="0"><stop offset="0" stop-color="#002dff"/><stop offset="0.1" stop-color="#0013ff"/><stop offset="0.14" stop-color="#0000ff"/><stop offset="0.16" stop-color="#0000ff"/><stop offset="0.2" stop-color="#2900ff"/><stop offset="0.28" stop-color="#5300ff"/><stop offset="0.48" stop-color="#8a00ff"/><stop offset="0.96" stop-color="#de00ff"/><stop offset="1" stop-color="#e300ff"/></linearGradient><linearGradient id="r227" gradientUnits="userSpaceOnUse" x1="135.5" x2="230.8" y1="0" y2="0"><stop offset="0" stop-color="#0023ff"/><stop offset="0.062" stop-color="#0010ff"/><stop offset="0.104" stop-color="#0000ff"/><stop offset="0.146" stop-color="#0000ff"/><stop offset="0.167" stop-color="#0800ff"/><stop offset="0.188" stop-color="#2400ff"/><stop offset="0.271" stop-color="#5000ff"/><stop offset="0.479" stop-color="#8700ff"/><stop offset="0.938" stop-color="#d400ff"/><stop offset="1" stop-color="#dd00ff"/></linearGradient><linearGradient id="r228" gradientUnits="userSpaceOnUse" x1="136.8" x2="226.4" y1="0" y2="0"><stop offset="0" stop-color="#0015ff"/><stop offset="0.044" stop-color="#0000ff"/><stop offset="0.156" stop-color="#0400ff"/><stop offset="0.178" stop-color="#2300ff"/><stop offset="0.267" stop-color="#4f00ff"/><stop offset="0.489" stop-color="#8700ff"/><stop offset="0.978" stop-color="#d400ff"/><stop offset="1" stop-color="#d700ff"/></linearGradient><linearGradient id="r229" gradientUnits="userSpaceOnUse" x1="138.0" x2="222.1" y1="0" y2="0"><stop offset="0" stop-color="#0000ff"/><stop offset="0.143" stop-color="#0200ff"/><stop offset="0.167" stop-color="#2200ff"/><stop offset="0.238" stop-color="#4600ff"/><stop offset="0.429" stop-color="#7900ff"/><stop offset="0.857" stop-color="#be00ff"/><stop offset="1" stop-color="#d100ff"/></linearGradient><linearGradient id="r230" gradientUnits="userSpaceOnUse" x1="139.4" x2="217.8" y1="0" y2="0"><stop offset="0" stop-color="#0000ff"/><stop offset="0.128" stop-color="#0100ff"/><stop offset="0.154" stop-color="#2100ff"/><stop offset="0.231" stop-color="#4600ff"/><stop offset="0.436" stop-color="#7900ff"/><stop offset="0.923" stop-color="#c100ff"/><stop offset="1" stop-color="#ca00ff"/></linearGradient><linearGradient id="r231" gradientUnits="userSpaceOnUse" x1="140.8" x2="213.5" y1="0" y2="0"><stop offset="0" stop-color="#0000ff"/><stop offset="0.111" stop-color="#0000ff"/><stop offset="0.139" stop-color="#2100ff"/><stop offset="0.222" stop-color="#4600ff"/><stop offset="0.444" stop-color="#7800ff"/><stop offset="0.917" stop-color="#ba00ff"/><stop offset="1" stop-color="#c400ff"/></linearGradient><linearGradient id="r232" gradientUnits="userSpaceOnUse" x1="142.3" x2="209.1" y1="0" y2="0"><stop offset="0" stop-color="#0000ff"/><stop offset="0.091" stop-color="#0200ff"/><stop offset="0.121" stop-color="#2100ff"/><stop offset="0.212" stop-color="#4600ff"/><stop offset="0.424" stop-color="#7300ff"/><stop offset="0.939" stop-color="#b700ff"/><stop offset="1" stop-color="#bd00ff"/></linearGradient><linearGradient id="r233" gradientUnits="userSpaceOnUse" x1="144.0" x2="204.8" y1="0" y2="0"><stop offset="0" stop-color="#0000ff"/><stop offset="0.067" stop-color="#0700ff"/><stop offset="0.1" stop-color="#2300ff"/><stop offset="0.233" stop-color="#4f00ff"/><stop offset="0.567" stop-color="#8600ff"/><stop offset="1" stop-color="#b700ff"/></linearGradient><linearGradient id="r234" gradientUnits="userSpaceOnUse" x1="145.8" x2="200.5" y1="0" y2="0"><stop offset="0" stop-color="#0000ff"/><stop offset="0.037" stop-color="#0e00ff"/><stop offset="0.074" stop-color="#2600ff"/><stop offset="0.222" stop-color="#5000ff"/><stop offset="0.593" stop-color="#8700ff"/><stop offset="1" stop-color="#b000ff"/></linearGradient><linearGradient id="r235" gradientUnits="userSpaceOnUse" x1="147.7" x2="196.2" y1="0" y2="0"><stop offset="0" stop-color="#1600ff"/><stop offset="0.083" stop-color="#3600ff"/><stop offset="0.292" stop-color="#5f00ff"/><stop offset="0.833" stop-color="#9b00ff"/><stop offset="1" stop-color="#a900ff"/></linearGradient><linearGradient id="r236" gradientUnits="userSpaceOnUse" x1="149.8" x2="191.9" y1="0" y2="0"><stop offset="0" stop-color="#2e00ff"/><stop offset="0.238" stop-color="#5a00ff"/><stop offset="0.81" stop-color="#9300ff"/><stop offset="1" stop-color="#a200ff"/></linearGradient><linearGradient id="r237" gradientUnits="userSpaceOnUse" x1="152.0" x2="187.5" y1="0" y2="0"><stop offset="0" stop-color="#3d00ff"/><stop offset="0.333" stop-color="#6700ff"/><stop offset="1" stop-color="#9b00ff"/></linearGradient><linearGradient id="r238" gradientUnits="userSpaceOnUse" x1="154.3" x2="183.2" y1="0" y2="0"><stop offset="0" stop-color="#4a00ff"/><stop offset="0.643" stop-color="#7e00ff"/><stop offset="1" stop-color="#9300ff"/></linearGradient><linearGradient id="r239" gradientUnits="userSpaceOnUse" x1="156.6" x2="178.9" y1="0" y2="0"><stop offset="0" stop-color="#5400ff"/><stop offset="1" stop-color="#8c00ff"/></linearGradient><linearGradient id="r240" gradientUnits="userSpaceOnUse" x1="158.8" x2="174.6" y1="0" y2="0"><stop offset="0" stop-color="#5d00ff"/><stop offset="1" stop-color="#8400ff"/></linearGradient><linearGradient id="r241" gradientUnits="userSpaceOnUse" x1="161.3" x2="170.2" y1="0" y2="0"><stop offset="0" stop-color="#6500ff"/><stop offset="1" stop-color="#7b00ff"/></linearGradient><filter id="blb" x="-50%" y="-50%" width="200%" height="200%"><feGaussianBlur stdDeviation="0.9"/></filter><filter id="shd" x="-20%" y="-20%" width="140%" height="140%"><feGaussianBlur stdDeviation="2.2"/></filter><clipPath id="stripclip"><path d="M237.3 117.8A7.0 7.0 0 0 1 246.4 117.0L270.3 134.2A7.0 7.0 0 0 1 271.4 144.6L164.6 263.3A7.0 7.0 0 0 1 155.3 264.3L127.4 244.1A7.0 7.0 0 0 1 126.5 233.6Z" fill="#000" /></clipPath><clipPath id="clipc"><rect x="705.8" y="17.8" width="332.5" height="267.4"/></clipPath><radialGradient id="tc_0" cx="728.85" cy="58.25" r="14.95" gradientUnits="userSpaceOnUse"><stop offset="0" stop-color="#c0244c"/><stop offset="0.740" stop-color="#c0244c"/><stop offset="0.800" stop-color="#6c2850"/><stop offset="0.73" stop-color="#6c2850"/><stop offset="0.80" stop-color="#6c2850"/><stop offset="0.94" stop-color="#6c2850"/><stop offset="1.0" stop-color="#16040e"/></radialGradient><radialGradient id="tc_1" cx="728.85" cy="92.15" r="14.95" gradientUnits="userSpaceOnUse"><stop offset="0" stop-color="#c84a56"/><stop offset="0.740" stop-color="#c84a56"/><stop offset="0.800" stop-color="#6a2850"/><stop offset="0.73" stop-color="#6a2850"/><stop offset="0.80" stop-color="#6a2850"/><stop offset="0.94" stop-color="#6a2850"/><stop offset="1.0" stop-color="#16040e"/></radialGradient><radialGradient id="tc_2" cx="728.85" cy="126.15" r="14.95" gradientUnits="userSpaceOnUse"><stop offset="0" stop-color="#c05a5e"/><stop offset="0.740" stop-color="#c05a5e"/><stop offset="0.800" stop-color="#702a5a"/><stop offset="0.73" stop-color="#702a5a"/><stop offset="0.80" stop-color="#702a5a"/><stop offset="0.94" stop-color="#702a5a"/><stop offset="1.0" stop-color="#16040e"/></radialGradient><radialGradient id="tc_3" cx="728.85" cy="159.45" r="14.95" gradientUnits="userSpaceOnUse"><stop offset="0" stop-color="#947a82"/><stop offset="0.740" stop-color="#947a82"/><stop offset="0.800" stop-color="#502842"/><stop offset="0.73" stop-color="#502842"/><stop offset="0.80" stop-color="#502842"/><stop offset="0.94" stop-color="#502842"/><stop offset="1.0" stop-color="#16040e"/></radialGradient><radialGradient id="tc_4" cx="863.75" cy="62.50" r="14.55" gradientUnits="userSpaceOnUse"><stop offset="0" stop-color="#b4001e"/><stop offset="0.720" stop-color="#b4001e"/><stop offset="0.780" stop-color="#3c1a44"/><stop offset="0.73" stop-color="#3c1a44"/><stop offset="0.80" stop-color="#3c1a44"/><stop offset="0.94" stop-color="#3c1a44"/><stop offset="1.0" stop-color="#08020e"/></radialGradient><radialGradient id="tc_5" cx="863.75" cy="94.80" r="14.55" gradientUnits="userSpaceOnUse"><stop offset="0" stop-color="#d01828"/><stop offset="0.720" stop-color="#d01828"/><stop offset="0.780" stop-color="#3e1a48"/><stop offset="0.73" stop-color="#3e1a48"/><stop offset="0.80" stop-color="#3e1a48"/><stop offset="0.94" stop-color="#3e1a48"/><stop offset="1.0" stop-color="#08020e"/></radialGradient><radialGradient id="tc_6" cx="863.75" cy="126.60" r="14.55" gradientUnits="userSpaceOnUse"><stop offset="0" stop-color="#c83430"/><stop offset="0.720" stop-color="#c83430"/><stop offset="0.780" stop-color="#3e1c4c"/><stop offset="0.73" stop-color="#3e1c4c"/><stop offset="0.80" stop-color="#3e1c4c"/><stop offset="0.94" stop-color="#3e1c4c"/><stop offset="1.0" stop-color="#08020e"/></radialGradient><radialGradient id="tc_7" cx="863.75" cy="158.10" r="14.40" gradientUnits="userSpaceOnUse"><stop offset="0" stop-color="#7a4a4c"/><stop offset="0.720" stop-color="#7a4a4c"/><stop offset="0.780" stop-color="#2c1c40"/><stop offset="0.73" stop-color="#2c1c40"/><stop offset="0.80" stop-color="#2c1c40"/><stop offset="0.94" stop-color="#2c1c40"/><stop offset="1.0" stop-color="#08020e"/></radialGradient><linearGradient id="tca0" x1="0" y1="68.0" x2="0" y2="152.5" gradientUnits="userSpaceOnUse"><stop offset="0" stop-color="#ff8888"/><stop offset="1" stop-color="#ffdcdc"/></linearGradient><linearGradient id="tca1" x1="0" y1="70.7" x2="0" y2="149.5" gradientUnits="userSpaceOnUse"><stop offset="0" stop-color="#ff9c9c"/><stop offset="1" stop-color="#ffdcdc"/></linearGradient><clipPath id="clipd"><rect x="708" y="370.6" width="330.3" height="265.6"/></clipPath><radialGradient id="td_0" cx="731.40" cy="411.60" r="13.40" gradientUnits="userSpaceOnUse"><stop offset="0" stop-color="#c09a78"/><stop offset="0.620" stop-color="#c09a78"/><stop offset="0.740" stop-color="#2a1230"/><stop offset="0.73" stop-color="#2a1230"/><stop offset="0.80" stop-color="#5a2048"/><stop offset="0.94" stop-color="#5a2048"/><stop offset="1.0" stop-color="#06030a"/></radialGradient><radialGradient id="td_1" cx="731.40" cy="441.10" r="13.40" gradientUnits="userSpaceOnUse"><stop offset="0" stop-color="#c4b070"/><stop offset="0.620" stop-color="#c4b070"/><stop offset="0.740" stop-color="#2a1230"/><stop offset="0.73" stop-color="#2a1230"/><stop offset="0.80" stop-color="#58205a"/><stop offset="0.94" stop-color="#58205a"/><stop offset="1.0" stop-color="#06030a"/></radialGradient><radialGradient id="td_2" cx="731.40" cy="470.50" r="13.40" gradientUnits="userSpaceOnUse"><stop offset="0" stop-color="#bcc878"/><stop offset="0.620" stop-color="#bcc878"/><stop offset="0.740" stop-color="#2a1230"/><stop offset="0.73" stop-color="#2a1230"/><stop offset="0.80" stop-color="#482454"/><stop offset="0.94" stop-color="#482454"/><stop offset="1.0" stop-color="#06030a"/></radialGradient><radialGradient id="td_3" cx="731.40" cy="500.20" r="13.40" gradientUnits="userSpaceOnUse"><stop offset="0" stop-color="#48dc88"/><stop offset="0.620" stop-color="#48dc88"/><stop offset="0.740" stop-color="#2a1230"/><stop offset="0.73" stop-color="#2a1230"/><stop offset="0.80" stop-color="#26283c"/><stop offset="0.94" stop-color="#26283c"/><stop offset="1.0" stop-color="#06030a"/></radialGradient><radialGradient id="td_4" cx="868.15" cy="410.10" r="13.10" gradientUnits="userSpaceOnUse"><stop offset="0" stop-color="#e0102c"/><stop offset="0.620" stop-color="#e0102c"/><stop offset="0.740" stop-color="#1c0e38"/><stop offset="0.73" stop-color="#1c0e38"/><stop offset="0.80" stop-color="#321858"/><stop offset="0.94" stop-color="#321858"/><stop offset="1.0" stop-color="#0a0416"/></radialGradient><radialGradient id="td_5" cx="868.15" cy="438.50" r="13.10" gradientUnits="userSpaceOnUse"><stop offset="0" stop-color="#e41c38"/><stop offset="0.620" stop-color="#e41c38"/><stop offset="0.740" stop-color="#1c0e38"/><stop offset="0.73" stop-color="#1c0e38"/><stop offset="0.80" stop-color="#2e185c"/><stop offset="0.94" stop-color="#2e185c"/><stop offset="1.0" stop-color="#0a0416"/></radialGradient><radialGradient id="td_6" cx="868.15" cy="466.70" r="12.70" gradientUnits="userSpaceOnUse"><stop offset="0" stop-color="#e43448"/><stop offset="0.620" stop-color="#e43448"/><stop offset="0.740" stop-color="#1c0e38"/><stop offset="0.73" stop-color="#1c0e38"/><stop offset="0.80" stop-color="#281a60"/><stop offset="0.94" stop-color="#281a60"/><stop offset="1.0" stop-color="#0a0416"/></radialGradient><radialGradient id="td_7" cx="868.15" cy="494.60" r="13.10" gradientUnits="userSpaceOnUse"><stop offset="0" stop-color="#7c5050"/><stop offset="0.620" stop-color="#7c5050"/><stop offset="0.740" stop-color="#1c0e38"/><stop offset="0.73" stop-color="#1c0e38"/><stop offset="0.80" stop-color="#1a1a54"/><stop offset="0.94" stop-color="#1a1a54"/><stop offset="1.0" stop-color="#0a0416"/></radialGradient><linearGradient id="tda0" x1="0" y1="419.2" x2="0" y2="495.0" gradientUnits="userSpaceOnUse"><stop offset="0" stop-color="#e4feea"/><stop offset="1" stop-color="#9cf5b4"/></linearGradient><linearGradient id="tda1" x1="0" y1="413.8" x2="0" y2="490.6" gradientUnits="userSpaceOnUse"><stop offset="0" stop-color="#ff8088"/><stop offset="1" stop-color="#ffdada"/></linearGradient><clipPath id="clipe"><rect x="709.5" y="722.2" width="329" height="264.4"/></clipPath><radialGradient id="te_0" cx="733.90" cy="764.30" r="13.10" gradientUnits="userSpaceOnUse"><stop offset="0" stop-color="#80e488"/><stop offset="0.640" stop-color="#80e488"/><stop offset="0.760" stop-color="#10102c"/><stop offset="0.73" stop-color="#10102c"/><stop offset="0.80" stop-color="#211c42"/><stop offset="0.94" stop-color="#211c42"/><stop offset="1.0" stop-color="#04040c"/></radialGradient><radialGradient id="te_1" cx="733.90" cy="794.15" r="13.10" gradientUnits="userSpaceOnUse"><stop offset="0" stop-color="#7ee07a"/><stop offset="0.640" stop-color="#7ee07a"/><stop offset="0.760" stop-color="#10102c"/><stop offset="0.73" stop-color="#10102c"/><stop offset="0.80" stop-color="#201a40"/><stop offset="0.94" stop-color="#201a40"/><stop offset="1.0" stop-color="#04040c"/></radialGradient><radialGradient id="te_2" cx="733.90" cy="823.05" r="12.95" gradientUnits="userSpaceOnUse"><stop offset="0" stop-color="#8cf078"/><stop offset="0.640" stop-color="#8cf078"/><stop offset="0.760" stop-color="#10102c"/><stop offset="0.73" stop-color="#10102c"/><stop offset="0.80" stop-color="#251c44"/><stop offset="0.94" stop-color="#251c44"/><stop offset="1.0" stop-color="#04040c"/></radialGradient><radialGradient id="te_3" cx="733.90" cy="852.20" r="13.10" gradientUnits="userSpaceOnUse"><stop offset="0" stop-color="#38f878"/><stop offset="0.640" stop-color="#38f878"/><stop offset="0.760" stop-color="#10102c"/><stop offset="0.73" stop-color="#10102c"/><stop offset="0.80" stop-color="#16203c"/><stop offset="0.94" stop-color="#16203c"/><stop offset="1.0" stop-color="#04040c"/></radialGradient><radialGradient id="te_4" cx="877.30" cy="761.50" r="13.60" gradientUnits="userSpaceOnUse"><stop offset="0" stop-color="#d62646"/><stop offset="0.640" stop-color="#d62646"/><stop offset="0.760" stop-color="#0e0c34"/><stop offset="0.73" stop-color="#0e0c34"/><stop offset="0.80" stop-color="#17175a"/><stop offset="0.94" stop-color="#17175a"/><stop offset="1.0" stop-color="#08061a"/></radialGradient><radialGradient id="te_5" cx="877.30" cy="790.60" r="13.70" gradientUnits="userSpaceOnUse"><stop offset="0" stop-color="#da2a48"/><stop offset="0.640" stop-color="#da2a48"/><stop offset="0.760" stop-color="#0e0c34"/><stop offset="0.73" stop-color="#0e0c34"/><stop offset="0.80" stop-color="#171758"/><stop offset="0.94" stop-color="#171758"/><stop offset="1.0" stop-color="#08061a"/></radialGradient><radialGradient id="te_6" cx="877.30" cy="819.30" r="13.40" gradientUnits="userSpaceOnUse"><stop offset="0" stop-color="#e23e4a"/><stop offset="0.640" stop-color="#e23e4a"/><stop offset="0.760" stop-color="#0e0c34"/><stop offset="0.73" stop-color="#0e0c34"/><stop offset="0.80" stop-color="#1a175c"/><stop offset="0.94" stop-color="#1a175c"/><stop offset="1.0" stop-color="#08061a"/></radialGradient><radialGradient id="te_7" cx="877.30" cy="848.65" r="13.70" gradientUnits="userSpaceOnUse"><stop offset="0" stop-color="#92693f"/><stop offset="0.640" stop-color="#92693f"/><stop offset="0.760" stop-color="#0e0c34"/><stop offset="0.73" stop-color="#0e0c34"/><stop offset="0.80" stop-color="#161852"/><stop offset="0.94" stop-color="#161852"/><stop offset="1.0" stop-color="#08061a"/></radialGradient><linearGradient id="tea0" x1="0" y1="772.7" x2="0" y2="845.5" gradientUnits="userSpaceOnUse"><stop offset="0" stop-color="#dcf6d6"/><stop offset="1" stop-color="#cdf0c4"/></linearGradient><linearGradient id="tea1" x1="0" y1="769.9" x2="0" y2="846.3" gradientUnits="userSpaceOnUse"><stop offset="0" stop-color="#ff8488"/><stop offset="1" stop-color="#ffd8d8"/></linearGradient></defs><path d="M94.5 437.1V959.3M123.5 437.1V959.3M152.5 437.1V959.3M181.5 437.1V959.3M210.5 437.1V959.3M239.5 437.1V959.3M268.5 437.1V959.3M297.5 437.1V959.3M327.5 437.1V959.3M356.5 437.1V959.3M385.5 437.1V959.3M414.5 437.1V959.3M443.5 437.1V959.3M472.5 437.1V959.3M501.5 437.1V959.3M530.5 437.1V959.3M65.0 930.5H530.8M65.0 901.5H530.8M65.0 872.5H530.8M65.0 843.5H530.8M65.0 814.5H530.8M65.0 785.5H530.8M65.0 756.5H530.8M65.0 727.5H530.8M65.0 698.5H530.8M65.0 669.5H530.8M65.0 640.5H530.8M65.0 611.5H530.8M65.0 582.5H530.8M65.0 553.5H530.8M65.0 524.5H530.8M65.0 495.5H530.8M65.0 466.5H530.8M65.0 437.5H530.8" stroke="#c6c6c6" stroke-width="1" fill="none"/>
<line x1="123.23" y1="437.12" x2="530.84" y2="843.26" stroke="#b4b4b4" stroke-width="1.3" />
<path d="M65.6 437.1V959.4H530.8" stroke="#505050" stroke-width="1.8" fill="none"/>
<path d="M65.5 959.5h-4M65.5 901.5h-4M65.5 843.5h-4M65.5 785.5h-4M65.5 727.5h-4M65.5 669.5h-4M65.5 611.5h-4M65.5 553.5h-4M65.5 495.5h-4M65.5 437.5h-4M65.5 959.8v4M123.5 959.8v4M181.5 959.8v4M239.5 959.8v4M297.5 959.8v4M356.5 959.8v4M414.5 959.8v4M472.5 959.8v4M530.5 959.8v4" stroke="#505050" stroke-width="1.5" fill="none"/>
<text x="59.70" y="966.60" font-size="20" font-weight="normal" text-anchor="end" fill="#1c1c1c" >0.0</text>
<text x="59.70" y="908.58" font-size="20" font-weight="normal" text-anchor="end" fill="#1c1c1c" >0.1</text>
<text x="59.70" y="850.56" font-size="20" font-weight="normal" text-anchor="end" fill="#1c1c1c" >0.2</text>
<text x="59.70" y="792.54" font-size="20" font-weight="normal" text-anchor="end" fill="#1c1c1c" >0.3</text>
<text x="59.70" y="734.52" font-size="20" font-weight="normal" text-anchor="end" fill="#1c1c1c" >0.4</text>
<text x="59.70" y="676.50" font-size="20" font-weight="normal" text-anchor="end" fill="#1c1c1c" >0.5</text>
<text x="59.70" y="618.48" font-size="20" font-weight="normal" text-anchor="end" fill="#1c1c1c" >0.6</text>
<text x="59.70" y="560.46" font-size="20" font-weight="normal" text-anchor="end" fill="#1c1c1c" >0.7</text>
<text x="59.70" y="502.44" font-size="20" font-weight="normal" text-anchor="end" fill="#1c1c1c" >0.8</text>
<text x="59.70" y="444.42" font-size="20" font-weight="normal" text-anchor="end" fill="#1c1c1c" >0.9</text>
<text x="65.70" y="982.50" font-size="20" font-weight="normal" text-anchor="middle" fill="#1c1c1c" >0.0</text>
<text x="123.93" y="982.50" font-size="20" font-weight="normal" text-anchor="middle" fill="#1c1c1c" >0.1</text>
<text x="182.16" y="982.50" font-size="20" font-weight="normal" text-anchor="middle" fill="#1c1c1c" >0.2</text>
<text x="240.39" y="982.50" font-size="20" font-weight="normal" text-anchor="middle" fill="#1c1c1c" >0.3</text>
<text x="298.62" y="982.50" font-size="20" font-weight="normal" text-anchor="middle" fill="#1c1c1c" >0.4</text>
<text x="356.85" y="982.50" font-size="20" font-weight="normal" text-anchor="middle" fill="#1c1c1c" >0.5</text>
<text x="415.08" y="982.50" font-size="20" font-weight="normal" text-anchor="middle" fill="#1c1c1c" >0.6</text>
<text x="473.31" y="982.50" font-size="20" font-weight="normal" text-anchor="middle" fill="#1c1c1c" >0.7</text>
<text x="531.54" y="982.50" font-size="20" font-weight="normal" text-anchor="middle" fill="#1c1c1c" >0.8</text>
<text x="325.03" y="989.80" font-size="20" font-weight="normal" text-anchor="middle" fill="#1c1c1c" >x</text>
<text x="33.00" y="701.20" font-size="20" font-weight="normal" text-anchor="middle" fill="#1c1c1c" >y</text>
<g clip-path="url(#cieclip)"><rect x="103.1" y="474.0" width="18.7" height="2.60" fill="url(#r0)"/><rect x="97.1" y="476.0" width="31.8" height="2.60" fill="url(#r1)"/><rect x="93.3" y="478.0" width="41.4" height="2.60" fill="url(#r2)"/><rect x="90.5" y="480.0" width="49.2" height="2.60" fill="url(#r3)"/><rect x="88.2" y="482.0" width="55.7" height="2.60" fill="url(#r4)"/><rect x="86.4" y="484.0" width="61.5" height="2.60" fill="url(#r5)"/><rect x="84.8" y="486.0" width="66.7" height="2.60" fill="url(#r6)"/><rect x="83.4" y="488.0" width="71.7" height="2.60" fill="url(#r7)"/><rect x="82.1" y="490.0" width="76.5" height="2.60" fill="url(#r8)"/><rect x="81.0" y="492.0" width="81.1" height="2.60" fill="url(#r9)"/><rect x="79.9" y="494.0" width="85.5" height="2.60" fill="url(#r10)"/><rect x="78.9" y="496.0" width="89.7" height="2.60" fill="url(#r11)"/><rect x="77.9" y="498.0" width="93.7" height="2.60" fill="url(#r12)"/><rect x="77.1" y="500.0" width="97.6" height="2.60" fill="url(#r13)"/><rect x="76.2" y="502.0" width="101.4" height="2.60" fill="url(#r14)"/><rect x="75.4" y="504.0" width="105.2" height="2.60" fill="url(#r15)"/><rect x="74.7" y="506.0" width="108.8" height="2.60" fill="url(#r16)"/><rect x="74.0" y="508.0" width="112.3" height="2.60" fill="url(#r17)"/><rect x="73.3" y="510.0" width="115.7" height="2.60" fill="url(#r18)"/><rect x="72.7" y="512.0" width="119.0" height="2.60" fill="url(#r19)"/><rect x="72.1" y="514.0" width="122.2" height="2.60" fill="url(#r20)"/><rect x="71.6" y="516.0" width="125.4" height="2.60" fill="url(#r21)"/><rect x="71.1" y="518.0" width="128.5" height="2.60" fill="url(#r22)"/><rect x="70.6" y="520.0" width="131.6" height="2.60" fill="url(#r23)"/><rect x="70.1" y="522.0" width="134.6" height="2.60" fill="url(#r24)"/><rect x="69.7" y="524.0" width="137.5" height="2.60" fill="url(#r25)"/><rect x="69.3" y="526.0" width="140.3" height="2.60" fill="url(#r26)"/><rect x="68.9" y="528.0" width="143.2" height="2.60" fill="url(#r27)"/><rect x="68.5" y="530.0" width="145.9" height="2.60" fill="url(#r28)"/><rect x="68.2" y="532.0" width="148.6" height="2.60" fill="url(#r29)"/><rect x="67.9" y="534.0" width="151.3" height="2.60" fill="url(#r30)"/><rect x="67.6" y="536.0" width="154.0" height="2.60" fill="url(#r31)"/><rect x="67.3" y="538.0" width="156.6" height="2.60" fill="url(#r32)"/><rect x="67.0" y="540.0" width="159.2" height="2.60" fill="url(#r33)"/><rect x="66.8" y="542.0" width="161.7" height="2.60" fill="url(#r34)"/><rect x="66.5" y="544.0" width="164.2" height="2.60" fill="url(#r35)"/><rect x="66.3" y="546.0" width="166.7" height="2.60" fill="url(#r36)"/><rect x="66.1" y="548.0" width="169.1" height="2.60" fill="url(#r37)"/><rect x="65.9" y="550.0" width="171.5" height="2.60" fill="url(#r38)"/><rect x="65.7" y="552.0" width="173.9" height="2.60" fill="url(#r39)"/><rect x="65.5" y="554.0" width="176.3" height="2.60" fill="url(#r40)"/><rect x="65.4" y="556.0" width="178.7" height="2.60" fill="url(#r41)"/><rect x="65.2" y="558.0" width="181.0" height="2.60" fill="url(#r42)"/><rect x="65.1" y="560.0" width="183.3" height="2.60" fill="url(#r43)"/><rect x="65.0" y="562.0" width="185.6" height="2.60" fill="url(#r44)"/><rect x="64.8" y="564.0" width="187.9" height="2.60" fill="url(#r45)"/><rect x="64.7" y="566.0" width="190.1" height="2.60" fill="url(#r46)"/><rect x="64.6" y="568.0" width="192.4" height="2.60" fill="url(#r47)"/><rect x="64.5" y="570.0" width="194.6" height="2.60" fill="url(#r48)"/><rect x="64.4" y="572.0" width="196.8" height="2.60" fill="url(#r49)"/><rect x="64.4" y="574.0" width="199.0" height="2.60" fill="url(#r50)"/><rect x="64.3" y="576.0" width="201.1" height="2.60" fill="url(#r51)"/><rect x="64.3" y="578.0" width="203.3" height="2.60" fill="url(#r52)"/><rect x="64.2" y="580.0" width="205.5" height="2.60" fill="url(#r53)"/><rect x="64.2" y="582.0" width="207.6" height="2.60" fill="url(#r54)"/><rect x="64.2" y="584.0" width="209.7" height="2.60" fill="url(#r55)"/><rect x="64.1" y="586.0" width="211.8" height="2.60" fill="url(#r56)"/><rect x="64.1" y="588.0" width="213.9" height="2.60" fill="url(#r57)"/><rect x="64.1" y="590.0" width="216.0" height="2.60" fill="url(#r58)"/><rect x="64.1" y="592.0" width="218.1" height="2.60" fill="url(#r59)"/><rect x="64.1" y="594.0" width="220.1" height="2.60" fill="url(#r60)"/><rect x="64.2" y="596.0" width="222.2" height="2.60" fill="url(#r61)"/><rect x="64.2" y="598.0" width="224.2" height="2.60" fill="url(#r62)"/><rect x="64.2" y="600.0" width="226.2" height="2.60" fill="url(#r63)"/><rect x="64.3" y="602.0" width="228.2" height="2.60" fill="url(#r64)"/><rect x="64.3" y="604.0" width="230.2" height="2.60" fill="url(#r65)"/><rect x="64.4" y="606.0" width="232.2" height="2.60" fill="url(#r66)"/><rect x="64.5" y="608.0" width="234.2" height="2.60" fill="url(#r67)"/><rect x="64.5" y="610.0" width="236.1" height="2.60" fill="url(#r68)"/><rect x="64.6" y="612.0" width="238.1" height="2.60" fill="url(#r69)"/><rect x="64.7" y="614.0" width="240.1" height="2.60" fill="url(#r70)"/><rect x="64.8" y="616.0" width="242.0" height="2.60" fill="url(#r71)"/><rect x="64.9" y="618.0" width="244.0" height="2.60" fill="url(#r72)"/><rect x="65.0" y="620.0" width="245.9" height="2.60" fill="url(#r73)"/><rect x="65.1" y="622.0" width="247.8" height="2.60" fill="url(#r74)"/><rect x="65.2" y="624.0" width="249.8" height="2.60" fill="url(#r75)"/><rect x="65.3" y="626.0" width="251.7" height="2.60" fill="url(#r76)"/><rect x="65.4" y="628.0" width="253.6" height="2.60" fill="url(#r77)"/><rect x="65.5" y="630.0" width="255.5" height="2.60" fill="url(#r78)"/><rect x="65.7" y="632.0" width="257.4" height="2.60" fill="url(#r79)"/><rect x="65.8" y="634.0" width="259.3" height="2.60" fill="url(#r80)"/><rect x="65.9" y="636.0" width="261.2" height="2.60" fill="url(#r81)"/><rect x="66.1" y="638.0" width="263.1" height="2.60" fill="url(#r82)"/><rect x="66.2" y="640.0" width="265.0" height="2.60" fill="url(#r83)"/><rect x="66.4" y="642.0" width="266.8" height="2.60" fill="url(#r84)"/><rect x="66.5" y="644.0" width="268.7" height="2.60" fill="url(#r85)"/><rect x="66.7" y="646.0" width="270.5" height="2.60" fill="url(#r86)"/><rect x="66.9" y="648.0" width="272.4" height="2.60" fill="url(#r87)"/><rect x="67.0" y="650.0" width="274.2" height="2.60" fill="url(#r88)"/><rect x="67.2" y="652.0" width="276.1" height="2.60" fill="url(#r89)"/><rect x="67.4" y="654.0" width="277.9" height="2.60" fill="url(#r90)"/><rect x="67.6" y="656.0" width="279.8" height="2.60" fill="url(#r91)"/><rect x="67.8" y="658.0" width="281.6" height="2.60" fill="url(#r92)"/><rect x="68.0" y="660.0" width="283.4" height="2.60" fill="url(#r93)"/><rect x="68.2" y="662.0" width="285.2" height="2.60" fill="url(#r94)"/><rect x="68.4" y="664.0" width="287.0" height="2.60" fill="url(#r95)"/><rect x="68.6" y="666.0" width="288.8" height="2.60" fill="url(#r96)"/><rect x="68.8" y="668.0" width="290.6" height="2.60" fill="url(#r97)"/><rect x="69.0" y="670.0" width="292.4" height="2.60" fill="url(#r98)"/><rect x="69.2" y="672.0" width="294.2" height="2.60" fill="url(#r99)"/><rect x="69.5" y="674.0" width="296.0" height="2.60" fill="url(#r100)"/><rect x="69.7" y="676.0" width="297.8" height="2.60" fill="url(#r101)"/><rect x="69.9" y="678.0" width="299.5" height="2.60" fill="url(#r102)"/><rect x="70.2" y="680.0" width="301.3" height="2.60" fill="url(#r103)"/><rect x="70.4" y="682.0" width="303.1" height="2.60" fill="url(#r104)"/><rect x="70.7" y="684.0" width="304.8" height="2.60" fill="url(#r105)"/><rect x="70.9" y="686.0" width="306.6" height="2.60" fill="url(#r106)"/><rect x="71.2" y="688.0" width="308.4" height="2.60" fill="url(#r107)"/><rect x="71.4" y="690.0" width="310.1" height="2.60" fill="url(#r108)"/><rect x="71.7" y="692.0" width="311.9" height="2.60" fill="url(#r109)"/><rect x="72.0" y="694.0" width="313.6" height="2.60" fill="url(#r110)"/><rect x="72.2" y="696.0" width="315.4" height="2.60" fill="url(#r111)"/><rect x="72.5" y="698.0" width="317.1" height="2.60" fill="url(#r112)"/><rect x="72.8" y="700.0" width="318.9" height="2.60" fill="url(#r113)"/><rect x="73.1" y="702.0" width="320.6" height="2.60" fill="url(#r114)"/><rect x="73.3" y="704.0" width="322.3" height="2.60" fill="url(#r115)"/><rect x="73.6" y="706.0" width="324.1" height="2.60" fill="url(#r116)"/><rect x="73.9" y="708.0" width="325.8" height="2.60" fill="url(#r117)"/><rect x="74.2" y="710.0" width="327.5" height="2.60" fill="url(#r118)"/><rect x="74.5" y="712.0" width="329.3" height="2.60" fill="url(#r119)"/><rect x="74.8" y="714.0" width="331.0" height="2.60" fill="url(#r120)"/><rect x="75.1" y="716.0" width="332.7" height="2.60" fill="url(#r121)"/><rect x="75.4" y="718.0" width="334.4" height="2.60" fill="url(#r122)"/><rect x="75.7" y="720.0" width="336.1" height="2.60" fill="url(#r123)"/><rect x="76.0" y="722.0" width="337.8" height="2.60" fill="url(#r124)"/><rect x="76.3" y="724.0" width="339.5" height="2.60" fill="url(#r125)"/><rect x="76.7" y="726.0" width="341.2" height="2.60" fill="url(#r126)"/><rect x="77.0" y="728.0" width="342.8" height="2.60" fill="url(#r127)"/><rect x="77.3" y="730.0" width="344.5" height="2.60" fill="url(#r128)"/><rect x="77.6" y="732.0" width="346.2" height="2.60" fill="url(#r129)"/><rect x="78.0" y="734.0" width="347.9" height="2.60" fill="url(#r130)"/><rect x="78.3" y="736.0" width="349.6" height="2.60" fill="url(#r131)"/><rect x="78.7" y="738.0" width="351.2" height="2.60" fill="url(#r132)"/><rect x="79.0" y="740.0" width="352.9" height="2.60" fill="url(#r133)"/><rect x="79.4" y="742.0" width="354.6" height="2.60" fill="url(#r134)"/><rect x="79.7" y="744.0" width="356.2" height="2.60" fill="url(#r135)"/><rect x="80.1" y="746.0" width="357.9" height="2.60" fill="url(#r136)"/><rect x="80.4" y="748.0" width="359.5" height="2.60" fill="url(#r137)"/><rect x="80.8" y="750.0" width="361.2" height="2.60" fill="url(#r138)"/><rect x="81.2" y="752.0" width="362.8" height="2.60" fill="url(#r139)"/><rect x="81.6" y="754.0" width="364.5" height="2.60" fill="url(#r140)"/><rect x="81.9" y="756.0" width="366.1" height="2.60" fill="url(#r141)"/><rect x="82.3" y="758.0" width="367.8" height="2.60" fill="url(#r142)"/><rect x="82.7" y="760.0" width="369.4" height="2.60" fill="url(#r143)"/><rect x="83.1" y="762.0" width="371.1" height="2.60" fill="url(#r144)"/><rect x="83.5" y="764.0" width="372.7" height="2.60" fill="url(#r145)"/><rect x="83.9" y="766.0" width="374.3" height="2.60" fill="url(#r146)"/><rect x="84.3" y="768.0" width="375.9" height="2.60" fill="url(#r147)"/><rect x="84.7" y="770.0" width="377.5" height="2.60" fill="url(#r148)"/><rect x="85.1" y="772.0" width="379.1" height="2.60" fill="url(#r149)"/><rect x="85.5" y="774.0" width="380.7" height="2.60" fill="url(#r150)"/><rect x="85.9" y="776.0" width="382.3" height="2.60" fill="url(#r151)"/><rect x="86.3" y="778.0" width="383.9" height="2.60" fill="url(#r152)"/><rect x="86.7" y="780.0" width="385.5" height="2.60" fill="url(#r153)"/><rect x="87.1" y="782.0" width="387.2" height="2.60" fill="url(#r154)"/><rect x="87.6" y="784.0" width="388.8" height="2.60" fill="url(#r155)"/><rect x="88.0" y="786.0" width="390.3" height="2.60" fill="url(#r156)"/><rect x="88.4" y="788.0" width="391.9" height="2.60" fill="url(#r157)"/><rect x="88.8" y="790.0" width="393.5" height="2.60" fill="url(#r158)"/><rect x="89.3" y="792.0" width="395.1" height="2.60" fill="url(#r159)"/><rect x="89.7" y="794.0" width="396.6" height="2.60" fill="url(#r160)"/><rect x="90.2" y="796.0" width="398.2" height="2.60" fill="url(#r161)"/><rect x="90.6" y="798.0" width="399.8" height="2.60" fill="url(#r162)"/><rect x="91.1" y="800.0" width="401.4" height="2.60" fill="url(#r163)"/><rect x="91.5" y="802.0" width="402.9" height="2.60" fill="url(#r164)"/><rect x="92.0" y="804.0" width="403.5" height="2.60" fill="url(#r165)"/><rect x="92.5" y="806.0" width="402.0" height="2.60" fill="url(#r166)"/><rect x="92.9" y="808.0" width="397.2" height="2.60" fill="url(#r167)"/><rect x="93.4" y="810.0" width="392.4" height="2.60" fill="url(#r168)"/><rect x="93.9" y="812.0" width="387.6" height="2.60" fill="url(#r169)"/><rect x="94.4" y="814.0" width="382.8" height="2.60" fill="url(#r170)"/><rect x="94.9" y="816.0" width="378.0" height="2.60" fill="url(#r171)"/><rect x="95.4" y="818.0" width="373.2" height="2.60" fill="url(#r172)"/><rect x="95.9" y="820.0" width="368.3" height="2.60" fill="url(#r173)"/><rect x="96.4" y="822.0" width="363.5" height="2.60" fill="url(#r174)"/><rect x="96.9" y="824.0" width="358.7" height="2.60" fill="url(#r175)"/><rect x="97.4" y="826.0" width="353.8" height="2.60" fill="url(#r176)"/><rect x="97.9" y="828.0" width="349.0" height="2.60" fill="url(#r177)"/><rect x="98.5" y="830.0" width="344.1" height="2.60" fill="url(#r178)"/><rect x="99.0" y="832.0" width="339.3" height="2.60" fill="url(#r179)"/><rect x="99.5" y="834.0" width="334.4" height="2.60" fill="url(#r180)"/><rect x="100.1" y="836.0" width="329.5" height="2.60" fill="url(#r181)"/><rect x="100.6" y="838.0" width="324.7" height="2.60" fill="url(#r182)"/><rect x="101.2" y="840.0" width="319.8" height="2.60" fill="url(#r183)"/><rect x="101.8" y="842.0" width="314.9" height="2.60" fill="url(#r184)"/><rect x="102.3" y="844.0" width="310.0" height="2.60" fill="url(#r185)"/><rect x="102.9" y="846.0" width="305.1" height="2.60" fill="url(#r186)"/><rect x="103.5" y="848.0" width="300.2" height="2.60" fill="url(#r187)"/><rect x="104.1" y="850.0" width="295.2" height="2.60" fill="url(#r188)"/><rect x="104.7" y="852.0" width="290.3" height="2.60" fill="url(#r189)"/><rect x="105.4" y="854.0" width="285.4" height="2.60" fill="url(#r190)"/><rect x="106.0" y="856.0" width="280.4" height="2.60" fill="url(#r191)"/><rect x="106.6" y="858.0" width="275.4" height="2.60" fill="url(#r192)"/><rect x="107.3" y="860.0" width="270.4" height="2.60" fill="url(#r193)"/><rect x="108.0" y="862.0" width="265.4" height="2.60" fill="url(#r194)"/><rect x="108.7" y="864.0" width="260.4" height="2.60" fill="url(#r195)"/><rect x="109.3" y="866.0" width="255.4" height="2.60" fill="url(#r196)"/><rect x="110.0" y="868.0" width="250.4" height="2.60" fill="url(#r197)"/><rect x="110.7" y="870.0" width="245.4" height="2.60" fill="url(#r198)"/><rect x="111.5" y="872.0" width="240.4" height="2.60" fill="url(#r199)"/><rect x="112.2" y="874.0" width="235.3" height="2.60" fill="url(#r200)"/><rect x="112.9" y="876.0" width="230.3" height="2.60" fill="url(#r201)"/><rect x="113.6" y="878.0" width="225.2" height="2.60" fill="url(#r202)"/><rect x="114.3" y="880.0" width="220.2" height="2.60" fill="url(#r203)"/><rect x="115.1" y="882.0" width="215.1" height="2.60" fill="url(#r204)"/><rect x="115.8" y="884.0" width="210.1" height="2.60" fill="url(#r205)"/><rect x="116.5" y="886.0" width="205.0" height="2.60" fill="url(#r206)"/><rect x="117.3" y="888.0" width="200.0" height="2.60" fill="url(#r207)"/><rect x="118.0" y="890.0" width="194.9" height="2.60" fill="url(#r208)"/><rect x="118.8" y="892.0" width="189.8" height="2.60" fill="url(#r209)"/><rect x="119.6" y="894.0" width="184.7" height="2.60" fill="url(#r210)"/><rect x="120.4" y="896.0" width="179.6" height="2.60" fill="url(#r211)"/><rect x="121.2" y="898.0" width="174.4" height="2.60" fill="url(#r212)"/><rect x="122.0" y="900.0" width="169.3" height="2.60" fill="url(#r213)"/><rect x="122.8" y="902.0" width="164.1" height="2.60" fill="url(#r214)"/><rect x="123.7" y="904.0" width="159.0" height="2.60" fill="url(#r215)"/><rect x="124.5" y="906.0" width="153.8" height="2.60" fill="url(#r216)"/><rect x="125.4" y="908.0" width="148.6" height="2.60" fill="url(#r217)"/><rect x="126.3" y="910.0" width="143.4" height="2.60" fill="url(#r218)"/><rect x="127.2" y="912.0" width="138.1" height="2.60" fill="url(#r219)"/><rect x="128.1" y="914.0" width="132.9" height="2.60" fill="url(#r220)"/><rect x="129.1" y="916.0" width="127.6" height="2.60" fill="url(#r221)"/><rect x="130.1" y="918.0" width="122.3" height="2.60" fill="url(#r222)"/><rect x="131.1" y="920.0" width="116.9" height="2.60" fill="url(#r223)"/><rect x="132.2" y="922.0" width="111.5" height="2.60" fill="url(#r224)"/><rect x="133.3" y="924.0" width="106.1" height="2.60" fill="url(#r225)"/><rect x="134.4" y="926.0" width="100.7" height="2.60" fill="url(#r226)"/><rect x="135.5" y="928.0" width="95.2" height="2.60" fill="url(#r227)"/><rect x="136.8" y="930.0" width="89.7" height="2.60" fill="url(#r228)"/><rect x="138.0" y="932.0" width="84.1" height="2.60" fill="url(#r229)"/><rect x="139.4" y="934.0" width="78.4" height="2.60" fill="url(#r230)"/><rect x="140.8" y="936.0" width="72.7" height="2.60" fill="url(#r231)"/><rect x="142.3" y="938.0" width="66.9" height="2.60" fill="url(#r232)"/><rect x="144.0" y="940.0" width="60.9" height="2.60" fill="url(#r233)"/><rect x="145.8" y="942.0" width="54.7" height="2.60" fill="url(#r234)"/><rect x="147.7" y="944.0" width="48.5" height="2.60" fill="url(#r235)"/><rect x="149.8" y="946.0" width="42.1" height="2.60" fill="url(#r236)"/><rect x="152.0" y="948.0" width="35.5" height="2.60" fill="url(#r237)"/><rect x="154.3" y="950.0" width="28.9" height="2.60" fill="url(#r238)"/><rect x="156.6" y="952.0" width="22.3" height="2.60" fill="url(#r239)"/><rect x="158.8" y="954.0" width="15.7" height="2.60" fill="url(#r240)"/><rect x="161.3" y="956.0" width="9.0" height="2.60" fill="url(#r241)"/></g>
<path d="M166.38 956.40L166.38 964.90M166.32 956.40L167.99 961.43M166.20 956.46L167.73 962.57M166.09 956.46L167.12 961.65M165.91 956.52L166.94 962.73M165.74 956.52L165.74 961.82M165.50 956.52L165.50 962.82M165.21 956.52L163.93 961.66M164.81 956.34L161.76 961.85M164.17 955.93L161.08 960.24M163.35 955.30L159.35 960.17M162.19 954.31L158.67 958.28M160.73 952.98L156.53 957.67M158.81 951.29L155.33 955.29M156.19 949.03L152.03 953.76M152.93 946.13L149.28 949.97M148.85 942.07L142.55 947.77M143.90 936.15L139.58 939.22M137.26 925.76L129.83 929.88M128.82 908.94L123.97 911.07M118.16 882.31L110.17 885.19M105.00 842.85L99.91 844.30M91.44 788.14L83.12 789.92M78.68 719.85L73.45 720.66M69.77 646.92L61.30 647.61M67.27 579.39L61.97 579.24M73.09 524.03L66.95 522.66M87.65 488.18L83.36 485.07M108.26 475.53L106.70 467.18M131.50 479.94L133.23 474.93M155.08 491.72L158.18 486.23M177.33 505.82L180.33 501.45M198.70 521.66L203.94 514.96M219.78 539.06L223.23 535.04M240.62 557.63L244.87 552.97M261.41 577.01L265.05 573.15M282.26 596.97L288.17 590.85M302.99 617.21L306.69 613.43M323.60 637.46L328.02 632.98M343.81 657.48L347.54 653.72M363.43 676.97L369.42 670.94M382.24 695.66L385.97 691.89M399.94 713.18L404.38 708.71M416.07 729.25L419.81 725.49M430.10 743.18L436.09 737.14M442.45 755.42L446.17 751.65M452.70 765.51L457.13 761.04M461.02 773.81L464.76 770.06M467.66 780.42L473.65 774.39M472.96 785.65L476.69 781.88M477.21 789.88L481.66 785.42M480.76 793.42L484.50 789.67M483.67 796.32L488.10 791.83M486.00 798.58L489.72 794.80M487.75 800.33L492.20 795.86M489.09 801.66L492.83 797.91M490.08 802.65L494.53 798.18M490.72 803.28L494.46 799.53M491.24 803.81L495.69 799.34M491.65 804.21L495.39 800.46M492.06 804.62L496.51 800.16M492.41 804.97L496.15 801.21M492.64 805.20L497.09 800.74M492.76 805.31L496.50 801.56M492.82 805.37L498.82 799.35" stroke="#000" stroke-width="1.5" fill="none"/>
<path d="M166.38 956.40C166.37 956.40 166.35 956.39 166.32 956.40C166.29 956.41 166.24 956.45 166.20 956.46C166.16 956.47 166.14 956.45 166.09 956.46C166.04 956.47 165.97 956.51 165.91 956.52C165.85 956.52 165.81 956.52 165.74 956.52C165.67 956.52 165.59 956.52 165.50 956.52C165.42 956.52 165.33 956.54 165.21 956.52C165.10 956.49 164.98 956.44 164.81 956.34C164.63 956.24 164.41 956.11 164.17 955.93C163.92 955.76 163.68 955.57 163.35 955.30C163.02 955.03 162.62 954.70 162.19 954.31C161.75 953.92 161.29 953.48 160.73 952.98C160.17 952.47 159.57 951.95 158.81 951.29C158.05 950.64 157.17 949.89 156.19 949.03C155.21 948.17 154.15 947.29 152.93 946.13C151.70 944.97 150.36 943.73 148.85 942.07C147.35 940.40 145.83 938.87 143.90 936.15C141.97 933.43 139.78 930.30 137.26 925.76C134.75 921.23 132.00 916.18 128.82 908.94C125.64 901.70 122.13 893.32 118.16 882.31C114.19 871.29 109.46 858.55 105.00 842.85C100.55 827.16 95.82 808.64 91.44 788.14C87.05 767.64 82.29 743.39 78.68 719.85C75.07 696.31 71.68 670.33 69.77 646.92C67.87 623.51 66.72 599.87 67.27 579.39C67.82 558.90 69.70 539.24 73.09 524.03C76.49 508.83 81.79 496.26 87.65 488.18C93.51 480.09 100.96 476.90 108.26 475.53C115.57 474.16 123.70 477.24 131.50 479.94C139.30 482.64 147.44 487.40 155.08 491.72C162.72 496.03 170.06 500.83 177.33 505.82C184.59 510.81 191.62 516.11 198.70 521.66C205.77 527.20 212.79 533.07 219.78 539.06C226.76 545.06 233.68 551.30 240.62 557.63C247.56 563.95 254.47 570.45 261.41 577.01C268.35 583.56 275.33 590.26 282.26 596.97C289.19 603.67 296.10 610.46 302.99 617.21C309.88 623.96 316.80 630.75 323.60 637.46C330.40 644.17 337.17 650.89 343.81 657.48C350.44 664.07 357.02 670.61 363.43 676.97C369.83 683.34 376.15 689.62 382.24 695.66C388.32 701.69 394.30 707.58 399.94 713.18C405.58 718.78 411.04 724.25 416.07 729.25C421.10 734.25 425.71 738.81 430.10 743.18C434.50 747.54 438.68 751.69 442.45 755.42C446.21 759.14 449.60 762.45 452.70 765.51C455.79 768.58 458.53 771.32 461.02 773.81C463.52 776.30 465.67 778.45 467.66 780.42C469.65 782.40 471.37 784.07 472.96 785.65C474.55 787.22 475.91 788.59 477.21 789.88C478.51 791.18 479.68 792.35 480.76 793.42C481.84 794.49 482.80 795.46 483.67 796.32C484.55 797.18 485.32 797.92 486.00 798.58C486.68 799.25 487.24 799.81 487.75 800.33C488.26 800.84 488.70 801.27 489.09 801.66C489.48 802.05 489.81 802.38 490.08 802.65C490.35 802.92 490.53 803.09 490.72 803.28C490.91 803.48 491.09 803.65 491.24 803.81C491.40 803.96 491.52 804.08 491.65 804.21C491.79 804.35 491.93 804.49 492.06 804.62C492.18 804.74 492.31 804.87 492.41 804.97C492.51 805.06 492.58 805.14 492.64 805.20C492.70 805.26 492.73 805.29 492.76 805.31C492.79 805.34 492.81 805.36 492.82 805.37Z" stroke="#000" stroke-width="1.9" fill="none" stroke-linejoin="round"/>
<text x="107.50" y="463.00" font-size="19.5" font-weight="normal" text-anchor="middle" fill="#1414f0" >520</text>
<text x="216.50" y="511.00" font-size="19.5" font-weight="normal" text-anchor="middle" fill="#1414f0" >540</text>
<text x="301.00" y="586.00" font-size="19.5" font-weight="normal" text-anchor="middle" fill="#1414f0" >560</text>
<text x="382.00" y="667.50" font-size="19.5" font-weight="normal" text-anchor="middle" fill="#1414f0" >580</text>
<text x="449.00" y="734.00" font-size="19.5" font-weight="normal" text-anchor="middle" fill="#1414f0" >600</text>
<text x="485.50" y="770.50" font-size="19.5" font-weight="normal" text-anchor="middle" fill="#1414f0" >620</text>
<text x="516.50" y="811.00" font-size="19.5" font-weight="normal" text-anchor="middle" fill="#1414f0" >700</text>
<text x="188.50" y="966.00" font-size="19.5" font-weight="normal" text-anchor="middle" fill="#1414f0" >380</text>
<text x="125.50" y="957.50" font-size="19.5" font-weight="normal" text-anchor="middle" fill="#1414f0" >460</text>
<text x="114.50" y="937.00" font-size="19.5" font-weight="normal" text-anchor="middle" fill="#1414f0" >470</text>
<text x="95.00" y="892.50" font-size="19.5" font-weight="normal" text-anchor="middle" fill="#1414f0" >480</text>
<text x="80.00" y="806.00" font-size="19.5" font-weight="normal" text-anchor="middle" fill="#1414f0" >490</text>
<text x="45.50" y="653.00" font-size="19.5" font-weight="normal" text-anchor="middle" fill="#1414f0" >500</text>
<circle cx="259.4" cy="694.2" r="3.5" fill="#f6bcd0" stroke="none"/><circle cx="259.4" cy="694.2" r="2.1" fill="#0c0c0c"/>
<circle cx="283.3" cy="723.3" r="3.5" fill="#f6bcd0" stroke="none"/><circle cx="283.3" cy="723.3" r="2.1" fill="#0c0c0c"/>
<circle cx="391.4" cy="713.7" r="3.5" fill="#f6bcd0" stroke="none"/><circle cx="391.4" cy="713.7" r="2.1" fill="#0c0c0c"/>
<circle cx="427.5" cy="745.8" r="3.5" fill="#f6bcd0" stroke="none"/><circle cx="427.5" cy="745.8" r="2.1" fill="#0c0c0c"/>
<circle cx="341.2" cy="778.3" r="3.5" fill="#f6bcd0" stroke="none"/><circle cx="341.2" cy="778.3" r="2.1" fill="#0c0c0c"/>
<circle cx="330.5" cy="808.3" r="3.5" fill="#f6bcd0" stroke="none"/><circle cx="330.5" cy="808.3" r="2.1" fill="#0c0c0c"/>
<line x1="262.50" y1="698.50" x2="276.10" y2="714.54" stroke="#000" stroke-width="1.6" /><path d="M280.30 719.50L273.35 716.87L278.84 712.21Z" fill="#000"/>
<line x1="422.50" y1="741.50" x2="401.83" y2="722.85" stroke="#000" stroke-width="1.6" /><path d="M397.00 718.50L404.24 720.18L399.42 725.53Z" fill="#000"/>
<line x1="339.20" y1="784.50" x2="334.96" y2="795.91" stroke="#000" stroke-width="1.6" /><path d="M332.70 802.00L331.59 794.65L338.34 797.16Z" fill="#000"/>
<text x="173.50" y="685.80" font-size="20.6" font-weight="bold" text-anchor="start" fill="#000" >Tb-HOF-2@SP</text>
<text x="349.00" y="766.40" font-size="20.6" font-weight="bold" text-anchor="start" fill="#000" >HOF@SP</text>
<text x="216.30" y="838.60" font-size="20.6" font-weight="bold" text-anchor="start" fill="#000" >HOF-olefin@SP</text>
<text x="27.00" y="410.30" font-size="36.3" font-weight="bold" text-anchor="start" fill="#3a3a3a" >(b)</text>
<path d="M274.5 57H445.5V142" fill="none" stroke="#000" stroke-width="1.8" stroke-linejoin="miter"/>
<line x1="274.50" y1="56.20" x2="274.50" y2="142.00" stroke="#000" stroke-width="1.8" />
<line x1="273.60" y1="142.00" x2="448.00" y2="142.00" stroke="#000" stroke-width="1.8" />
<line x1="121.30" y1="196.30" x2="274.50" y2="57.00" stroke="#000" stroke-width="1.8" />
<line x1="121.30" y1="320.50" x2="274.50" y2="142.00" stroke="#000" stroke-width="1.8" />
<path d="M262.00 156.97L262.50 156.97L263.00 156.97L263.50 156.97L264.00 156.97L264.50 156.97L265.00 156.97L265.50 156.97L266.00 156.97L266.50 156.97L267.00 156.97L267.50 156.97L268.00 156.97L268.50 156.97L269.00 156.97L269.50 156.97L270.00 156.97L270.50 156.97L271.00 156.97L271.50 156.97L272.00 156.97L272.50 156.96L273.00 156.96L273.50 156.96L274.00 156.96L274.50 156.96L275.00 156.96L275.50 156.96L276.00 156.96L276.50 156.96L277.00 156.96L277.50 156.96L278.00 156.96L278.50 156.96L279.00 156.96L279.50 156.96L280.00 156.95L280.50 156.95L281.00 156.95L281.50 156.95L282.00 156.95L282.50 156.95L283.00 156.95L283.50 156.95L284.00 156.95L284.50 156.95L285.00 156.95L285.50 156.94L286.00 156.94L286.50 156.94L287.00 156.94L287.50 156.94L288.00 156.94L288.50 156.94L289.00 156.94L289.50 156.93L290.00 156.93L290.50 156.93L291.00 156.93L291.50 156.93L292.00 156.93L292.50 156.92L293.00 156.92L293.50 156.92L294.00 156.92L294.50 156.92L295.00 156.91L295.50 156.91L296.00 156.91L296.50 156.90L297.00 156.90L297.50 156.90L298.00 156.90L298.50 156.89L299.00 156.89L299.50 156.89L300.00 156.88L300.50 156.88L301.00 156.87L301.50 156.87L302.00 156.86L302.50 156.86L303.00 156.85L303.50 156.85L304.00 156.84L304.50 156.83L305.00 156.83L305.50 156.82L306.00 156.81L306.50 156.80L307.00 156.79L307.50 156.78L308.00 156.77L308.50 156.75L309.00 156.74L309.50 156.72L310.00 156.71L310.50 156.69L311.00 156.67L311.50 156.64L312.00 156.62L312.50 156.59L313.00 156.55L313.50 156.52L314.00 156.47L314.50 156.42L315.00 156.34L315.50 156.24L316.00 156.07L316.50 155.78L317.00 155.28L317.50 154.43L318.00 153.05L318.50 150.92L319.00 147.83L319.50 143.64L320.00 138.33L320.50 132.07L321.00 125.24L321.50 118.36L322.00 112.03L322.50 106.84L323.00 103.23L323.50 101.45L324.00 101.26L324.50 101.97L325.00 103.65L325.50 106.30L326.00 109.83L326.50 114.07L327.00 118.81L327.50 123.83L328.00 128.87L328.50 133.73L329.00 138.22L329.50 142.21L330.00 145.61L330.50 148.41L331.00 150.62L331.50 152.32L332.00 153.57L332.50 154.46L333.00 155.08L333.50 155.51L334.00 155.79L334.50 155.97L335.00 156.10L335.50 156.18L336.00 156.24L336.50 156.29L337.00 156.32L337.50 156.35L338.00 156.37L338.50 156.39L339.00 156.41L339.50 156.42L340.00 156.43L340.50 156.44L341.00 156.45L341.50 156.45L342.00 156.45L342.50 156.45L343.00 156.45L343.50 156.45L344.00 156.44L344.50 156.44L345.00 156.43L345.50 156.42L346.00 156.40L346.50 156.39L347.00 156.37L347.50 156.35L348.00 156.32L348.50 156.29L349.00 156.26L349.50 156.22L350.00 156.18L350.50 156.13L351.00 156.07L351.50 155.98L352.00 155.87L352.50 155.70L353.00 155.46L353.50 155.09L354.00 154.54L354.50 153.73L355.00 152.55L355.50 150.90L356.00 148.66L356.50 145.70L357.00 141.94L357.50 137.33L358.00 131.89L358.50 125.71L359.00 118.97L359.50 111.91L360.00 104.83L360.50 98.07L361.00 91.95L361.50 86.77L362.00 82.79L362.50 80.15L363.00 78.89L363.50 78.78L364.00 79.58L364.50 81.48L365.00 84.50L365.50 88.57L366.00 93.55L366.50 99.23L367.00 105.39L367.50 111.78L368.00 118.17L368.50 124.32L369.00 130.05L369.50 135.21L370.00 139.73L370.50 143.54L371.00 146.68L371.50 149.19L372.00 151.13L372.50 152.59L373.00 153.67L373.50 154.44L374.00 154.99L374.50 155.37L375.00 155.63L375.50 155.82L376.00 155.95L376.50 156.04L377.00 156.11L377.50 156.17L378.00 156.22L378.50 156.26L379.00 156.29L379.50 156.32L380.00 156.34L380.50 156.36L381.00 156.38L381.50 156.40L382.00 156.41L382.50 156.41L383.00 156.41L383.50 156.41L384.00 156.39L384.50 156.35L385.00 156.26L385.50 156.06L386.00 155.66L386.50 154.95L387.00 153.78L387.50 152.04L388.00 149.72L388.50 146.94L389.00 143.97L389.50 141.20L390.00 139.00L390.50 137.66L391.00 137.27L391.50 137.34L392.00 137.56L392.50 137.95L393.00 138.52L393.50 139.26L394.00 140.15L394.50 141.17L395.00 142.29L395.50 143.49L396.00 144.74L396.50 146.01L397.00 147.26L397.50 148.48L398.00 149.63L398.50 150.71L399.00 151.69L399.50 152.56L400.00 153.33L400.50 153.99L401.00 154.55L401.50 155.01L402.00 155.39L402.50 155.69L403.00 155.93L403.50 156.12L404.00 156.26L404.50 156.37L405.00 156.45L405.50 156.51L406.00 156.55L406.50 156.58L407.00 156.61L407.50 156.63L408.00 156.64L408.50 156.65L409.00 156.65L409.50 156.66L410.00 156.66L410.50 156.65L411.00 156.64L411.50 156.61L412.00 156.56L412.50 156.42L413.00 156.15L413.50 155.62L414.00 154.73L414.50 153.41L415.00 151.68L415.50 149.71L416.00 147.76L416.50 146.15L417.00 145.15L417.50 144.85L418.00 144.99L418.50 145.46L419.00 146.26L419.50 147.35L420.00 148.64L420.50 150.03L421.00 151.40L421.50 152.68L422.00 153.78L422.50 154.69L423.00 155.38L423.50 155.88L424.00 156.22L424.50 156.45L425.00 156.59L425.50 156.67L426.00 156.72L426.50 156.76L427.00 156.78L427.50 156.79L428.00 156.81L428.50 156.82L429.00 156.83L429.50 156.83L430.00 156.84L430.50 156.85L431.00 156.86L431.50 156.86L432.00 156.87L432.50 156.87L433.00 156.88L433.50 156.88L434.00 156.88L434.50 156.89L435.00 156.89L435.50 156.89L436.00 156.90L436.50 156.90L437.00 156.90L437.50 156.91L438.00 156.91L438.50 156.91L439.00 156.91L439.50 156.91L440.00 156.92" fill="none" stroke="#1fe01f" stroke-width="1.9" stroke-linejoin="round" stroke-linecap="round" />
<path d="M231.00 192.98L231.50 192.98L232.00 192.98L232.50 192.98L233.00 192.98L233.50 192.97L234.00 192.97L234.50 192.97L235.00 192.97L235.50 192.97L236.00 192.97L236.50 192.97L237.00 192.97L237.50 192.97L238.00 192.97L238.50 192.97L239.00 192.97L239.50 192.97L240.00 192.97L240.50 192.97L241.00 192.97L241.50 192.97L242.00 192.97L242.50 192.97L243.00 192.97L243.50 192.97L244.00 192.97L244.50 192.97L245.00 192.97L245.50 192.97L246.00 192.96L246.50 192.96L247.00 192.96L247.50 192.96L248.00 192.96L248.50 192.96L249.00 192.96L249.50 192.96L250.00 192.96L250.50 192.96L251.00 192.96L251.50 192.96L252.00 192.96L252.50 192.96L253.00 192.96L253.50 192.96L254.00 192.95L254.50 192.95L255.00 192.95L255.50 192.95L256.00 192.95L256.50 192.95L257.00 192.95L257.50 192.95L258.00 192.95L258.50 192.95L259.00 192.94L259.50 192.94L260.00 192.94L260.50 192.94L261.00 192.94L261.50 192.94L262.00 192.94L262.50 192.94L263.00 192.93L263.50 192.93L264.00 192.93L264.50 192.93L265.00 192.93L265.50 192.93L266.00 192.93L266.50 192.92L267.00 192.92L267.50 192.92L268.00 192.92L268.50 192.91L269.00 192.91L269.50 192.91L270.00 192.91L270.50 192.90L271.00 192.90L271.50 192.90L272.00 192.90L272.50 192.89L273.00 192.89L273.50 192.89L274.00 192.88L274.50 192.88L275.00 192.87L275.50 192.87L276.00 192.86L276.50 192.86L277.00 192.85L277.50 192.85L278.00 192.84L278.50 192.83L279.00 192.83L279.50 192.82L280.00 192.81L280.50 192.80L281.00 192.79L281.50 192.78L282.00 192.77L282.50 192.76L283.00 192.74L283.50 192.73L284.00 192.71L284.50 192.69L285.00 192.67L285.50 192.65L286.00 192.62L286.50 192.60L287.00 192.56L287.50 192.53L288.00 192.48L288.50 192.43L289.00 192.36L289.50 192.25L290.00 192.08L290.50 191.80L291.00 191.32L291.50 190.51L292.00 189.23L292.50 187.29L293.00 184.50L293.50 180.75L294.00 176.02L294.50 170.43L295.00 164.28L295.50 157.99L296.00 152.07L296.50 147.01L297.00 143.25L297.50 141.05L298.00 140.42L298.50 140.67L299.00 141.54L299.50 143.10L300.00 145.34L300.50 148.18L301.00 151.54L301.50 155.28L302.00 159.27L302.50 163.37L303.00 167.44L303.50 171.36L304.00 175.00L304.50 178.30L305.00 181.19L305.50 183.67L306.00 185.72L306.50 187.39L307.00 188.70L307.50 189.71L308.00 190.46L308.50 191.02L309.00 191.42L309.50 191.70L310.00 191.90L310.50 192.04L311.00 192.14L311.50 192.21L312.00 192.26L312.50 192.30L313.00 192.33L313.50 192.35L314.00 192.37L314.50 192.39L315.00 192.41L315.50 192.42L316.00 192.43L316.50 192.44L317.00 192.44L317.50 192.45L318.00 192.45L318.50 192.45L319.00 192.45L319.50 192.45L320.00 192.44L320.50 192.44L321.00 192.43L321.50 192.42L322.00 192.41L322.50 192.40L323.00 192.38L323.50 192.37L324.00 192.35L324.50 192.33L325.00 192.30L325.50 192.27L326.00 192.24L326.50 192.21L327.00 192.16L327.50 192.12L328.00 192.06L328.50 191.99L329.00 191.89L329.50 191.76L330.00 191.58L330.50 191.31L331.00 190.90L331.50 190.30L332.00 189.42L332.50 188.17L333.00 186.44L333.50 184.09L334.00 181.02L334.50 177.14L335.00 172.40L335.50 166.81L336.00 160.46L336.50 153.51L337.00 146.18L337.50 138.79L338.00 131.63L338.50 125.05L339.00 119.35L339.50 114.79L340.00 111.56L340.50 109.74L341.00 109.22L341.50 109.62L342.00 111.02L342.50 113.51L343.00 117.08L343.50 121.62L344.00 126.97L344.50 132.94L345.00 139.31L345.50 145.86L346.00 152.35L346.50 158.59L347.00 164.40L347.50 169.66L348.00 174.29L348.50 178.24L349.00 181.52L349.50 184.18L350.00 186.28L350.50 187.89L351.00 189.10L351.50 189.99L352.00 190.63L352.50 191.09L353.00 191.41L353.50 191.64L354.00 191.80L354.50 191.92L355.00 192.01L355.50 192.08L356.00 192.14L356.50 192.19L357.00 192.23L357.50 192.26L358.00 192.29L358.50 192.32L359.00 192.35L359.50 192.37L360.00 192.39L360.50 192.40L361.00 192.41L361.50 192.42L362.00 192.43L362.50 192.43L363.00 192.43L363.50 192.41L364.00 192.36L364.50 192.26L365.00 192.07L365.50 191.71L366.00 191.12L366.50 190.19L367.00 188.86L367.50 187.14L368.00 185.10L368.50 182.91L369.00 180.78L369.50 178.97L370.00 177.69L370.50 177.05L371.00 176.97L371.50 177.05L372.00 177.22L372.50 177.50L373.00 177.89L373.50 178.38L374.00 178.97L374.50 179.64L375.00 180.38L375.50 181.18L376.00 182.03L376.50 182.91L377.00 183.80L377.50 184.69L378.00 185.56L378.50 186.39L379.00 187.19L379.50 187.94L380.00 188.62L380.50 189.25L381.00 189.81L381.50 190.30L382.00 190.73L382.50 191.10L383.00 191.41L383.50 191.67L384.00 191.88L384.50 192.06L385.00 192.20L385.50 192.31L386.00 192.40L386.50 192.47L387.00 192.52L387.50 192.56L388.00 192.59L388.50 192.62L389.00 192.64L389.50 192.65L390.00 192.66L390.50 192.66L391.00 192.66L391.50 192.66L392.00 192.65L392.50 192.63L393.00 192.59L393.50 192.51L394.00 192.36L394.50 192.09L395.00 191.64L395.50 190.95L396.00 189.99L396.50 188.76L397.00 187.33L397.50 185.82L398.00 184.40L398.50 183.22L399.00 182.43L399.50 182.08L400.00 182.09L400.50 182.33L401.00 182.83L401.50 183.57L402.00 184.50L402.50 185.56L403.00 186.69L403.50 187.82L404.00 188.88L404.50 189.82L405.00 190.61L405.50 191.25L406.00 191.74L406.50 192.10L407.00 192.35L407.50 192.52L408.00 192.63L408.50 192.69L409.00 192.74L409.50 192.77L410.00 192.79L410.50 192.80L411.00 192.81L411.50 192.82L412.00 192.83L412.50 192.84L413.00 192.85L413.50 192.85L414.00 192.86L414.50 192.86L415.00 192.87L415.50 192.87L416.00 192.88L416.50 192.88L417.00 192.89L417.50 192.89L418.00 192.89L418.50 192.90L419.00 192.90L419.50 192.90L420.00 192.90L420.50 192.91L421.00 192.91L421.50 192.91L422.00 192.91L422.50 192.91L423.00 192.92L423.50 192.92L424.00 192.92L424.50 192.92L425.00 192.92" fill="none" stroke="#19e8f5" stroke-width="1.9" stroke-linejoin="round" stroke-linecap="round" />
<path d="M240.3 121.8A7.0 7.0 0 0 1 249.4 121.0L273.3 138.2A7.0 7.0 0 0 1 274.4 148.6L167.6 267.3A7.0 7.0 0 0 1 158.3 268.3L130.4 248.1A7.0 7.0 0 0 1 129.5 237.6Z" fill="#6a6a6a" opacity="0.5" filter="url(#shd)"/>
<path d="M239.2 119.5A7.0 7.0 0 0 1 248.3 118.7L272.2 135.9A7.0 7.0 0 0 1 273.3 146.3L166.5 265.0A7.0 7.0 0 0 1 157.2 266.0L129.3 245.8A7.0 7.0 0 0 1 128.4 235.3Z" fill="#e6e6e6" />
<path d="M237.3 117.8A7.0 7.0 0 0 1 246.4 117.0L270.3 134.2A7.0 7.0 0 0 1 271.4 144.6L164.6 263.3A7.0 7.0 0 0 1 155.3 264.3L127.4 244.1A7.0 7.0 0 0 1 126.5 233.6Z" fill="#0a0d19" />
<g clip-path="url(#stripclip)"><path d="M184.3 173L221.5 197.1L192.4 230.9L153.9 205.5Z" fill="#030405"/><path d="M153.9 205.5L192.4 230.9L150 280L100 240Z" fill="#0c0a17"/><line x1="213.90" y1="141.40" x2="250.40" y2="165.20" stroke="#d4d4d4" stroke-width="1.3" stroke-linecap="round"/><line x1="184.30" y1="173.00" x2="221.70" y2="197.30" stroke="#d4d4d4" stroke-width="1.3" stroke-linecap="round"/><line x1="153.90" y1="205.50" x2="192.60" y2="231.10" stroke="#d4d4d4" stroke-width="1.3" stroke-linecap="round"/><ellipse cx="246.8" cy="137.5" rx="8.0" ry="4.6" transform="rotate(-12 246.8 137.5)" fill="#78bf38" opacity="0.75" filter="url(#blb)"/><ellipse cx="246.8" cy="137.5" rx="5.0" ry="2.9" transform="rotate(-12 246.8 137.5)" fill="#78bf38"/><circle cx="245.1" cy="140.6" r="1.2" fill="#78bf38" opacity="0.48"/><circle cx="240.5" cy="138.0" r="0.7" fill="#78bf38" opacity="0.68"/><circle cx="253.5" cy="137.0" r="0.7" fill="#78bf38" opacity="0.49"/><circle cx="239.4" cy="141.5" r="0.7" fill="#78bf38" opacity="0.55"/><circle cx="239.4" cy="135.0" r="1.1" fill="#78bf38" opacity="0.63"/><circle cx="251.2" cy="136.2" r="1.4" fill="#78bf38" opacity="0.58"/><circle cx="250.3" cy="139.1" r="0.9" fill="#78bf38" opacity="0.82"/><circle cx="250.8" cy="140.7" r="1.2" fill="#78bf38" opacity="0.62"/><circle cx="242.2" cy="137.7" r="0.7" fill="#78bf38" opacity="0.54"/><circle cx="243.2" cy="134.6" r="0.9" fill="#78bf38" opacity="0.71"/><circle cx="241.3" cy="139.7" r="1.3" fill="#78bf38" opacity="0.76"/><circle cx="248.0" cy="141.7" r="1.1" fill="#78bf38" opacity="0.84"/><circle cx="245.3" cy="134.3" r="1.5" fill="#78bf38" opacity="0.50"/><circle cx="240.0" cy="141.5" r="0.7" fill="#78bf38" opacity="0.67"/><circle cx="254.8" cy="137.0" r="1.3" fill="#78bf38" opacity="0.71"/><circle cx="250.6" cy="134.2" r="1.2" fill="#78bf38" opacity="0.72"/><ellipse cx="218.1" cy="166.7" rx="7.4" ry="4.0" transform="rotate(28 218.1 166.7)" fill="#74be3a" opacity="0.75" filter="url(#blb)"/><ellipse cx="218.1" cy="166.7" rx="4.6" ry="2.5" transform="rotate(28 218.1 166.7)" fill="#74be3a"/><circle cx="213.9" cy="162.6" r="1.4" fill="#74be3a" opacity="0.88"/><circle cx="211.2" cy="163.8" r="0.7" fill="#74be3a" opacity="0.77"/><circle cx="215.1" cy="160.6" r="1.3" fill="#74be3a" opacity="0.58"/><circle cx="211.8" cy="166.4" r="0.6" fill="#74be3a" opacity="0.66"/><circle cx="219.1" cy="169.7" r="0.7" fill="#74be3a" opacity="0.80"/><circle cx="220.4" cy="170.3" r="1.0" fill="#74be3a" opacity="0.84"/><circle cx="222.3" cy="170.8" r="1.1" fill="#74be3a" opacity="0.85"/><circle cx="223.2" cy="164.7" r="0.9" fill="#74be3a" opacity="0.64"/><circle cx="211.6" cy="167.3" r="1.5" fill="#74be3a" opacity="0.52"/><circle cx="219.0" cy="170.1" r="0.8" fill="#74be3a" opacity="0.67"/><circle cx="214.8" cy="163.2" r="0.6" fill="#74be3a" opacity="0.64"/><circle cx="212.6" cy="166.9" r="1.5" fill="#74be3a" opacity="0.76"/><circle cx="211.9" cy="163.0" r="1.2" fill="#74be3a" opacity="0.47"/><circle cx="225.1" cy="167.5" r="1.4" fill="#74be3a" opacity="0.81"/><circle cx="212.9" cy="166.3" r="0.7" fill="#74be3a" opacity="0.74"/><circle cx="221.3" cy="169.4" r="0.8" fill="#74be3a" opacity="0.52"/><ellipse cx="187.7" cy="198.0" rx="8.6" ry="4.6" transform="rotate(30 187.7 198.0)" fill="#62963a" opacity="0.75" filter="url(#blb)"/><ellipse cx="187.7" cy="198.0" rx="5.3" ry="2.9" transform="rotate(30 187.7 198.0)" fill="#62963a"/><circle cx="184.2" cy="198.6" r="0.6" fill="#62963a" opacity="0.52"/><circle cx="191.4" cy="202.7" r="0.6" fill="#62963a" opacity="0.84"/><circle cx="185.0" cy="194.2" r="0.8" fill="#62963a" opacity="0.61"/><circle cx="183.5" cy="198.1" r="1.4" fill="#62963a" opacity="0.90"/><circle cx="180.8" cy="195.0" r="0.7" fill="#62963a" opacity="0.50"/><circle cx="183.3" cy="198.7" r="1.3" fill="#62963a" opacity="0.52"/><circle cx="196.3" cy="203.9" r="1.1" fill="#62963a" opacity="0.52"/><circle cx="184.0" cy="195.0" r="1.1" fill="#62963a" opacity="0.89"/><circle cx="194.6" cy="197.8" r="0.8" fill="#62963a" opacity="0.62"/><circle cx="189.6" cy="204.1" r="1.1" fill="#62963a" opacity="0.80"/><circle cx="183.8" cy="199.0" r="1.3" fill="#62963a" opacity="0.89"/><circle cx="194.7" cy="197.3" r="1.3" fill="#62963a" opacity="0.78"/><circle cx="186.6" cy="202.2" r="0.9" fill="#62963a" opacity="0.46"/><circle cx="192.9" cy="201.7" r="0.8" fill="#62963a" opacity="0.76"/><circle cx="194.4" cy="200.6" r="1.4" fill="#62963a" opacity="0.89"/><circle cx="194.0" cy="200.4" r="0.8" fill="#62963a" opacity="0.55"/><ellipse cx="154.7" cy="236.0" rx="7.8" ry="5.6" transform="rotate(38 154.7 236.0)" fill="#5f8f3a" opacity="0.75" filter="url(#blb)"/><ellipse cx="154.7" cy="236.0" rx="4.8" ry="3.5" transform="rotate(38 154.7 236.0)" fill="#5f8f3a"/><circle cx="153.8" cy="240.0" r="1.2" fill="#5f8f3a" opacity="0.86"/><circle cx="160.2" cy="235.0" r="1.2" fill="#5f8f3a" opacity="0.81"/><circle cx="158.3" cy="242.5" r="1.4" fill="#5f8f3a" opacity="0.80"/><circle cx="157.8" cy="232.1" r="0.8" fill="#5f8f3a" opacity="0.81"/><circle cx="148.0" cy="237.6" r="1.5" fill="#5f8f3a" opacity="0.63"/><circle cx="146.2" cy="234.4" r="1.3" fill="#5f8f3a" opacity="0.53"/><circle cx="155.9" cy="240.3" r="1.4" fill="#5f8f3a" opacity="0.81"/><circle cx="155.8" cy="243.2" r="1.5" fill="#5f8f3a" opacity="0.75"/><circle cx="148.7" cy="236.7" r="0.7" fill="#5f8f3a" opacity="0.46"/><circle cx="161.4" cy="239.9" r="1.1" fill="#5f8f3a" opacity="0.87"/><circle cx="146.6" cy="233.0" r="1.3" fill="#5f8f3a" opacity="0.54"/><circle cx="152.0" cy="239.3" r="0.8" fill="#5f8f3a" opacity="0.71"/><circle cx="151.5" cy="239.5" r="0.7" fill="#5f8f3a" opacity="0.86"/><circle cx="149.1" cy="236.5" r="1.1" fill="#5f8f3a" opacity="0.86"/><circle cx="146.3" cy="233.5" r="1.1" fill="#5f8f3a" opacity="0.69"/><circle cx="151.6" cy="233.0" r="1.0" fill="#5f8f3a" opacity="0.53"/></g>
<path d="M192.00 235.48L192.50 235.48L193.00 235.48L193.50 235.48L194.00 235.48L194.50 235.48L195.00 235.48L195.50 235.48L196.00 235.48L196.50 235.48L197.00 235.48L197.50 235.48L198.00 235.48L198.50 235.48L199.00 235.48L199.50 235.48L200.00 235.48L200.50 235.48L201.00 235.48L201.50 235.48L202.00 235.48L202.50 235.48L203.00 235.48L203.50 235.48L204.00 235.48L204.50 235.48L205.00 235.48L205.50 235.48L206.00 235.48L206.50 235.48L207.00 235.48L207.50 235.48L208.00 235.48L208.50 235.47L209.00 235.47L209.50 235.47L210.00 235.47L210.50 235.47L211.00 235.47L211.50 235.47L212.00 235.47L212.50 235.47L213.00 235.47L213.50 235.47L214.00 235.47L214.50 235.47L215.00 235.47L215.50 235.47L216.00 235.47L216.50 235.47L217.00 235.47L217.50 235.47L218.00 235.47L218.50 235.47L219.00 235.47L219.50 235.47L220.00 235.47L220.50 235.46L221.00 235.46L221.50 235.46L222.00 235.46L222.50 235.46L223.00 235.46L223.50 235.46L224.00 235.46L224.50 235.46L225.00 235.46L225.50 235.46L226.00 235.46L226.50 235.46L227.00 235.46L227.50 235.45L228.00 235.45L228.50 235.45L229.00 235.45L229.50 235.45L230.00 235.45L230.50 235.45L231.00 235.45L231.50 235.45L232.00 235.45L232.50 235.44L233.00 235.44L233.50 235.44L234.00 235.44L234.50 235.44L235.00 235.44L235.50 235.44L236.00 235.44L236.50 235.43L237.00 235.43L237.50 235.43L238.00 235.43L238.50 235.43L239.00 235.42L239.50 235.42L240.00 235.42L240.50 235.42L241.00 235.42L241.50 235.41L242.00 235.41L242.50 235.41L243.00 235.40L243.50 235.40L244.00 235.40L244.50 235.39L245.00 235.39L245.50 235.39L246.00 235.38L246.50 235.38L247.00 235.37L247.50 235.37L248.00 235.36L248.50 235.36L249.00 235.35L249.50 235.34L250.00 235.34L250.50 235.33L251.00 235.32L251.50 235.31L252.00 235.30L252.50 235.29L253.00 235.28L253.50 235.27L254.00 235.25L254.50 235.24L255.00 235.22L255.50 235.20L256.00 235.18L256.50 235.16L257.00 235.13L257.50 235.10L258.00 235.06L258.50 235.02L259.00 234.95L259.50 234.86L260.00 234.71L260.50 234.47L261.00 234.06L261.50 233.40L262.00 232.36L262.50 230.81L263.00 228.62L263.50 225.69L264.00 222.00L264.50 217.63L265.00 212.80L265.50 207.79L266.00 202.98L266.50 198.74L267.00 195.41L267.50 193.24L268.00 192.30L268.50 192.29L269.00 192.75L269.50 193.71L270.00 195.19L270.50 197.15L271.00 199.55L271.50 202.30L272.00 205.31L272.50 208.48L273.00 211.71L273.50 214.90L274.00 217.95L274.50 220.81L275.00 223.39L275.50 225.68L276.00 227.65L276.50 229.30L277.00 230.66L277.50 231.74L278.00 232.59L278.50 233.24L279.00 233.73L279.50 234.08L280.00 234.34L280.50 234.53L281.00 234.66L281.50 234.75L282.00 234.82L282.50 234.87L283.00 234.91L283.50 234.94L284.00 234.96L284.50 234.98L285.00 235.00L285.50 235.01L286.00 235.02L286.50 235.03L287.00 235.04L287.50 235.05L288.00 235.06L288.50 235.06L289.00 235.06L289.50 235.07L290.00 235.07L290.50 235.07L291.00 235.07L291.50 235.06L292.00 235.06L292.50 235.06L293.00 235.05L293.50 235.05L294.00 235.04L294.50 235.03L295.00 235.02L295.50 235.01L296.00 234.99L296.50 234.98L297.00 234.96L297.50 234.94L298.00 234.92L298.50 234.90L299.00 234.87L299.50 234.84L300.00 234.81L300.50 234.78L301.00 234.73L301.50 234.69L302.00 234.63L302.50 234.56L303.00 234.47L303.50 234.34L304.00 234.16L304.50 233.90L305.00 233.51L305.50 232.93L306.00 232.09L306.50 230.88L307.00 229.21L307.50 226.95L308.00 224.00L308.50 220.27L309.00 215.71L309.50 210.33L310.00 204.22L310.50 197.54L311.00 190.50L311.50 183.38L312.00 176.50L312.50 170.17L313.00 164.68L313.50 160.30L314.00 157.19L314.50 155.44L315.00 154.94L315.50 155.34L316.00 156.76L316.50 159.28L317.00 162.88L317.50 167.44L318.00 172.80L318.50 178.76L319.00 185.08L319.50 191.53L320.00 197.88L320.50 203.93L321.00 209.52L321.50 214.52L322.00 218.86L322.50 222.52L323.00 225.52L323.50 227.91L324.00 229.77L324.50 231.17L325.00 232.21L325.50 232.96L326.00 233.49L326.50 233.87L327.00 234.13L327.50 234.32L328.00 234.45L328.50 234.55L329.00 234.63L329.50 234.69L330.00 234.74L330.50 234.78L331.00 234.82L331.50 234.85L332.00 234.89L332.50 234.91L333.00 234.94L333.50 234.96L334.00 234.98L334.50 235.00L335.00 235.02L335.50 235.03L336.00 235.05L336.50 235.06L337.00 235.07L337.50 235.08L338.00 235.08L338.50 235.09L339.00 235.09L339.50 235.09L340.00 235.07L340.50 235.04L341.00 234.98L341.50 234.85L342.00 234.62L342.50 234.22L343.00 233.60L343.50 232.72L344.00 231.58L344.50 230.22L345.00 228.76L345.50 227.35L346.00 226.15L346.50 225.30L347.00 224.87L347.50 224.82L348.00 224.87L348.50 224.96L349.00 225.12L349.50 225.34L350.00 225.62L350.50 225.95L351.00 226.34L351.50 226.77L352.00 227.24L352.50 227.74L353.00 228.26L353.50 228.80L354.00 229.35L354.50 229.90L355.00 230.43L355.50 230.95L356.00 231.45L356.50 231.92L357.00 232.36L357.50 232.76L358.00 233.13L358.50 233.46L359.00 233.75L359.50 234.01L360.00 234.23L360.50 234.42L361.00 234.59L361.50 234.72L362.00 234.84L362.50 234.93L363.00 235.00L363.50 235.07L364.00 235.11L364.50 235.15L365.00 235.18L365.50 235.21L366.00 235.23L366.50 235.24L367.00 235.25L367.50 235.26L368.00 235.27L368.50 235.27L369.00 235.28L369.50 235.28L370.00 235.28L370.50 235.28L371.00 235.27L371.50 235.26L372.00 235.24L372.50 235.21L373.00 235.13L373.50 235.00L374.00 234.76L374.50 234.39L375.00 233.83L375.50 233.09L376.00 232.17L376.50 231.14L377.00 230.11L377.50 229.17L378.00 228.45L378.50 228.02L379.00 227.90L379.50 227.97L380.00 228.21L380.50 228.62L381.00 229.19L381.50 229.88L382.00 230.64L382.50 231.43L383.00 232.20L383.50 232.91L384.00 233.52L384.50 234.03L385.00 234.43L385.50 234.73L386.00 234.95L386.50 235.10L387.00 235.19L387.50 235.26L388.00 235.30L388.50 235.32L389.00 235.34L389.50 235.35L390.00 235.36L390.50 235.37L391.00 235.38L391.50 235.38L392.00 235.39L392.50 235.39L393.00 235.40L393.50 235.40L394.00 235.40L394.50 235.41L395.00 235.41L395.50 235.41L396.00 235.41L396.50 235.42L397.00 235.42L397.50 235.42L398.00 235.42L398.50 235.43L399.00 235.43L399.50 235.43L400.00 235.43L400.50 235.43L401.00 235.43L401.50 235.44L402.00 235.44L402.50 235.44L403.00 235.44L403.50 235.44L404.00 235.44" fill="none" stroke="#c52af5" stroke-width="1.9" stroke-linejoin="round" stroke-linecap="round" />
<path d="M148.00 288.99L148.50 288.99L149.00 288.99L149.50 288.99L150.00 288.99L150.50 288.99L151.00 288.99L151.50 288.99L152.00 288.99L152.50 288.99L153.00 288.99L153.50 288.99L154.00 288.99L154.50 288.99L155.00 288.99L155.50 288.99L156.00 288.99L156.50 288.99L157.00 288.99L157.50 288.99L158.00 288.99L158.50 288.99L159.00 288.99L159.50 288.99L160.00 288.99L160.50 288.99L161.00 288.99L161.50 288.99L162.00 288.99L162.50 288.99L163.00 288.99L163.50 288.99L164.00 288.99L164.50 288.99L165.00 288.99L165.50 288.99L166.00 288.99L166.50 288.99L167.00 288.99L167.50 288.99L168.00 288.99L168.50 288.99L169.00 288.99L169.50 288.99L170.00 288.99L170.50 288.99L171.00 288.99L171.50 288.99L172.00 288.99L172.50 288.99L173.00 288.99L173.50 288.99L174.00 288.99L174.50 288.99L175.00 288.99L175.50 288.99L176.00 288.99L176.50 288.99L177.00 288.99L177.50 288.98L178.00 288.98L178.50 288.98L179.00 288.98L179.50 288.98L180.00 288.98L180.50 288.98L181.00 288.98L181.50 288.98L182.00 288.98L182.50 288.98L183.00 288.98L183.50 288.98L184.00 288.98L184.50 288.98L185.00 288.98L185.50 288.98L186.00 288.98L186.50 288.98L187.00 288.98L187.50 288.98L188.00 288.98L188.50 288.98L189.00 288.98L189.50 288.98L190.00 288.98L190.50 288.98L191.00 288.98L191.50 288.98L192.00 288.98L192.50 288.98L193.00 288.97L193.50 288.97L194.00 288.97L194.50 288.97L195.00 288.97L195.50 288.97L196.00 288.97L196.50 288.97L197.00 288.97L197.50 288.97L198.00 288.97L198.50 288.97L199.00 288.97L199.50 288.97L200.00 288.97L200.50 288.97L201.00 288.96L201.50 288.96L202.00 288.96L202.50 288.96L203.00 288.96L203.50 288.96L204.00 288.96L204.50 288.96L205.00 288.96L205.50 288.95L206.00 288.95L206.50 288.95L207.00 288.95L207.50 288.95L208.00 288.95L208.50 288.94L209.00 288.94L209.50 288.94L210.00 288.94L210.50 288.93L211.00 288.93L211.50 288.93L212.00 288.93L212.50 288.92L213.00 288.92L213.50 288.92L214.00 288.91L214.50 288.91L215.00 288.90L215.50 288.90L216.00 288.89L216.50 288.88L217.00 288.88L217.50 288.87L218.00 288.86L218.50 288.85L219.00 288.84L219.50 288.83L220.00 288.81L220.50 288.80L221.00 288.77L221.50 288.74L222.00 288.70L222.50 288.62L223.00 288.50L223.50 288.30L224.00 287.98L224.50 287.49L225.00 286.78L225.50 285.79L226.00 284.50L226.50 282.90L227.00 281.03L227.50 278.97L228.00 276.84L228.50 274.79L229.00 272.97L229.50 271.51L230.00 270.52L230.50 270.03L231.00 269.98L231.50 270.11L232.00 270.42L232.50 270.93L233.00 271.62L233.50 272.49L234.00 273.51L234.50 274.65L235.00 275.87L235.50 277.16L236.00 278.46L236.50 279.75L237.00 281.00L237.50 282.18L238.00 283.26L238.50 284.23L239.00 285.09L239.50 285.83L240.00 286.46L240.50 286.98L241.00 287.40L241.50 287.73L242.00 287.99L242.50 288.19L243.00 288.35L243.50 288.46L244.00 288.54L244.50 288.60L245.00 288.65L245.50 288.68L246.00 288.70L246.50 288.72L247.00 288.74L247.50 288.75L248.00 288.76L248.50 288.76L249.00 288.77L249.50 288.78L250.00 288.78L250.50 288.79L251.00 288.79L251.50 288.79L252.00 288.80L252.50 288.80L253.00 288.80L253.50 288.80L254.00 288.80L254.50 288.80L255.00 288.80L255.50 288.80L256.00 288.80L256.50 288.80L257.00 288.80L257.50 288.80L258.00 288.79L258.50 288.79L259.00 288.79L259.50 288.78L260.00 288.78L260.50 288.77L261.00 288.77L261.50 288.76L262.00 288.76L262.50 288.75L263.00 288.74L263.50 288.73L264.00 288.72L264.50 288.71L265.00 288.70L265.50 288.69L266.00 288.67L266.50 288.66L267.00 288.64L267.50 288.62L268.00 288.60L268.50 288.57L269.00 288.54L269.50 288.51L270.00 288.47L270.50 288.41L271.00 288.33L271.50 288.21L272.00 288.04L272.50 287.80L273.00 287.45L273.50 286.95L274.00 286.26L274.50 285.32L275.00 284.08L275.50 282.48L276.00 280.50L276.50 278.11L277.00 275.31L277.50 272.16L278.00 268.71L278.50 265.07L279.00 261.37L279.50 257.75L280.00 254.36L280.50 251.35L281.00 248.83L281.50 246.91L282.00 245.65L282.50 245.06L283.00 245.00L283.50 245.35L284.00 246.18L284.50 247.52L285.00 249.35L285.50 251.62L286.00 254.25L286.50 257.17L287.00 260.29L287.50 263.50L288.00 266.71L288.50 269.82L289.00 272.77L289.50 275.48L290.00 277.91L290.50 280.04L291.00 281.86L291.50 283.38L292.00 284.62L292.50 285.61L293.00 286.38L293.50 286.97L294.00 287.41L294.50 287.74L295.00 287.97L295.50 288.15L296.00 288.27L296.50 288.36L297.00 288.43L297.50 288.48L298.00 288.52L298.50 288.55L299.00 288.58L299.50 288.60L300.00 288.62L300.50 288.64L301.00 288.66L301.50 288.67L302.00 288.69L302.50 288.70L303.00 288.71L303.50 288.72L304.00 288.73L304.50 288.74L305.00 288.75L305.50 288.76L306.00 288.77L306.50 288.77L307.00 288.78L307.50 288.78L308.00 288.79L308.50 288.79L309.00 288.79L309.50 288.80L310.00 288.80L310.50 288.80L311.00 288.79L311.50 288.78L312.00 288.76L312.50 288.73L313.00 288.67L313.50 288.56L314.00 288.40L314.50 288.17L315.00 287.85L315.50 287.44L316.00 286.94L316.50 286.39L317.00 285.82L317.50 285.27L318.00 284.79L318.50 284.42L319.00 284.19L319.50 284.11L320.00 284.12L320.50 284.14L321.00 284.19L321.50 284.27L322.00 284.37L322.50 284.50L323.00 284.65L323.50 284.82L324.00 285.00L324.50 285.21L325.00 285.43L325.50 285.66L326.00 285.89L326.50 286.13L327.00 286.37L327.50 286.61L328.00 286.83L328.50 287.06L329.00 287.27L329.50 287.47L330.00 287.65L330.50 287.82L331.00 287.97L331.50 288.11L332.00 288.23L332.50 288.34L333.00 288.44L333.50 288.52L334.00 288.59L334.50 288.65L335.00 288.69L335.50 288.73L336.00 288.77L336.50 288.80L337.00 288.82L337.50 288.84L338.00 288.85L338.50 288.86L339.00 288.87L339.50 288.88L340.00 288.88L340.50 288.89L341.00 288.89L341.50 288.90L342.00 288.90L342.50 288.90L343.00 288.90L343.50 288.90L344.00 288.90L344.50 288.90L345.00 288.90L345.50 288.90L346.00 288.89L346.50 288.89L347.00 288.87L347.50 288.84L348.00 288.80L348.50 288.71L349.00 288.59L349.50 288.40L350.00 288.15L350.50 287.84L351.00 287.47L351.50 287.09L352.00 286.71L352.50 286.39L353.00 286.14L353.50 285.99L354.00 285.95L354.50 285.98L355.00 286.05L355.50 286.19L356.00 286.39L356.50 286.62L357.00 286.89L357.50 287.18L358.00 287.47L358.50 287.74L359.00 287.99L359.50 288.22L360.00 288.40L360.50 288.55L361.00 288.67L361.50 288.75L362.00 288.81L362.50 288.86L363.00 288.89L363.50 288.90L364.00 288.92L364.50 288.93L365.00 288.93L365.50 288.94L366.00 288.94L366.50 288.94L367.00 288.95L367.50 288.95L368.00 288.95L368.50 288.95L369.00 288.95L369.50 288.95L370.00 288.96L370.50 288.96L371.00 288.96L371.50 288.96L372.00 288.96L372.50 288.96L373.00 288.96L373.50 288.96L374.00 288.96L374.50 288.97L375.00 288.97L375.50 288.97L376.00 288.97L376.50 288.97L377.00 288.97L377.50 288.97L378.00 288.97L378.50 288.97L379.00 288.97L379.50 288.97L380.00 288.97L380.50 288.97L381.00 288.97" fill="none" stroke="#ff1414" stroke-width="1.9" stroke-linejoin="round" stroke-linecap="round" />
<line x1="121.30" y1="195.20" x2="121.30" y2="321.70" stroke="#000" stroke-width="2.5" />
<line x1="120.00" y1="320.50" x2="369.00" y2="320.50" stroke="#000" stroke-width="2.5" />
<line x1="368.00" y1="321.00" x2="446.00" y2="142.00" stroke="#000" stroke-width="2.6" />
<path d="M121.3 320.50h-6M121.3 306.80h-3.5M121.3 293.15h-6M121.3 279.45h-3.5M121.3 265.80h-6M121.3 252.10h-3.5M121.3 238.45h-6M121.3 224.75h-3.5M121.3 211.10h-6M121.3 196.3h-6M121.30 320.5v6M146.00 320.5v3.5M170.65 320.5v6M195.35 320.5v3.5M220.00 320.5v6M244.70 320.5v3.5M269.35 320.5v6M294.05 320.5v3.5M318.70 320.5v6M343.40 320.5v3.5M368.05 320.5v6" stroke="#000" stroke-width="2" fill="none"/>
<path d="M380.00 289.30h7.5M403.00 236.50h7.5M421.70 193.50h7.0M437.20 158.00h6.5M393.20 262.50h4.2M414.00 214.70h4.2M431.20 175.50h4.2" stroke="#000" stroke-width="1.8" fill="none"/>
<text x="113.50" y="327.20" font-size="19.0" font-weight="bold" text-anchor="end" fill="#000" >0.0</text>
<text x="106.30" y="299.40" font-size="19.0" font-weight="bold" text-anchor="end" fill="#000" >4.0x10</text><text x="107.00" y="293.40" font-size="12.8" font-weight="bold" text-anchor="start" fill="#000" >6</text>
<text x="106.30" y="272.00" font-size="19.0" font-weight="bold" text-anchor="end" fill="#000" >8.0x10</text><text x="107.00" y="266.00" font-size="12.8" font-weight="bold" text-anchor="start" fill="#000" >6</text>
<text x="106.30" y="244.70" font-size="19.0" font-weight="bold" text-anchor="end" fill="#000" >1.2x10</text><text x="107.00" y="238.70" font-size="12.8" font-weight="bold" text-anchor="start" fill="#000" >7</text>
<text x="106.30" y="217.40" font-size="19.0" font-weight="bold" text-anchor="end" fill="#000" >1.6x10</text><text x="107.00" y="211.40" font-size="12.8" font-weight="bold" text-anchor="start" fill="#000" >7</text>
<text x="121.50" y="345.50" font-size="19.2" font-weight="bold" text-anchor="middle" fill="#000" >400</text>
<text x="170.85" y="345.50" font-size="19.2" font-weight="bold" text-anchor="middle" fill="#000" >450</text>
<text x="220.20" y="345.50" font-size="19.2" font-weight="bold" text-anchor="middle" fill="#000" >500</text>
<text x="269.55" y="345.50" font-size="19.2" font-weight="bold" text-anchor="middle" fill="#000" >550</text>
<text x="318.90" y="345.50" font-size="19.2" font-weight="bold" text-anchor="middle" fill="#000" >600</text>
<text x="368.25" y="345.50" font-size="19.2" font-weight="bold" text-anchor="middle" fill="#000" >650</text>
<text x="245.00" y="377.50" font-size="19.65" font-weight="bold" text-anchor="middle" fill="#000" >Wavelength (nm)</text>
<text transform="translate(47.0 258.7) rotate(-90)" font-size="19.2" font-weight="bold" text-anchor="middle">Intensity (CPS)</text>
<text x="389.50" y="295.60" font-size="17.8" font-weight="bold" text-anchor="start" fill="#000" >Tb-HOF-1</text>
<text x="411.30" y="242.60" font-size="16.2" font-weight="bold" text-anchor="start" fill="#000" >Tb-HOF-2</text>
<text x="429.30" y="198.80" font-size="14.9" font-weight="bold" text-anchor="start" fill="#000" >Tb-HOF-3</text>
<text x="443.30" y="163.50" font-size="14.1" font-weight="bold" text-anchor="start" fill="#000" >Tb-HOF-4</text>
<text x="32.00" y="46.60" font-size="36.3" font-weight="bold" text-anchor="start" fill="#3a3a3a" >(a)</text>
<g clip-path="url(#clipc)"><path d="M704.20 260.60C704.85 260.12 706.50 259.88 708.10 257.70C709.70 255.52 711.92 250.88 713.80 247.50C715.68 244.12 717.53 240.40 719.40 237.40C721.27 234.40 722.73 233.47 725.00 229.50C727.27 225.53 730.75 217.78 733.00 213.60C735.25 209.42 736.87 206.63 738.50 204.40C740.13 202.17 741.55 201.77 742.80 200.20C744.05 198.63 744.97 196.85 746.00 195.00C747.03 193.15 747.83 191.02 749.00 189.10C750.17 187.18 751.67 184.98 753.00 183.50C754.33 182.02 755.73 180.65 757.00 180.20C758.27 179.75 759.43 180.08 760.60 180.80C761.77 181.52 762.87 183.12 764.00 184.50C765.13 185.88 766.35 189.10 767.40 189.10C768.45 189.10 769.37 185.75 770.30 184.50C771.23 183.25 771.95 181.43 773.00 181.60C774.05 181.77 775.52 183.27 776.60 185.50C777.68 187.73 778.60 191.97 779.50 195.00C780.40 198.03 781.22 203.03 782.00 203.70C782.78 204.37 783.53 201.95 784.20 199.00C784.87 196.05 785.37 192.00 786.00 186.00C786.63 180.00 787.33 169.00 788.00 163.00C788.67 157.00 789.40 152.83 790.00 150.00C790.60 147.17 791.07 146.08 791.60 146.00C792.13 145.92 792.63 147.17 793.20 149.50C793.77 151.83 794.37 155.42 795.00 160.00C795.63 164.58 796.33 171.33 797.00 177.00C797.67 182.67 798.33 188.83 799.00 194.00C799.67 199.17 800.33 204.42 801.00 208.00C801.67 211.58 802.25 213.75 803.00 215.50C803.75 217.25 804.33 217.63 805.50 218.50C806.67 219.37 808.58 219.95 810.00 220.70C811.42 221.45 812.67 222.28 814.00 223.00C815.33 223.72 816.67 224.27 818.00 225.00C819.33 225.73 821.00 226.40 822.00 227.40C823.00 228.40 823.37 229.30 824.00 231.00C824.63 232.70 825.25 237.77 825.80 237.60C826.35 237.43 826.83 235.43 827.30 230.00C827.77 224.57 828.12 215.00 828.60 205.00C829.08 195.00 829.65 181.57 830.20 170.00C830.75 158.43 831.35 147.60 831.90 135.60C832.45 123.60 832.95 108.38 833.50 98.00C834.05 87.62 834.63 73.80 835.20 73.30C835.77 72.80 836.33 85.55 836.90 95.00C837.47 104.45 838.03 117.50 838.60 130.00C839.17 142.50 839.73 158.33 840.30 170.00C840.87 181.67 841.42 191.83 842.00 200.00C842.58 208.17 843.22 214.42 843.80 219.00C844.38 223.58 845.00 225.78 845.50 227.50C846.00 229.22 846.30 229.47 846.80 229.30C847.30 229.13 847.87 227.55 848.50 226.50C849.13 225.45 849.65 224.12 850.60 223.00C851.55 221.88 853.22 220.22 854.20 219.80C855.18 219.38 855.77 220.13 856.50 220.50C857.23 220.87 857.88 222.58 858.60 222.00C859.32 221.42 860.07 218.92 860.80 217.00C861.53 215.08 862.22 212.67 863.00 210.50C863.78 208.33 864.63 205.85 865.50 204.00C866.37 202.15 867.28 199.87 868.20 199.40C869.12 198.93 869.95 200.55 871.00 201.20C872.05 201.85 873.42 203.42 874.50 203.30C875.58 203.18 876.35 201.67 877.50 200.50C878.65 199.33 880.15 198.22 881.40 196.30C882.65 194.38 883.82 191.98 885.00 189.00C886.18 186.02 887.50 182.40 888.50 178.40C889.50 174.40 890.10 169.75 891.00 165.00C891.90 160.25 893.07 153.60 893.90 149.90C894.73 146.20 895.27 144.43 896.00 142.80C896.73 141.17 897.55 140.23 898.30 140.10C899.05 139.97 899.75 141.25 900.50 142.00C901.25 142.75 901.88 144.68 902.80 144.60C903.72 144.52 904.82 142.70 906.00 141.50C907.18 140.30 908.65 139.07 909.90 137.40C911.15 135.73 912.32 133.13 913.50 131.50C914.68 129.87 916.00 128.23 917.00 127.60C918.00 126.97 918.75 127.40 919.50 127.70C920.25 128.00 920.67 128.18 921.50 129.40C922.33 130.62 923.47 132.77 924.50 135.00C925.53 137.23 925.97 138.53 927.70 142.80C929.43 147.07 932.22 153.77 934.90 160.60C937.58 167.43 940.83 175.78 943.80 183.80C946.77 191.82 950.33 202.75 952.70 208.70C955.07 214.65 956.22 216.23 958.00 219.50C959.78 222.77 961.48 225.67 963.40 228.30C965.32 230.93 967.42 233.22 969.50 235.30C971.58 237.38 973.82 239.18 975.90 240.80C977.98 242.42 979.93 243.67 982.00 245.00C984.07 246.33 986.13 247.58 988.30 248.80C990.47 250.02 992.62 251.25 995.00 252.30C997.38 253.35 999.77 254.27 1002.60 255.10C1005.43 255.93 1008.77 256.72 1012.00 257.30C1015.23 257.88 1018.67 258.25 1022.00 258.60C1025.33 258.95 1029.17 259.22 1032.00 259.40C1034.83 259.58 1037.83 259.65 1039.00 259.70" fill="none" stroke="#484848" stroke-width="2.5" stroke-linejoin="round" stroke-linecap="round"/><path d="M704.20 260.63C704.92 260.17 706.28 260.21 708.50 257.85C710.72 255.49 714.75 249.61 717.50 246.48C720.25 243.35 722.57 241.40 725.00 239.06C727.43 236.72 729.13 234.74 732.10 232.44C735.07 230.14 739.82 227.09 742.80 225.25C745.78 223.42 747.63 222.56 750.00 221.42C752.37 220.28 755.08 218.64 757.00 218.41C758.92 218.18 760.25 219.37 761.50 220.03C762.75 220.69 763.52 221.66 764.50 222.35C765.48 223.05 766.43 224.32 767.40 224.21C768.37 224.09 769.35 222.35 770.30 221.66C771.25 220.96 772.05 219.95 773.10 220.03C774.15 220.11 775.53 220.98 776.60 222.12C777.67 223.26 778.60 225.34 779.50 226.87C780.40 228.40 781.22 231.10 782.00 231.30C782.78 231.51 783.47 229.74 784.20 228.10C784.93 226.46 785.63 223.73 786.40 221.45C787.17 219.18 788.05 216.05 788.80 214.47C789.55 212.88 790.20 211.89 790.90 211.95C791.60 212.01 792.40 213.53 793.00 214.82C793.60 216.10 793.83 217.21 794.50 219.68C795.17 222.14 796.12 226.45 797.00 229.61C797.88 232.76 798.88 236.21 799.80 238.61C800.72 241.01 801.60 242.90 802.50 243.99C803.40 245.09 803.27 244.55 805.20 245.20C807.13 245.85 811.28 247.15 814.10 247.90C816.92 248.65 820.45 249.22 822.10 249.70C823.75 250.18 823.42 250.27 824.00 250.79C824.58 251.32 825.07 253.03 825.60 252.86C826.13 252.69 826.70 251.46 827.20 249.78C827.70 248.10 828.08 246.13 828.60 242.78C829.12 239.43 829.75 234.14 830.30 229.69C830.85 225.24 831.32 220.62 831.90 216.06C832.48 211.50 833.18 205.52 833.80 202.31C834.42 199.10 834.98 196.85 835.60 196.80C836.22 196.75 836.85 198.72 837.50 202.00C838.15 205.28 838.83 211.24 839.50 216.47C840.17 221.71 840.83 228.81 841.50 233.41C842.17 238.01 842.92 241.56 843.50 244.06C844.08 246.56 844.50 247.33 845.00 248.42C845.50 249.51 845.92 250.32 846.50 250.59C847.08 250.85 847.82 250.21 848.50 250.00C849.18 249.78 849.65 249.65 850.60 249.30C851.55 248.95 852.87 247.98 854.20 247.90C855.53 247.82 857.12 249.48 858.60 248.80C860.08 248.12 861.87 245.10 863.10 243.80C864.33 242.50 865.03 241.73 866.00 241.00C866.97 240.27 867.73 239.80 868.90 239.40C870.07 239.00 871.67 238.82 873.00 238.60C874.33 238.38 875.73 238.57 876.90 238.10C878.07 237.63 878.95 236.83 880.00 235.80C881.05 234.77 882.20 233.37 883.20 231.90C884.20 230.43 885.12 228.78 886.00 227.00C886.88 225.22 887.50 224.20 888.50 221.20C889.50 218.20 890.80 213.15 892.00 209.00C893.20 204.85 894.37 200.13 895.70 196.30C897.03 192.47 898.52 189.28 900.00 186.00C901.48 182.72 903.27 179.93 904.60 176.60C905.93 173.27 906.82 169.85 908.00 166.00C909.18 162.15 910.53 157.92 911.70 153.50C912.87 149.08 913.82 143.97 915.00 139.50C916.18 135.03 917.55 130.12 918.80 126.70C920.05 123.28 921.30 120.63 922.50 119.00C923.70 117.37 924.83 116.65 926.00 116.90C927.17 117.15 928.32 118.87 929.50 120.50C930.68 122.13 931.32 122.68 933.10 126.70C934.88 130.72 937.53 136.57 940.20 144.60C942.87 152.63 945.83 164.80 949.10 174.90C952.37 185.00 957.15 198.35 959.80 205.20C962.45 212.05 963.22 212.73 965.00 216.00C966.78 219.27 968.42 221.85 970.50 224.80C972.58 227.75 975.12 231.03 977.50 233.70C979.88 236.37 982.22 238.62 984.80 240.80C987.38 242.98 990.03 245.02 993.00 246.80C995.97 248.58 999.60 250.20 1002.60 251.50C1005.60 252.80 1008.03 253.70 1011.00 254.60C1013.97 255.50 1017.40 256.33 1020.40 256.90C1023.40 257.47 1025.90 257.70 1029.00 258.00C1032.10 258.30 1037.33 258.58 1039.00 258.70" fill="none" stroke="#f23c3c" stroke-width="2.5" stroke-linejoin="round" stroke-linecap="round"/><path d="M704.20 260.61C704.92 260.19 706.28 260.22 708.50 258.07C710.72 255.91 714.75 250.54 717.50 247.68C720.25 244.82 722.57 243.03 725.00 240.90C727.43 238.76 729.13 236.96 732.10 234.85C735.07 232.75 739.82 229.96 742.80 228.28C745.78 226.60 747.63 225.83 750.00 224.78C752.37 223.74 755.08 222.24 757.00 222.03C758.92 221.82 760.25 222.91 761.50 223.51C762.75 224.11 763.52 225.00 764.50 225.63C765.48 226.27 766.43 227.43 767.40 227.33C768.37 227.22 769.35 225.63 770.30 225.00C771.25 224.36 772.05 223.44 773.10 223.51C774.15 223.58 775.53 224.38 776.60 225.42C777.67 226.46 778.60 228.36 779.50 229.76C780.40 231.17 781.22 233.63 782.00 233.87C782.78 234.10 783.47 232.53 784.20 231.18C784.93 229.83 785.63 227.55 786.40 225.78C787.17 224.00 788.05 221.70 788.80 220.53C789.55 219.35 790.20 218.68 790.90 218.73C791.60 218.78 792.40 219.87 793.00 220.84C793.60 221.82 793.83 222.60 794.50 224.57C795.17 226.54 796.12 230.02 797.00 232.69C797.88 235.35 798.88 238.66 799.80 240.54C800.72 242.43 801.60 243.22 802.50 244.00C803.40 244.77 803.27 244.55 805.20 245.20C807.13 245.85 811.28 247.15 814.10 247.90C816.92 248.65 820.45 249.22 822.10 249.70C823.75 250.18 823.42 250.27 824.00 250.80C824.58 251.33 825.07 253.03 825.60 252.89C826.13 252.75 826.70 251.54 827.20 249.94C827.70 248.34 828.08 246.40 828.60 243.30C829.12 240.21 829.75 235.29 830.30 231.37C830.85 227.45 831.32 223.53 831.90 219.80C832.48 216.07 833.18 211.49 833.80 208.99C834.42 206.49 834.98 204.87 835.60 204.80C836.22 204.73 836.85 206.03 837.50 208.55C838.15 211.06 838.83 215.57 839.50 219.91C840.17 224.25 840.83 230.50 841.50 234.57C842.17 238.63 842.92 241.99 843.50 244.31C844.08 246.62 844.50 247.43 845.00 248.48C845.50 249.53 845.92 250.34 846.50 250.60C847.08 250.85 847.82 250.22 848.50 250.00C849.18 249.78 849.65 249.65 850.60 249.30C851.55 248.95 852.87 247.98 854.20 247.90C855.53 247.82 857.12 249.12 858.60 248.80C860.08 248.48 861.38 246.88 863.10 246.00C864.82 245.12 867.33 243.95 868.90 243.50C870.47 243.05 871.17 243.30 872.50 243.30C873.83 243.30 875.32 243.88 876.90 243.50C878.48 243.12 880.37 242.05 882.00 241.00C883.63 239.95 885.20 239.53 886.70 237.20C888.20 234.87 889.50 230.85 891.00 227.00C892.50 223.15 894.28 217.43 895.70 214.10C897.12 210.77 898.17 209.08 899.50 207.00C900.83 204.92 902.37 204.18 903.70 201.60C905.03 199.02 906.17 195.37 907.50 191.50C908.83 187.63 910.45 182.82 911.70 178.40C912.95 173.98 913.82 169.15 915.00 165.00C916.18 160.85 917.47 156.92 918.80 153.50C920.13 150.08 921.80 146.58 923.00 144.50C924.20 142.42 925.07 141.82 926.00 141.00C926.93 140.18 927.68 139.63 928.60 139.60C929.52 139.57 930.45 139.97 931.50 140.80C932.55 141.63 933.15 141.00 934.90 144.60C936.65 148.20 939.03 154.08 942.00 162.40C944.97 170.72 950.03 187.07 952.70 194.50C955.37 201.93 956.22 203.15 958.00 207.00C959.78 210.85 961.65 214.43 963.40 217.60C965.15 220.77 966.72 223.47 968.50 226.00C970.28 228.53 972.02 230.47 974.10 232.80C976.18 235.13 978.63 237.92 981.00 240.00C983.37 242.08 985.97 243.75 988.30 245.30C990.63 246.85 992.62 248.12 995.00 249.30C997.38 250.48 999.93 251.43 1002.60 252.40C1005.27 253.37 1008.03 254.33 1011.00 255.10C1013.97 255.87 1017.40 256.48 1020.40 257.00C1023.40 257.52 1025.90 257.90 1029.00 258.20C1032.10 258.50 1037.33 258.70 1039.00 258.80" fill="none" stroke="#1a6fdf" stroke-width="2.5" stroke-linejoin="round" stroke-linecap="round"/><path d="M704.20 260.60C704.92 260.20 706.28 260.23 708.50 258.20C710.72 256.17 714.75 251.10 717.50 248.40C720.25 245.70 722.57 244.02 725.00 242.00C727.43 239.98 729.13 238.28 732.10 236.30C735.07 234.32 739.82 231.68 742.80 230.10C745.78 228.52 747.63 227.78 750.00 226.80C752.37 225.82 755.08 224.40 757.00 224.20C758.92 224.00 760.25 225.03 761.50 225.60C762.75 226.17 763.52 227.00 764.50 227.60C765.48 228.20 766.43 229.30 767.40 229.20C768.37 229.10 769.35 227.60 770.30 227.00C771.25 226.40 772.05 225.53 773.10 225.60C774.15 225.67 775.53 226.42 776.60 227.40C777.67 228.38 778.60 230.17 779.50 231.50C780.40 232.83 781.22 235.15 782.00 235.40C782.78 235.65 783.47 234.18 784.20 233.00C784.93 231.82 785.63 229.80 786.40 228.30C787.17 226.80 788.05 224.95 788.80 224.00C789.55 223.05 790.20 222.55 790.90 222.60C791.60 222.65 792.40 223.50 793.00 224.30C793.60 225.10 793.83 225.70 794.50 227.40C795.17 229.10 796.12 232.12 797.00 234.50C797.88 236.88 798.88 240.12 799.80 241.70C800.72 243.28 801.60 243.42 802.50 244.00C803.40 244.58 803.27 244.55 805.20 245.20C807.13 245.85 811.28 247.15 814.10 247.90C816.92 248.65 820.45 249.22 822.10 249.70C823.75 250.18 823.42 250.27 824.00 250.80C824.58 251.33 825.07 253.03 825.60 252.90C826.13 252.77 826.70 251.57 827.20 250.00C827.70 248.43 828.08 246.50 828.60 243.50C829.12 240.50 829.75 235.72 830.30 232.00C830.85 228.28 831.32 224.62 831.90 221.20C832.48 217.78 833.18 213.73 833.80 211.50C834.42 209.27 834.98 207.88 835.60 207.80C836.22 207.72 836.85 208.77 837.50 211.00C838.15 213.23 838.83 217.20 839.50 221.20C840.17 225.20 840.83 231.13 841.50 235.00C842.17 238.87 842.92 242.15 843.50 244.40C844.08 246.65 844.50 247.47 845.00 248.50C845.50 249.53 845.92 250.35 846.50 250.60C847.08 250.85 847.82 250.22 848.50 250.00C849.18 249.78 849.65 249.65 850.60 249.30C851.55 248.95 852.87 247.98 854.20 247.90C855.53 247.82 857.12 249.07 858.60 248.80C860.08 248.53 861.38 247.07 863.10 246.30C864.82 245.53 867.33 244.53 868.90 244.20C870.47 243.87 871.17 244.23 872.50 244.30C873.83 244.37 875.32 244.95 876.90 244.60C878.48 244.25 880.37 243.28 882.00 242.20C883.63 241.12 885.20 240.13 886.70 238.10C888.20 236.07 889.50 232.82 891.00 230.00C892.50 227.18 894.28 223.28 895.70 221.20C897.12 219.12 898.32 218.38 899.50 217.50C900.68 216.62 901.80 216.65 902.80 215.90C903.80 215.15 904.62 214.20 905.50 213.00C906.38 211.80 906.85 211.37 908.10 208.70C909.35 206.03 911.22 201.15 913.00 197.00C914.78 192.85 917.05 187.13 918.80 183.80C920.55 180.47 922.22 178.67 923.50 177.00C924.78 175.33 925.50 174.52 926.50 173.80C927.50 173.08 928.58 172.62 929.50 172.70C930.42 172.78 931.10 173.35 932.00 174.30C932.90 175.25 932.93 175.33 934.90 178.40C936.87 181.47 941.28 188.35 943.80 192.70C946.32 197.05 947.92 200.35 950.00 204.50C952.08 208.65 954.38 214.02 956.30 217.60C958.22 221.18 959.72 223.47 961.50 226.00C963.28 228.53 964.92 230.38 967.00 232.80C969.08 235.22 971.63 238.27 974.00 240.50C976.37 242.73 978.37 244.37 981.20 246.20C984.03 248.03 987.43 250.02 991.00 251.50C994.57 252.98 999.27 254.20 1002.60 255.10C1005.93 256.00 1008.03 256.42 1011.00 256.90C1013.97 257.38 1017.40 257.72 1020.40 258.00C1023.40 258.28 1025.90 258.43 1029.00 258.60C1032.10 258.77 1037.33 258.93 1039.00 259.00" fill="none" stroke="#37ad6b" stroke-width="2.5" stroke-linejoin="round" stroke-linecap="round"/></g>
<rect x="713.90" y="42.90" width="29.90" height="30.70" fill="#16040e"/><rect x="713.90" y="42.90" width="29.90" height="30.70" fill="url(#tc_0)"/>
<rect x="713.90" y="76.80" width="29.90" height="30.70" fill="#16040e"/><rect x="713.90" y="76.80" width="29.90" height="30.70" fill="url(#tc_1)"/>
<rect x="713.90" y="110.80" width="29.90" height="30.70" fill="#16040e"/><rect x="713.90" y="110.80" width="29.90" height="30.70" fill="url(#tc_2)"/>
<rect x="713.90" y="144.10" width="29.90" height="30.70" fill="#16040e"/><rect x="713.90" y="144.10" width="29.90" height="30.70" fill="url(#tc_3)"/>
<rect x="849.20" y="47.60" width="29.10" height="29.80" fill="#08020e"/><rect x="849.20" y="47.60" width="29.10" height="29.80" fill="url(#tc_4)"/>
<rect x="849.20" y="80.10" width="29.10" height="29.40" fill="#08020e"/><rect x="849.20" y="80.10" width="29.10" height="29.40" fill="url(#tc_5)"/>
<rect x="849.20" y="112.00" width="29.10" height="29.20" fill="#08020e"/><rect x="849.20" y="112.00" width="29.10" height="29.20" fill="url(#tc_6)"/>
<rect x="849.20" y="143.70" width="29.10" height="28.80" fill="#08020e"/><rect x="849.20" y="143.70" width="29.10" height="28.80" fill="url(#tc_7)"/>
<path d="M770.00 68.00L776.25 73.00H773.60V152.50H766.40V73.00H763.75Z" fill="url(#tca0)"/>
<path d="M903.00 70.70L908.50 75.20H906.10V149.50H899.90V75.20H897.50Z" fill="url(#tca1)"/>
<text x="712.30" y="32.20" font-size="18.1" font-weight="bold" text-anchor="start" fill="#4a4a4a" >254 nm</text>
<text x="848.50" y="33.50" font-size="18.1" font-weight="bold" text-anchor="start" fill="#4a4a4a" >365 nm</text>
<text x="756.00" y="59.50" font-size="13.9" font-weight="bold" text-anchor="start" fill="#2a2a2a" >5min</text>
<text x="756.00" y="168.50" font-size="13.9" font-weight="bold" text-anchor="start" fill="#2a2a2a" >0min</text>
<text x="890.00" y="63.50" font-size="13.9" font-weight="bold" text-anchor="start" fill="#2a2a2a" >5min</text>
<text x="890.00" y="167.00" font-size="13.9" font-weight="bold" text-anchor="start" fill="#2a2a2a" >0min</text>
<line x1="948.00" y1="33.30" x2="990.00" y2="33.30" stroke="#484848" stroke-width="3.0" />
<text x="993.50" y="39.50" font-size="17.5" font-weight="bold" text-anchor="start" fill="#000" >0min</text>
<line x1="948.00" y1="55.95" x2="990.00" y2="55.95" stroke="#f23c3c" stroke-width="3.0" />
<text x="993.50" y="62.15" font-size="17.5" font-weight="bold" text-anchor="start" fill="#000" >1min</text>
<line x1="948.00" y1="78.60" x2="990.00" y2="78.60" stroke="#1a6fdf" stroke-width="3.0" />
<text x="993.50" y="84.80" font-size="17.5" font-weight="bold" text-anchor="start" fill="#000" >3min</text>
<line x1="948.00" y1="101.25" x2="990.00" y2="101.25" stroke="#37ad6b" stroke-width="3.0" />
<text x="993.50" y="107.45" font-size="17.5" font-weight="bold" text-anchor="start" fill="#000" >5min</text>
<path d="M719.43 286.90v4.8M799.58 286.90v4.8M879.73 286.90v4.8M959.88 286.90v4.8M1040.03 286.90v4.8M704.10 262.20h-6.3M704.10 212.95h-6.3M704.10 163.70h-6.3M704.10 114.45h-6.3M704.10 65.20h-6.3M704.10 15.95h-6.3" stroke="#000" stroke-width="3.3" fill="none"/>
<path d="M759.50 286.90v2.9M839.65 286.90v2.9M919.80 286.90v2.9M999.95 286.90v2.9M704.10 286.82h-3.2M704.10 237.57h-3.2M704.10 188.32h-3.2M704.10 139.07h-3.2M704.10 89.82h-3.2M704.10 40.57h-3.2" stroke="#000" stroke-width="2.4" fill="none"/>
<rect x="704.10" y="16.10" width="335.90" height="270.80" fill="none" stroke="#000" stroke-width="3.4"/>
<text x="694.10" y="270.60" font-size="23" font-weight="bold" text-anchor="end" fill="#000" >0.0</text>
<text x="686.20" y="221.35" font-size="23" font-weight="bold" text-anchor="end" fill="#000" >5.0x10</text><text x="686.80" y="211.95" font-size="16" font-weight="bold" text-anchor="start" fill="#000" >4</text>
<text x="686.20" y="172.10" font-size="23" font-weight="bold" text-anchor="end" fill="#000" >1.0x10</text><text x="686.80" y="162.70" font-size="16" font-weight="bold" text-anchor="start" fill="#000" >5</text>
<text x="686.20" y="122.85" font-size="23" font-weight="bold" text-anchor="end" fill="#000" >1.5x10</text><text x="686.80" y="113.45" font-size="16" font-weight="bold" text-anchor="start" fill="#000" >5</text>
<text x="686.20" y="73.60" font-size="23" font-weight="bold" text-anchor="end" fill="#000" >2.0x10</text><text x="686.80" y="64.20" font-size="16" font-weight="bold" text-anchor="start" fill="#000" >5</text>
<text x="686.20" y="24.35" font-size="23" font-weight="bold" text-anchor="end" fill="#000" >2.5x10</text><text x="686.80" y="14.95" font-size="16" font-weight="bold" text-anchor="start" fill="#000" >5</text>
<text x="719.83" y="314.20" font-size="22.8" font-weight="bold" text-anchor="middle" fill="#000" >400</text>
<text x="799.98" y="314.20" font-size="22.8" font-weight="bold" text-anchor="middle" fill="#000" >500</text>
<text x="880.13" y="314.20" font-size="22.8" font-weight="bold" text-anchor="middle" fill="#000" >600</text>
<text x="960.28" y="314.20" font-size="22.8" font-weight="bold" text-anchor="middle" fill="#000" >700</text>
<text x="1040.43" y="314.20" font-size="22.8" font-weight="bold" text-anchor="middle" fill="#000" >800</text>
<text x="872.50" y="349.30" font-size="23.2" font-weight="bold" text-anchor="middle" fill="#000" >Wavelength (nm)</text>
<text transform="translate(606.0 143.5) rotate(-90)" font-size="23.1" font-weight="bold" text-anchor="middle">Intensity (CPS)</text>
<text x="540.30" y="46.90" font-size="36.3" font-weight="bold" text-anchor="start" fill="#3a3a3a" >(c)</text>
<g clip-path="url(#clipd)"><path d="M706.00 613.19L706.80 612.98L707.59 612.77L708.39 612.55L709.18 612.33L709.98 612.12L710.77 611.89L711.57 611.67L712.36 611.45L713.16 611.22L713.95 611.00L714.75 610.77L715.54 610.54L716.34 610.30L717.13 610.07L717.93 609.84L718.72 609.60L719.52 609.37L720.31 609.13L721.11 608.89L721.90 608.65L722.70 608.41L723.49 608.17L724.29 607.93L725.08 607.69L725.88 607.45L726.68 607.21L727.47 606.98L728.27 606.74L729.06 606.50L729.86 606.26L730.65 606.02L731.45 605.79L732.24 605.55L733.04 605.32L733.83 605.08L734.63 604.85L735.42 604.62L736.22 604.40L737.01 604.17L737.81 603.95L738.60 603.72L739.40 603.50L740.19 603.29L740.99 603.07L741.78 602.86L742.58 602.65L743.37 602.44L744.17 602.24L744.96 602.03L745.76 601.83L746.56 601.64L747.35 601.44L748.15 601.25L748.94 601.06L749.74 600.88L750.53 600.70L751.33 600.52L752.12 600.34L752.92 600.17L753.71 600.00L754.51 599.83L755.30 599.66L756.10 599.50L756.89 599.34L757.69 599.18L758.48 599.03L759.28 598.87L760.07 598.72L760.87 598.57L761.66 598.42L762.46 598.45L763.25 598.53L764.05 598.66L764.84 598.84L765.64 599.05L766.44 599.28L767.23 599.51L768.03 599.70L768.82 599.82L769.62 599.83L770.41 599.73L771.21 599.51L772.00 599.23L772.80 598.97L773.59 598.82L774.39 598.90L775.18 599.27L775.98 599.91L776.77 600.73L777.57 601.70L778.36 602.76L779.16 603.82L779.95 604.81L780.75 605.64L781.54 606.19L782.34 606.34L783.13 605.92L783.93 604.69L784.72 602.39L785.52 598.73L786.32 593.44L787.11 586.36L787.91 577.51L788.70 567.22L789.50 556.08L790.29 545.03L791.09 535.15L791.88 527.58L792.68 523.25L793.47 522.64L794.27 525.30L795.06 530.81L795.86 538.56L796.65 547.78L797.45 557.63L798.24 567.34L799.04 576.28L799.83 584.03L800.63 590.39L801.42 595.34L802.22 598.99L803.01 601.55L803.81 603.24L804.60 604.30L805.40 604.91L806.20 605.24L806.99 605.40L807.79 605.46L808.58 605.49L809.38 605.51L810.17 605.54L810.97 605.59L811.76 605.66L812.56 605.76L813.35 605.88L814.15 606.02L814.94 606.19L815.74 606.37L816.53 606.58L817.33 606.80L818.12 607.04L818.92 607.29L819.71 607.56L820.51 607.89L821.30 608.37L822.10 609.17L822.89 610.58L823.69 612.85L824.48 615.94L825.28 619.18L826.08 621.16L826.87 620.11L827.67 614.58L828.46 604.00L829.26 588.60L830.05 569.00L830.85 545.74L831.64 519.39L832.44 490.89L833.23 461.95L834.03 435.00L834.82 412.93L835.62 398.42L836.41 393.41L837.21 398.18L838.00 411.73L838.80 432.38L839.59 457.75L840.39 485.17L841.18 512.15L841.98 536.72L842.77 557.63L843.57 574.33L844.36 586.87L845.16 595.71L845.96 601.50L846.75 604.95L847.55 606.70L848.34 607.29L849.14 607.16L849.93 606.64L850.73 606.01L851.52 605.45L852.32 605.10L853.11 605.05L853.91 605.37L854.70 606.00L855.50 606.79L856.29 607.60L857.09 608.27L857.88 608.66L858.68 608.68L859.47 608.28L860.27 607.41L861.06 606.03L861.86 604.14L862.65 601.74L863.45 598.89L864.24 595.69L865.04 592.30L865.84 588.94L866.63 585.88L867.43 583.36L868.22 581.62L869.02 580.80L869.81 580.87L870.61 581.69L871.40 583.17L872.20 585.17L872.99 587.49L873.79 589.97L874.58 592.42L875.38 594.70L876.17 596.72L876.97 598.41L877.76 599.76L878.56 600.78L879.35 601.50L880.15 601.97L880.94 602.23L881.74 602.34L882.53 602.32L883.33 602.20L884.12 601.99L884.92 601.69L885.72 601.28L886.51 600.72L887.31 599.96L888.10 598.95L888.90 597.62L889.69 595.91L890.49 593.80L891.28 591.27L892.08 588.37L892.87 585.23L893.67 581.99L894.46 578.88L895.26 576.12L896.05 573.94L896.85 572.49L897.64 571.93L898.44 572.60L899.23 574.34L900.03 576.78L900.82 579.49L901.62 582.08L902.41 584.25L903.21 585.85L904.00 586.84L904.80 587.29L905.60 587.30L906.39 587.00L907.19 586.50L907.98 585.89L908.78 585.22L909.57 584.54L910.37 583.88L911.16 583.24L911.96 582.64L912.75 582.09L913.55 581.60L914.34 581.16L915.14 580.79L915.93 580.49L916.73 580.26L917.52 580.11L918.32 580.03L919.11 580.03L919.91 580.07L920.70 580.15L921.50 580.26L922.29 580.41L923.09 580.59L923.88 580.81L924.68 581.06L925.48 581.34L926.27 581.66L927.07 582.00L927.86 582.37L928.66 582.77L929.45 583.19L930.25 583.64L931.04 584.11L931.84 584.59L932.63 585.10L933.43 585.62L934.22 586.15L935.02 586.70L935.81 587.25L936.61 587.82L937.40 588.40L938.20 588.98L938.99 589.56L939.79 590.15L940.58 590.75L941.38 591.34L942.17 591.93L942.97 592.52L943.76 593.12L944.56 593.70L945.36 594.28L946.15 594.86L946.95 595.43L947.74 596.00L948.54 596.56L949.33 597.11L950.13 597.65L950.92 598.18L951.72 598.70L952.51 599.21L953.31 599.71L954.10 600.20L954.90 600.68L955.69 601.15L956.49 601.61L957.28 602.05L958.08 602.48L958.87 602.90L959.67 603.31L960.46 603.70L961.26 604.08L962.05 604.45L962.85 604.81L963.64 605.16L964.44 605.49L965.24 605.81L966.03 606.12L966.83 606.42L967.62 606.70L968.42 606.98L969.21 607.24L970.01 607.49L970.80 607.73L971.60 607.97L972.39 608.19L973.19 608.40L973.98 608.60L974.78 608.80L975.57 608.98L976.37 609.15L977.16 609.32L977.96 609.48L978.75 609.63L979.55 609.78L980.34 609.91L981.14 610.05L981.93 610.17L982.73 610.29L983.52 610.40L984.32 610.50L985.12 610.60L985.91 610.70L986.71 610.79L987.50 610.88L988.30 610.96L989.09 611.03L989.89 611.11L990.68 611.18L991.48 611.24L992.27 611.31L993.07 611.36L993.86 611.42L994.66 611.47L995.45 611.52L996.25 611.57L997.04 611.62L997.84 611.66L998.63 611.70L999.43 611.74L1000.22 611.78L1001.02 611.82L1001.81 611.85L1002.61 611.88L1003.40 611.91L1004.20 611.94L1005.00 611.97L1005.79 612.00L1006.59 612.03L1007.38 612.05L1008.18 612.08L1008.97 612.10L1009.77 612.12L1010.56 612.14L1011.36 612.16L1012.15 612.18L1012.95 612.20L1013.74 612.22L1014.54 612.24L1015.33 612.26L1016.13 612.28L1016.92 612.29L1017.72 612.31L1018.51 612.32L1019.31 612.34L1020.10 612.35L1020.90 612.37L1021.69 612.38L1022.49 612.40L1023.28 612.41L1024.08 612.42L1024.88 612.43L1025.67 612.45L1026.47 612.46L1027.26 612.47L1028.06 612.48L1028.85 612.49L1029.65 612.50L1030.44 612.51L1031.24 612.52L1032.03 612.54L1032.83 612.55L1033.62 612.55L1034.42 612.56L1035.21 612.57L1036.01 612.58L1036.80 612.59L1037.60 612.60L1038.39 612.61L1039.19 612.62L1039.98 612.63" fill="none" stroke="#484848" stroke-width="2.5" stroke-linejoin="round" stroke-linecap="round" /><path d="M706.00 612.63L706.80 612.44L707.59 612.24L708.39 612.05L709.18 611.85L709.98 611.66L710.77 611.46L711.57 611.26L712.36 611.05L713.16 610.85L713.95 610.65L714.75 610.44L715.54 610.23L716.34 610.02L717.13 609.81L717.93 609.60L718.72 609.39L719.52 609.17L720.31 608.96L721.11 608.74L721.90 608.53L722.70 608.31L723.49 608.10L724.29 607.88L725.08 607.66L725.88 607.44L726.68 607.23L727.47 607.01L728.27 606.79L729.06 606.58L729.86 606.36L730.65 606.15L731.45 605.93L732.24 605.72L733.04 605.51L733.83 605.29L734.63 605.08L735.42 604.88L736.22 604.67L737.01 604.46L737.81 604.26L738.60 604.06L739.40 603.86L740.19 603.66L740.99 603.46L741.78 603.26L742.58 603.07L743.37 602.88L744.17 602.69L744.96 602.51L745.76 602.32L746.56 602.14L747.35 601.96L748.15 601.79L748.94 601.61L749.74 601.44L750.53 601.27L751.33 601.11L752.12 600.94L752.92 600.78L753.71 600.62L754.51 600.47L755.30 600.31L756.10 600.16L756.89 600.01L757.69 599.86L758.48 599.71L759.28 599.57L760.07 599.43L760.87 599.29L761.66 599.15L762.46 599.16L763.25 599.22L764.05 599.33L764.84 599.48L765.64 599.65L766.44 599.85L767.23 600.04L768.03 600.20L768.82 600.30L769.62 600.31L770.41 600.22L771.21 600.04L772.00 599.79L772.80 599.56L773.59 599.44L774.39 599.50L775.18 599.82L775.98 600.37L776.77 601.08L777.57 601.92L778.36 602.83L779.16 603.74L779.95 604.59L780.75 605.29L781.54 605.74L782.34 605.82L783.13 605.37L783.93 604.19L784.72 602.01L785.52 598.57L786.32 593.61L787.11 586.99L787.91 578.73L788.70 569.11L789.50 558.71L790.29 548.40L791.09 539.19L791.88 532.12L792.68 528.08L793.47 527.52L794.27 530.01L795.06 535.15L795.86 542.39L796.65 551.00L797.45 560.20L798.24 569.26L799.04 577.61L799.83 584.85L800.63 590.79L801.42 595.42L802.22 598.83L803.01 601.22L803.81 602.81L804.60 603.79L805.40 604.36L806.20 604.66L806.99 604.79L807.79 604.84L808.58 604.84L809.38 604.84L810.17 604.85L810.97 604.86L811.76 604.90L812.56 604.95L813.35 605.02L814.15 605.11L814.94 605.22L815.74 605.35L816.53 605.49L817.33 605.65L818.12 605.81L818.92 605.99L819.71 606.19L820.51 606.44L821.30 606.83L822.10 607.52L822.89 608.77L823.69 610.83L824.48 613.70L825.28 616.78L826.08 618.83L826.87 618.32L827.67 614.02L828.46 605.53L829.26 593.19L830.05 577.67L830.85 559.51L831.64 539.18L832.44 517.37L833.23 495.29L834.03 474.77L834.82 457.96L835.62 446.91L836.41 443.06L837.21 446.64L838.00 456.87L838.80 472.50L839.59 491.72L840.39 512.48L841.18 532.91L841.98 551.51L842.77 567.33L843.57 579.95L844.36 589.41L845.16 596.05L845.96 600.38L846.75 602.93L847.55 604.18L848.34 604.55L849.14 604.36L849.93 603.89L850.73 603.33L851.52 602.84L852.32 602.51L853.11 602.43L853.91 602.64L854.70 603.09L855.50 603.69L856.29 604.29L857.09 604.79L857.88 605.07L858.68 605.08L859.47 604.75L860.27 604.05L861.06 602.96L861.86 601.46L862.65 599.57L863.45 597.31L864.24 594.79L865.04 592.11L865.84 589.47L866.63 587.05L867.43 585.08L868.22 583.72L869.02 583.10L869.81 583.17L870.61 583.85L871.40 585.03L872.20 586.61L872.99 588.44L873.79 590.37L874.58 592.26L875.38 593.98L876.17 595.47L876.97 596.67L877.76 597.57L878.56 598.16L879.35 598.49L880.15 598.57L880.94 598.46L881.74 598.18L882.53 597.76L883.33 597.22L884.12 596.57L884.92 595.79L885.72 594.88L886.51 593.79L887.31 592.49L888.10 590.90L888.90 588.98L889.69 586.67L890.49 583.94L891.28 580.78L892.08 577.24L892.87 573.42L893.67 569.49L894.46 565.64L895.26 562.08L896.05 559.02L896.85 556.62L897.64 555.03L898.44 554.55L899.23 555.03L900.03 556.13L900.82 557.43L901.62 558.56L902.41 559.22L903.21 559.28L904.00 558.69L904.80 557.51L905.60 555.85L906.39 553.82L907.19 551.53L907.98 549.05L908.78 546.43L909.57 543.73L910.37 540.96L911.16 538.14L911.96 535.28L912.75 532.40L913.55 529.51L914.34 526.61L915.14 523.73L915.93 520.87L916.73 518.05L917.52 515.30L918.32 512.61L919.11 510.03L919.91 507.55L920.70 505.22L921.50 503.03L922.29 501.03L923.09 499.22L923.88 497.63L924.68 496.28L925.48 495.17L926.27 494.33L927.07 493.77L927.86 493.48L928.66 493.47L929.45 493.69L930.25 494.12L931.04 494.75L931.84 495.59L932.63 496.63L933.43 497.85L934.22 499.24L935.02 500.80L935.81 502.51L936.61 504.35L937.40 506.32L938.20 508.40L938.99 510.58L939.79 512.84L940.58 515.17L941.38 517.56L942.17 519.99L942.97 522.46L943.76 524.95L944.56 527.46L945.36 529.97L946.15 532.49L946.95 534.99L947.74 537.47L948.54 539.93L949.33 542.37L950.13 544.77L950.92 547.13L951.72 549.45L952.51 551.73L953.31 553.95L954.10 556.13L954.90 558.25L955.69 560.32L956.49 562.34L957.28 564.29L958.08 566.19L958.87 568.03L959.67 569.81L960.46 571.53L961.26 573.19L962.05 574.79L962.85 576.34L963.64 577.82L964.44 579.25L965.24 580.62L966.03 581.94L966.83 583.20L967.62 584.41L968.42 585.57L969.21 586.68L970.01 587.73L970.80 588.74L971.60 589.71L972.39 590.62L973.19 591.50L973.98 592.33L974.78 593.13L975.57 593.88L976.37 594.60L977.16 595.28L977.96 595.93L978.75 596.55L979.55 597.14L980.34 597.69L981.14 598.22L981.93 598.72L982.73 599.20L983.52 599.65L984.32 600.09L985.12 600.50L985.91 600.88L986.71 601.25L987.50 601.61L988.30 601.94L989.09 602.26L989.89 602.57L990.68 602.86L991.48 603.13L992.27 603.40L993.07 603.65L993.86 603.89L994.66 604.12L995.45 604.34L996.25 604.55L997.04 604.76L997.84 604.95L998.63 605.14L999.43 605.32L1000.22 605.49L1001.02 605.66L1001.81 605.82L1002.61 605.97L1003.40 606.12L1004.20 606.26L1005.00 606.40L1005.79 606.54L1006.59 606.67L1007.38 606.79L1008.18 606.92L1008.97 607.04L1009.77 607.15L1010.56 607.26L1011.36 607.37L1012.15 607.48L1012.95 607.58L1013.74 607.68L1014.54 607.77L1015.33 607.87L1016.13 607.96L1016.92 608.05L1017.72 608.14L1018.51 608.22L1019.31 608.30L1020.10 608.39L1020.90 608.46L1021.69 608.54L1022.49 608.62L1023.28 608.69L1024.08 608.76L1024.88 608.83L1025.67 608.90L1026.47 608.97L1027.26 609.03L1028.06 609.10L1028.85 609.16L1029.65 609.22L1030.44 609.28L1031.24 609.34L1032.03 609.39L1032.83 609.45L1033.62 609.51L1034.42 609.56L1035.21 609.61L1036.01 609.66L1036.80 609.71L1037.60 609.76L1038.39 609.81L1039.19 609.86L1039.98 609.91" fill="none" stroke="#f23c3c" stroke-width="2.5" stroke-linejoin="round" stroke-linecap="round" /><path d="M706.00 612.76L706.80 612.60L707.59 612.43L708.39 612.27L709.18 612.10L709.98 611.93L710.77 611.77L711.57 611.60L712.36 611.42L713.16 611.25L713.95 611.08L714.75 610.90L715.54 610.73L716.34 610.55L717.13 610.37L717.93 610.19L718.72 610.01L719.52 609.83L720.31 609.65L721.11 609.46L721.90 609.28L722.70 609.10L723.49 608.92L724.29 608.73L725.08 608.55L725.88 608.36L726.68 608.18L727.47 608.00L728.27 607.81L729.06 607.63L729.86 607.45L730.65 607.26L731.45 607.08L732.24 606.90L733.04 606.72L733.83 606.54L734.63 606.36L735.42 606.19L736.22 606.01L737.01 605.84L737.81 605.66L738.60 605.49L739.40 605.32L740.19 605.15L740.99 604.99L741.78 604.82L742.58 604.66L743.37 604.50L744.17 604.34L744.96 604.18L745.76 604.03L746.56 603.87L747.35 603.72L748.15 603.57L748.94 603.43L749.74 603.28L750.53 603.14L751.33 603.00L752.12 602.86L752.92 602.72L753.71 602.59L754.51 602.45L755.30 602.32L756.10 602.19L756.89 602.07L757.69 601.94L758.48 601.82L759.28 601.70L760.07 601.58L760.87 601.46L761.66 601.34L762.46 601.35L763.25 601.40L764.05 601.50L764.84 601.62L765.64 601.77L766.44 601.94L767.23 602.10L768.03 602.24L768.82 602.33L769.62 602.34L770.41 602.27L771.21 602.12L772.00 601.92L772.80 601.73L773.59 601.62L774.39 601.68L775.18 601.96L775.98 602.42L776.77 603.03L777.57 603.73L778.36 604.50L779.16 605.28L779.95 606.00L780.75 606.60L781.54 607.01L782.34 607.13L783.13 606.83L783.93 605.95L784.72 604.31L785.52 601.70L786.32 597.92L787.11 592.85L787.91 586.53L788.70 579.17L789.50 571.20L790.29 563.30L791.09 556.23L791.88 550.82L792.68 547.70L793.47 547.25L794.27 549.14L795.06 553.06L795.86 558.58L796.65 565.14L797.45 572.16L798.24 579.08L799.04 585.44L799.83 590.96L800.63 595.48L801.42 599.00L802.22 601.58L803.01 603.39L803.81 604.58L804.60 605.32L805.40 605.73L806.20 605.95L806.99 606.04L807.79 606.06L808.58 606.06L809.38 606.06L810.17 606.06L810.97 606.08L811.76 606.11L812.56 606.16L813.35 606.23L814.15 606.31L814.94 606.41L815.74 606.53L816.53 606.66L817.33 606.80L818.12 606.95L818.92 607.11L819.71 607.29L820.51 607.51L821.30 607.85L822.10 608.45L822.89 609.53L823.69 611.31L824.48 613.78L825.28 616.47L826.08 618.34L826.87 618.11L827.67 614.78L828.46 608.06L829.26 598.30L830.05 586.09L830.85 571.91L831.64 556.15L832.44 539.30L833.23 522.28L834.03 506.49L834.82 493.55L835.62 485.05L836.41 482.10L837.21 484.86L838.00 492.75L838.80 504.79L839.59 519.59L840.39 535.59L841.18 551.32L841.98 565.64L842.77 577.82L843.57 587.54L844.36 594.82L845.16 599.92L845.96 603.24L846.75 605.18L847.55 606.12L848.34 606.38L849.14 606.20L849.93 605.81L850.73 605.35L851.52 604.95L852.32 604.69L853.11 604.62L853.91 604.80L854.70 605.18L855.50 605.68L856.29 606.19L857.09 606.61L857.88 606.87L858.68 606.90L859.47 606.68L860.27 606.17L861.06 605.36L861.86 604.25L862.65 602.83L863.45 601.14L864.24 599.24L865.04 597.24L865.84 595.25L866.63 593.44L867.43 591.96L868.22 590.94L869.02 590.48L869.81 590.53L870.61 591.04L871.40 591.93L872.20 593.12L872.99 594.49L873.79 595.94L874.58 597.35L875.38 598.66L876.17 599.78L876.97 600.68L877.76 601.36L878.56 601.81L879.35 602.06L880.15 602.14L880.94 602.06L881.74 601.87L882.53 601.57L883.33 601.18L884.12 600.71L884.92 600.15L885.72 599.50L886.51 598.72L887.31 597.78L888.10 596.63L888.90 595.25L889.69 593.58L890.49 591.61L891.28 589.32L892.08 586.76L892.87 584.01L893.67 581.17L894.46 578.39L895.26 575.83L896.05 573.64L896.85 571.94L897.64 570.83L898.44 570.54L899.23 570.95L900.03 571.82L900.82 572.84L901.62 573.73L902.41 574.29L903.21 574.41L904.00 574.06L904.80 573.28L905.60 572.15L906.39 570.75L907.19 569.15L907.98 567.42L908.78 565.59L909.57 563.68L910.37 561.73L911.16 559.74L911.96 557.71L912.75 555.65L913.55 553.58L914.34 551.49L915.14 549.39L915.93 547.30L916.73 545.21L917.52 543.15L918.32 541.12L919.11 539.13L919.91 537.19L920.70 535.32L921.50 533.53L922.29 531.83L923.09 530.24L923.88 528.77L924.68 527.43L925.48 526.24L926.27 525.22L927.07 524.36L927.86 523.68L928.66 523.19L929.45 522.90L930.25 522.80L931.04 522.88L931.84 523.12L932.63 523.52L933.43 524.08L934.22 524.79L935.02 525.64L935.81 526.63L936.61 527.75L937.40 528.98L938.20 530.32L938.99 531.77L939.79 533.30L940.58 534.90L941.38 536.58L942.17 538.31L942.97 540.10L943.76 541.92L944.56 543.77L945.36 545.64L946.15 547.53L946.95 549.43L947.74 551.33L948.54 553.22L949.33 555.11L950.13 556.97L950.92 558.82L951.72 560.65L952.51 562.45L953.31 564.22L954.10 565.95L954.90 567.65L955.69 569.31L956.49 570.94L957.28 572.52L958.08 574.06L958.87 575.56L959.67 577.02L960.46 578.43L961.26 579.79L962.05 581.12L962.85 582.39L963.64 583.62L964.44 584.81L965.24 585.96L966.03 587.06L966.83 588.11L967.62 589.13L968.42 590.10L969.21 591.03L970.01 591.93L970.80 592.78L971.60 593.60L972.39 594.38L973.19 595.12L973.98 595.83L974.78 596.51L975.57 597.16L976.37 597.77L977.16 598.36L977.96 598.91L978.75 599.44L979.55 599.94L980.34 600.42L981.14 600.88L981.93 601.31L982.73 601.72L983.52 602.11L984.32 602.48L985.12 602.83L985.91 603.16L986.71 603.48L987.50 603.78L988.30 604.07L989.09 604.34L989.89 604.60L990.68 604.85L991.48 605.08L992.27 605.31L993.07 605.52L993.86 605.72L994.66 605.92L995.45 606.10L996.25 606.28L997.04 606.45L997.84 606.62L998.63 606.77L999.43 606.92L1000.22 607.07L1001.02 607.20L1001.81 607.34L1002.61 607.47L1003.40 607.59L1004.20 607.71L1005.00 607.82L1005.79 607.93L1006.59 608.04L1007.38 608.14L1008.18 608.24L1008.97 608.34L1009.77 608.43L1010.56 608.52L1011.36 608.61L1012.15 608.70L1012.95 608.78L1013.74 608.86L1014.54 608.94L1015.33 609.02L1016.13 609.09L1016.92 609.16L1017.72 609.23L1018.51 609.30L1019.31 609.37L1020.10 609.43L1020.90 609.50L1021.69 609.56L1022.49 609.62L1023.28 609.68L1024.08 609.74L1024.88 609.79L1025.67 609.85L1026.47 609.90L1027.26 609.95L1028.06 610.00L1028.85 610.05L1029.65 610.10L1030.44 610.15L1031.24 610.20L1032.03 610.24L1032.83 610.29L1033.62 610.33L1034.42 610.37L1035.21 610.41L1036.01 610.46L1036.80 610.50L1037.60 610.53L1038.39 610.57L1039.19 610.61L1039.98 610.65" fill="none" stroke="#1a6fdf" stroke-width="2.5" stroke-linejoin="round" stroke-linecap="round" /><path d="M706.00 612.87L706.80 612.73L707.59 612.59L708.39 612.45L709.18 612.31L709.98 612.16L710.77 612.01L711.57 611.87L712.36 611.72L713.16 611.57L713.95 611.42L714.75 611.27L715.54 611.12L716.34 610.96L717.13 610.81L717.93 610.65L718.72 610.50L719.52 610.34L720.31 610.18L721.11 610.03L721.90 609.87L722.70 609.71L723.49 609.55L724.29 609.39L725.08 609.23L725.88 609.07L726.68 608.91L727.47 608.76L728.27 608.60L729.06 608.44L729.86 608.28L730.65 608.12L731.45 607.97L732.24 607.81L733.04 607.65L733.83 607.50L734.63 607.34L735.42 607.19L736.22 607.04L737.01 606.89L737.81 606.74L738.60 606.59L739.40 606.45L740.19 606.30L740.99 606.16L741.78 606.01L742.58 605.87L743.37 605.73L744.17 605.60L744.96 605.46L745.76 605.33L746.56 605.19L747.35 605.06L748.15 604.94L748.94 604.81L749.74 604.68L750.53 604.56L751.33 604.44L752.12 604.32L752.92 604.20L753.71 604.09L754.51 603.97L755.30 603.86L756.10 603.75L756.89 603.64L757.69 603.53L758.48 603.42L759.28 603.32L760.07 603.22L760.87 603.11L761.66 603.01L762.46 603.02L763.25 603.07L764.05 603.15L764.84 603.26L765.64 603.39L766.44 603.54L767.23 603.68L768.03 603.80L768.82 603.87L769.62 603.88L770.41 603.82L771.21 603.68L772.00 603.50L772.80 603.34L773.59 603.24L774.39 603.29L775.18 603.53L775.98 603.94L776.77 604.46L777.57 605.08L778.36 605.75L779.16 606.43L779.95 607.07L780.75 607.61L781.54 607.98L782.34 608.12L783.13 607.93L783.93 607.28L784.72 606.02L785.52 603.99L786.32 601.04L787.11 597.08L787.91 592.13L788.70 586.36L789.50 580.12L790.29 573.92L791.09 568.37L791.88 564.12L792.68 561.67L793.47 561.31L794.27 562.78L795.06 565.84L795.86 570.16L796.65 575.29L797.45 580.78L798.24 586.19L799.04 591.17L799.83 595.48L800.63 599.01L801.42 601.75L802.22 603.77L803.01 605.17L803.81 606.09L804.60 606.65L805.40 606.97L806.20 607.13L806.99 607.19L807.79 607.21L808.58 607.21L809.38 607.20L810.17 607.21L810.97 607.22L811.76 607.25L812.56 607.30L813.35 607.36L814.15 607.44L814.94 607.52L815.74 607.63L816.53 607.74L817.33 607.86L818.12 608.00L818.92 608.14L819.71 608.30L820.51 608.49L821.30 608.80L822.10 609.33L822.89 610.30L823.69 611.91L824.48 614.14L825.28 616.60L826.08 618.38L826.87 618.36L827.67 615.69L828.46 610.15L829.26 602.10L830.05 592.11L830.85 580.63L831.64 567.96L832.44 554.50L833.23 540.95L834.03 528.39L834.82 518.12L835.62 511.36L836.41 509.02L837.21 511.23L838.00 517.50L838.80 527.08L839.59 538.85L840.39 551.57L841.18 564.09L841.98 575.48L842.77 585.16L843.57 592.89L844.36 598.67L845.16 602.73L845.96 605.37L846.75 606.90L847.55 607.63L848.34 607.81L849.14 607.66L849.93 607.32L850.73 606.94L851.52 606.61L852.32 606.40L853.11 606.35L853.91 606.51L854.70 606.84L855.50 607.26L856.29 607.70L857.09 608.06L857.88 608.30L858.68 608.36L859.47 608.22L860.27 607.85L861.06 607.24L861.86 606.40L862.65 605.33L863.45 604.05L864.24 602.62L865.04 601.10L865.84 599.60L866.63 598.23L867.43 597.11L868.22 596.34L869.02 595.99L869.81 596.03L870.61 596.42L871.40 597.09L872.20 597.99L872.99 599.04L873.79 600.14L874.58 601.21L875.38 602.20L876.17 603.06L876.97 603.75L877.76 604.27L878.56 604.62L879.35 604.82L880.15 604.88L880.94 604.83L881.74 604.70L882.53 604.48L883.33 604.20L884.12 603.86L884.92 603.46L885.72 602.98L886.51 602.40L887.31 601.71L888.10 600.87L888.90 599.84L889.69 598.60L890.49 597.13L891.28 595.43L892.08 593.52L892.87 591.46L893.67 589.34L894.46 587.27L895.26 585.38L896.05 583.77L896.85 582.54L897.64 581.76L898.44 581.62L899.23 582.02L900.03 582.77L900.82 583.64L901.62 584.42L902.41 584.95L903.21 585.15L904.00 584.99L904.80 584.51L905.60 583.77L906.39 582.82L907.19 581.73L907.98 580.53L908.78 579.26L909.57 577.94L910.37 576.58L911.16 575.20L911.96 573.78L912.75 572.34L913.55 570.89L914.34 569.42L915.14 567.94L915.93 566.46L916.73 564.97L917.52 563.49L918.32 562.03L919.11 560.58L919.91 559.15L920.70 557.77L921.50 556.42L922.29 555.12L923.09 553.88L923.88 552.71L924.68 551.61L925.48 550.60L926.27 549.69L927.07 548.87L927.86 548.17L928.66 547.59L929.45 547.13L930.25 546.79L931.04 546.59L931.84 546.52L932.63 546.58L933.43 546.76L934.22 547.06L935.02 547.47L935.81 547.99L936.61 548.62L937.40 549.35L938.20 550.18L938.99 551.09L939.79 552.08L940.58 553.14L941.38 554.27L942.17 555.46L942.97 556.69L943.76 557.97L944.56 559.29L945.36 560.63L946.15 562.00L946.95 563.38L947.74 564.78L948.54 566.18L949.33 567.58L950.13 568.97L950.92 570.36L951.72 571.74L952.51 573.11L953.31 574.45L954.10 575.78L954.90 577.08L955.69 578.36L956.49 579.62L957.28 580.85L958.08 582.04L958.87 583.21L959.67 584.35L960.46 585.46L961.26 586.53L962.05 587.57L962.85 588.58L963.64 589.55L964.44 590.50L965.24 591.40L966.03 592.28L966.83 593.12L967.62 593.94L968.42 594.72L969.21 595.47L970.01 596.18L970.80 596.87L971.60 597.53L972.39 598.16L973.19 598.76L973.98 599.34L974.78 599.89L975.57 600.41L976.37 600.91L977.16 601.39L977.96 601.84L978.75 602.27L979.55 602.68L980.34 603.07L981.14 603.45L981.93 603.80L982.73 604.13L983.52 604.45L984.32 604.75L985.12 605.04L985.91 605.31L986.71 605.57L987.50 605.82L988.30 606.05L989.09 606.28L989.89 606.49L990.68 606.69L991.48 606.88L992.27 607.06L993.07 607.24L993.86 607.40L994.66 607.56L995.45 607.71L996.25 607.85L997.04 607.99L997.84 608.12L998.63 608.25L999.43 608.37L1000.22 608.48L1001.02 608.59L1001.81 608.70L1002.61 608.80L1003.40 608.90L1004.20 609.00L1005.00 609.09L1005.79 609.17L1006.59 609.26L1007.38 609.34L1008.18 609.42L1008.97 609.50L1009.77 609.57L1010.56 609.64L1011.36 609.71L1012.15 609.78L1012.95 609.84L1013.74 609.90L1014.54 609.97L1015.33 610.03L1016.13 610.08L1016.92 610.14L1017.72 610.19L1018.51 610.25L1019.31 610.30L1020.10 610.35L1020.90 610.40L1021.69 610.45L1022.49 610.49L1023.28 610.54L1024.08 610.58L1024.88 610.63L1025.67 610.67L1026.47 610.71L1027.26 610.75L1028.06 610.79L1028.85 610.83L1029.65 610.87L1030.44 610.90L1031.24 610.94L1032.03 610.98L1032.83 611.01L1033.62 611.04L1034.42 611.08L1035.21 611.11L1036.01 611.14L1036.80 611.17L1037.60 611.20L1038.39 611.23L1039.19 611.26L1039.98 611.29" fill="none" stroke="#37ad6b" stroke-width="2.5" stroke-linejoin="round" stroke-linecap="round" /></g>
<rect x="718.00" y="398.20" width="26.80" height="26.80" fill="#06030a"/><rect x="718.00" y="398.20" width="26.80" height="26.80" fill="url(#td_0)"/>
<rect x="718.00" y="427.60" width="26.80" height="27.00" fill="#06030a"/><rect x="718.00" y="427.60" width="26.80" height="27.00" fill="url(#td_1)"/>
<rect x="718.00" y="457.10" width="26.80" height="26.80" fill="#06030a"/><rect x="718.00" y="457.10" width="26.80" height="26.80" fill="url(#td_2)"/>
<rect x="718.00" y="486.30" width="26.80" height="27.80" fill="#06030a"/><rect x="718.00" y="486.30" width="26.80" height="27.80" fill="url(#td_3)"/>
<rect x="855.00" y="397.00" width="26.30" height="26.20" fill="#0a0416"/><rect x="855.00" y="397.00" width="26.30" height="26.20" fill="url(#td_4)"/>
<rect x="855.00" y="425.40" width="26.30" height="26.20" fill="#0a0416"/><rect x="855.00" y="425.40" width="26.30" height="26.20" fill="url(#td_5)"/>
<rect x="855.00" y="454.00" width="26.30" height="25.40" fill="#0a0416"/><rect x="855.00" y="454.00" width="26.30" height="25.40" fill="url(#td_6)"/>
<rect x="855.00" y="481.50" width="26.30" height="26.20" fill="#0a0416"/><rect x="855.00" y="481.50" width="26.30" height="26.20" fill="url(#td_7)"/>
<path d="M763.80 419.20L769.55 424.20H767.10V495.00H760.50V424.20H758.05Z" fill="url(#tda0)"/>
<path d="M902.50 413.80L908.75 419.80H905.50V490.60H899.50V419.80H896.25Z" fill="url(#tda1)"/>
<text x="719.70" y="385.60" font-size="18.3" font-weight="bold" text-anchor="start" fill="#4a4a4a" >254 nm</text>
<text x="854.30" y="386.40" font-size="18.3" font-weight="bold" text-anchor="start" fill="#4a4a4a" >365 nm</text>
<text x="750.70" y="413.00" font-size="12.1" font-weight="bold" text-anchor="start" fill="#2a2a2a" >10min</text>
<text x="750.70" y="509.00" font-size="12.1" font-weight="bold" text-anchor="start" fill="#2a2a2a" >0min</text>
<text x="886.80" y="410.20" font-size="11.8" font-weight="bold" text-anchor="start" fill="#2a2a2a" >10min</text>
<text x="890.70" y="501.60" font-size="11.5" font-weight="bold" text-anchor="start" fill="#2a2a2a" >0min</text>
<line x1="938.20" y1="388.00" x2="980.00" y2="388.00" stroke="#484848" stroke-width="3.0" />
<text x="983.20" y="394.20" font-size="17.5" font-weight="bold" text-anchor="start" fill="#000" >0min</text>
<line x1="938.20" y1="410.35" x2="980.00" y2="410.35" stroke="#f23c3c" stroke-width="3.0" />
<text x="983.20" y="416.55" font-size="17.5" font-weight="bold" text-anchor="start" fill="#000" >3min</text>
<line x1="938.20" y1="432.70" x2="980.00" y2="432.70" stroke="#1a6fdf" stroke-width="3.0" />
<text x="983.20" y="438.90" font-size="17.5" font-weight="bold" text-anchor="start" fill="#000" >5min</text>
<line x1="938.20" y1="455.05" x2="980.00" y2="455.05" stroke="#37ad6b" stroke-width="3.0" />
<text x="983.20" y="461.25" font-size="17.5" font-weight="bold" text-anchor="start" fill="#000" >10min</text>
<path d="M721.90 637.90v4.8M801.42 637.90v4.8M880.94 637.90v4.8M960.46 637.90v4.8M1039.98 637.90v4.8M706.30 613.30h-6.3M706.30 564.38h-6.3M706.30 515.46h-6.3M706.30 466.54h-6.3M706.30 417.62h-6.3M706.30 368.70h-6.3" stroke="#000" stroke-width="3.3" fill="none"/>
<path d="M761.66 637.90v2.9M841.18 637.90v2.9M920.70 637.90v2.9M1000.22 637.90v2.9M706.30 637.76h-3.2M706.30 588.84h-3.2M706.30 539.92h-3.2M706.30 491.00h-3.2M706.30 442.08h-3.2M706.30 393.16h-3.2" stroke="#000" stroke-width="2.4" fill="none"/>
<rect x="706.30" y="369.00" width="332.80" height="268.90" fill="none" stroke="#000" stroke-width="3.4"/>
<text x="697.50" y="621.70" font-size="23" font-weight="bold" text-anchor="end" fill="#000" >0.0</text>
<text x="689.60" y="572.78" font-size="23" font-weight="bold" text-anchor="end" fill="#000" >2.0x10</text><text x="690.20" y="563.38" font-size="16" font-weight="bold" text-anchor="start" fill="#000" >5</text>
<text x="689.60" y="523.86" font-size="23" font-weight="bold" text-anchor="end" fill="#000" >4.0x10</text><text x="690.20" y="514.46" font-size="16" font-weight="bold" text-anchor="start" fill="#000" >5</text>
<text x="689.60" y="474.94" font-size="23" font-weight="bold" text-anchor="end" fill="#000" >6.0x10</text><text x="690.20" y="465.54" font-size="16" font-weight="bold" text-anchor="start" fill="#000" >5</text>
<text x="689.60" y="426.02" font-size="23" font-weight="bold" text-anchor="end" fill="#000" >8.0x10</text><text x="690.20" y="416.62" font-size="16" font-weight="bold" text-anchor="start" fill="#000" >5</text>
<text x="689.60" y="377.10" font-size="23" font-weight="bold" text-anchor="end" fill="#000" >1.0x10</text><text x="690.20" y="367.70" font-size="16" font-weight="bold" text-anchor="start" fill="#000" >6</text>
<text x="722.30" y="665.20" font-size="22.8" font-weight="bold" text-anchor="middle" fill="#000" >400</text>
<text x="801.82" y="665.20" font-size="22.8" font-weight="bold" text-anchor="middle" fill="#000" >500</text>
<text x="881.34" y="665.20" font-size="22.8" font-weight="bold" text-anchor="middle" fill="#000" >600</text>
<text x="960.86" y="665.20" font-size="22.8" font-weight="bold" text-anchor="middle" fill="#000" >700</text>
<text x="1040.38" y="665.20" font-size="22.8" font-weight="bold" text-anchor="middle" fill="#000" >800</text>
<text x="873.00" y="700.80" font-size="23.2" font-weight="bold" text-anchor="middle" fill="#000" >Wavelength (nm)</text>
<text transform="translate(609.3 495.5) rotate(-90)" font-size="23.1" font-weight="bold" text-anchor="middle">Intensity (CPS)</text>
<text x="544.70" y="375.00" font-size="36.3" font-weight="bold" text-anchor="start" fill="#3a3a3a" >(d)</text>
<g clip-path="url(#clipe)"><path d="M707.50 958.34L708.29 958.26L709.08 958.19L709.88 958.11L710.67 958.03L711.46 957.95L712.25 957.87L713.04 957.80L713.83 957.71L714.63 957.63L715.42 957.55L716.21 957.47L717.00 957.39L717.79 957.30L718.58 957.22L719.38 957.14L720.17 957.05L720.96 956.97L721.75 956.88L722.54 956.80L723.33 956.71L724.13 956.63L724.92 956.54L725.71 956.45L726.50 956.37L727.29 956.28L728.08 956.20L728.88 956.11L729.67 956.02L730.46 955.94L731.25 955.85L732.04 955.76L732.83 955.68L733.63 955.59L734.42 955.51L735.21 955.42L736.00 955.34L736.79 955.25L737.58 955.17L738.38 955.09L739.17 955.01L739.96 954.92L740.75 954.84L741.54 954.76L742.33 954.68L743.13 954.60L743.92 954.52L744.71 954.45L745.50 954.37L746.29 954.29L747.09 954.22L747.88 954.14L748.67 954.07L749.46 954.00L750.25 953.93L751.04 953.86L751.84 953.79L752.63 953.72L753.42 953.65L754.21 953.58L755.00 953.52L755.79 953.45L756.59 953.39L757.38 953.33L758.17 953.26L758.96 953.20L759.75 953.14L760.54 953.08L761.34 953.02L762.13 952.97L762.92 952.91L763.71 952.85L764.50 952.80L765.29 952.74L766.09 952.68L766.88 952.62L767.67 952.62L768.46 952.63L769.25 952.64L770.04 952.66L770.84 952.66L771.63 952.64L772.42 952.61L773.21 952.57L774.00 952.55L774.79 952.58L775.59 952.67L776.38 952.85L777.17 953.12L777.96 953.44L778.75 953.79L779.54 954.16L780.34 954.52L781.13 954.82L781.92 955.00L782.71 954.98L783.50 954.63L784.29 953.79L785.09 952.24L785.88 949.69L786.67 945.85L787.46 940.47L788.25 933.39L789.05 924.67L789.84 914.60L790.63 903.83L791.42 893.26L792.21 883.94L793.00 876.96L793.80 873.17L794.59 872.97L795.38 875.88L796.17 881.48L796.96 889.19L797.75 898.23L798.55 907.81L799.34 917.18L800.13 925.76L800.92 933.17L801.71 939.22L802.50 943.93L803.30 947.40L804.09 949.83L804.88 951.45L805.67 952.47L806.46 953.07L807.25 953.40L808.05 953.56L808.84 953.64L809.63 953.67L810.42 953.70L811.21 953.72L812.00 953.76L812.80 953.80L813.59 953.86L814.38 953.93L815.17 954.02L815.96 954.12L816.75 954.24L817.55 954.36L818.34 954.50L819.13 954.64L819.92 954.80L820.71 954.97L821.50 955.20L822.30 955.57L823.09 956.24L823.88 957.47L824.67 959.48L825.46 962.21L826.25 965.07L827.05 966.87L827.84 966.16L828.63 961.79L829.42 953.36L830.21 941.05L831.01 925.19L831.80 905.98L832.59 883.54L833.38 858.36L834.17 831.64L834.96 805.42L835.76 782.30L836.55 764.99L837.34 755.73L838.13 755.64L838.92 763.92L839.71 779.44L840.51 800.41L841.30 824.57L842.09 849.61L842.88 873.51L843.67 894.77L844.46 912.52L845.26 926.48L846.05 936.82L846.84 944.02L847.63 948.67L848.42 951.40L849.21 952.77L850.01 953.24L850.80 953.19L851.59 952.90L852.38 952.59L853.17 952.39L853.96 952.40L854.76 952.67L855.55 953.17L856.34 953.79L857.13 954.40L857.92 954.89L858.71 955.14L859.51 955.07L860.30 954.60L861.09 953.69L861.88 952.28L862.67 950.36L863.46 947.92L864.26 945.01L865.05 941.74L865.84 938.28L866.63 934.87L867.42 931.79L868.22 929.30L869.01 927.65L869.80 927.01L870.59 927.30L871.38 928.35L872.17 930.07L872.97 932.33L873.76 934.95L874.55 937.74L875.34 940.54L876.13 943.19L876.92 945.60L877.72 947.68L878.51 949.42L879.30 950.80L880.09 951.86L880.88 952.65L881.67 953.19L882.47 953.56L883.26 953.77L884.05 953.86L884.84 953.86L885.63 953.76L886.42 953.55L887.22 953.21L888.01 952.70L888.80 951.96L889.59 950.96L890.38 949.63L891.17 947.94L891.97 945.90L892.76 943.54L893.55 940.94L894.34 938.24L895.13 935.62L895.92 933.27L896.72 931.41L897.51 930.19L898.30 929.74L899.09 930.20L899.88 931.62L900.67 933.81L901.47 936.50L902.26 939.42L903.05 942.28L903.84 944.86L904.63 947.04L905.42 948.75L906.22 949.98L907.01 950.80L907.80 951.25L908.59 951.42L909.38 951.36L910.18 951.13L910.97 950.75L911.76 950.27L912.55 949.69L913.34 949.03L914.13 948.31L914.93 947.55L915.72 946.78L916.51 946.03L917.30 945.33L918.09 944.71L918.88 944.21L919.68 943.85L920.47 943.64L921.26 943.60L922.05 943.64L922.84 943.75L923.63 943.93L924.43 944.18L925.22 944.48L926.01 944.83L926.80 945.23L927.59 945.66L928.38 946.11L929.18 946.58L929.97 947.07L930.76 947.55L931.55 948.02L932.34 948.49L933.13 948.94L933.93 949.37L934.72 949.77L935.51 950.15L936.30 950.51L937.09 950.84L937.88 951.14L938.68 951.42L939.47 951.67L940.26 951.90L941.05 952.11L941.84 952.31L942.63 952.49L943.43 952.65L944.22 952.80L945.01 952.95L945.80 953.08L946.59 953.21L947.39 953.33L948.18 953.45L948.97 953.56L949.76 953.68L950.55 953.78L951.34 953.89L952.14 954.00L952.93 954.10L953.72 954.20L954.51 954.30L955.30 954.40L956.09 954.50L956.89 954.60L957.68 954.70L958.47 954.79L959.26 954.89L960.05 954.98L960.84 955.07L961.64 955.17L962.43 955.25L963.22 955.34L964.01 955.43L964.80 955.52L965.59 955.60L966.39 955.68L967.18 955.76L967.97 955.84L968.76 955.92L969.55 956.00L970.34 956.07L971.14 956.15L971.93 956.22L972.72 956.29L973.51 956.35L974.30 956.42L975.09 956.48L975.89 956.55L976.68 956.61L977.47 956.67L978.26 956.72L979.05 956.78L979.84 956.83L980.64 956.88L981.43 956.94L982.22 956.98L983.01 957.03L983.80 957.08L984.60 957.12L985.39 957.17L986.18 957.21L986.97 957.25L987.76 957.28L988.55 957.32L989.35 957.36L990.14 957.39L990.93 957.43L991.72 957.46L992.51 957.49L993.30 957.52L994.10 957.55L994.89 957.57L995.68 957.60L996.47 957.62L997.26 957.65L998.05 957.67L998.85 957.69L999.64 957.72L1000.43 957.74L1001.22 957.76L1002.01 957.77L1002.80 957.79L1003.60 957.81L1004.39 957.83L1005.18 957.84L1005.97 957.86L1006.76 957.87L1007.55 957.89L1008.35 957.90L1009.14 957.91L1009.93 957.92L1010.72 957.94L1011.51 957.95L1012.30 957.96L1013.10 957.97L1013.89 957.98L1014.68 957.99L1015.47 958.00L1016.26 958.01L1017.05 958.01L1017.85 958.02L1018.64 958.03L1019.43 958.04L1020.22 958.04L1021.01 958.05L1021.80 958.06L1022.60 958.06L1023.39 958.07L1024.18 958.08L1024.97 958.08L1025.76 958.09L1026.56 958.09L1027.35 958.10L1028.14 958.10L1028.93 958.11L1029.72 958.11L1030.51 958.12L1031.31 958.12L1032.10 958.13L1032.89 958.13L1033.68 958.13L1034.47 958.14L1035.26 958.14L1036.06 958.15L1036.85 958.15L1037.64 958.15L1038.43 958.16L1039.22 958.16L1040.01 958.16" fill="none" stroke="#484848" stroke-width="2.5" stroke-linejoin="round" stroke-linecap="round" /><path d="M707.50 958.33L708.29 958.27L709.08 958.20L709.88 958.14L710.67 958.08L711.46 958.01L712.25 957.95L713.04 957.88L713.83 957.82L714.63 957.75L715.42 957.68L716.21 957.62L717.00 957.55L717.79 957.48L718.58 957.41L719.38 957.34L720.17 957.27L720.96 957.20L721.75 957.14L722.54 957.07L723.33 957.00L724.13 956.93L724.92 956.85L725.71 956.78L726.50 956.71L727.29 956.64L728.08 956.57L728.88 956.50L729.67 956.43L730.46 956.36L731.25 956.29L732.04 956.22L732.83 956.15L733.63 956.08L734.42 956.01L735.21 955.94L736.00 955.87L736.79 955.80L737.58 955.73L738.38 955.67L739.17 955.60L739.96 955.53L740.75 955.46L741.54 955.40L742.33 955.33L743.13 955.27L743.92 955.20L744.71 955.14L745.50 955.08L746.29 955.01L747.09 954.95L747.88 954.89L748.67 954.83L749.46 954.77L750.25 954.71L751.04 954.66L751.84 954.60L752.63 954.54L753.42 954.49L754.21 954.43L755.00 954.38L755.79 954.32L756.59 954.27L757.38 954.22L758.17 954.17L758.96 954.12L759.75 954.07L760.54 954.02L761.34 953.97L762.13 953.93L762.92 953.88L763.71 953.83L764.50 953.79L765.29 953.74L766.09 953.69L766.88 953.64L767.67 953.64L768.46 953.65L769.25 953.66L770.04 953.67L770.84 953.67L771.63 953.66L772.42 953.64L773.21 953.61L774.00 953.60L774.79 953.62L775.59 953.70L776.38 953.85L777.17 954.06L777.96 954.32L778.75 954.61L779.54 954.92L780.34 955.21L781.13 955.47L781.92 955.65L782.71 955.70L783.50 955.55L784.29 955.09L785.09 954.18L785.88 952.65L786.67 950.34L787.46 947.07L788.25 942.76L789.05 937.44L789.84 931.30L790.63 924.72L791.42 918.25L792.21 912.55L793.00 908.27L793.80 905.93L794.59 905.78L795.38 907.53L796.17 910.92L796.96 915.59L797.75 921.07L798.55 926.87L799.34 932.55L800.13 937.75L800.92 942.23L801.71 945.88L802.50 948.71L803.30 950.78L804.09 952.23L804.88 953.18L805.67 953.77L806.46 954.10L807.25 954.28L808.05 954.36L808.84 954.39L809.63 954.40L810.42 954.41L811.21 954.43L812.00 954.45L812.80 954.49L813.59 954.53L814.38 954.59L815.17 954.67L815.96 954.75L816.75 954.84L817.55 954.95L818.34 955.06L819.13 955.18L819.92 955.30L820.71 955.45L821.50 955.62L822.30 955.88L823.09 956.32L823.88 957.10L824.67 958.36L825.46 960.07L826.25 961.89L827.05 963.13L827.84 962.95L828.63 960.73L829.42 956.28L830.21 949.77L831.01 941.49L831.80 931.59L832.59 920.13L833.38 907.36L834.17 893.86L834.96 880.61L835.76 868.94L836.55 860.21L837.34 855.55L838.13 855.51L838.92 859.71L839.71 867.57L840.51 878.17L841.30 890.39L842.09 903.05L842.88 915.13L843.67 925.86L844.46 934.82L845.26 941.84L846.05 947.02L846.84 950.59L847.63 952.84L848.42 954.11L849.21 954.66L850.01 954.74L850.80 954.57L851.59 954.28L852.38 954.02L853.17 953.85L853.96 953.85L854.76 954.04L855.55 954.39L856.34 954.85L857.13 955.32L857.92 955.71L858.71 955.97L859.51 956.04L860.30 955.90L861.09 955.53L861.88 954.91L862.67 954.04L863.46 952.92L864.26 951.58L865.05 950.08L865.84 948.49L866.63 946.92L867.42 945.49L868.22 944.33L869.01 943.55L869.80 943.23L870.59 943.32L871.38 943.75L872.17 944.49L872.97 945.46L873.76 946.60L874.55 947.81L875.34 949.03L876.13 950.18L876.92 951.21L877.72 952.10L878.51 952.83L879.30 953.41L880.09 953.83L880.88 954.13L881.67 954.32L882.47 954.42L883.26 954.46L884.05 954.44L884.84 954.37L885.63 954.25L886.42 954.08L887.22 953.84L888.01 953.51L888.80 953.07L889.59 952.49L890.38 951.74L891.17 950.81L891.97 949.69L892.76 948.41L893.55 947.00L894.34 945.55L895.13 944.13L895.92 942.85L896.72 941.82L897.51 941.12L898.30 940.81L899.09 940.97L899.88 941.62L900.67 942.66L901.47 943.96L902.26 945.38L903.05 946.76L903.84 948.01L904.63 949.05L905.42 949.84L906.22 950.39L907.01 950.71L907.80 950.86L908.59 950.85L909.38 950.72L910.18 950.49L910.97 950.18L911.76 949.81L912.55 949.39L913.34 948.91L914.13 948.41L914.93 947.88L915.72 947.35L916.51 946.83L917.30 946.34L918.09 945.92L918.88 945.57L919.68 945.31L920.47 945.16L921.26 945.11L922.05 945.12L922.84 945.18L923.63 945.28L924.43 945.43L925.22 945.62L926.01 945.85L926.80 946.10L927.59 946.38L928.38 946.69L929.18 947.00L929.97 947.32L930.76 947.65L931.55 947.98L932.34 948.30L933.13 948.61L933.93 948.92L934.72 949.21L935.51 949.49L936.30 949.75L937.09 950.00L937.88 950.23L938.68 950.45L939.47 950.66L940.26 950.86L941.05 951.04L941.84 951.22L942.63 951.38L943.43 951.54L944.22 951.69L945.01 951.84L945.80 951.98L946.59 952.12L947.39 952.25L948.18 952.39L948.97 952.52L949.76 952.65L950.55 952.77L951.34 952.90L952.14 953.02L952.93 953.15L953.72 953.27L954.51 953.39L955.30 953.52L956.09 953.64L956.89 953.76L957.68 953.87L958.47 953.99L959.26 954.11L960.05 954.22L960.84 954.33L961.64 954.45L962.43 954.56L963.22 954.66L964.01 954.77L964.80 954.88L965.59 954.98L966.39 955.08L967.18 955.18L967.97 955.28L968.76 955.37L969.55 955.46L970.34 955.56L971.14 955.64L971.93 955.73L972.72 955.82L973.51 955.90L974.30 955.98L975.09 956.06L975.89 956.13L976.68 956.21L977.47 956.28L978.26 956.35L979.05 956.42L979.84 956.48L980.64 956.55L981.43 956.61L982.22 956.67L983.01 956.73L983.80 956.78L984.60 956.84L985.39 956.89L986.18 956.94L986.97 956.99L987.76 957.04L988.55 957.08L989.35 957.13L990.14 957.17L990.93 957.21L991.72 957.25L992.51 957.29L993.30 957.32L994.10 957.36L994.89 957.39L995.68 957.42L996.47 957.45L997.26 957.48L998.05 957.51L998.85 957.54L999.64 957.56L1000.43 957.59L1001.22 957.61L1002.01 957.63L1002.80 957.66L1003.60 957.68L1004.39 957.70L1005.18 957.72L1005.97 957.74L1006.76 957.75L1007.55 957.77L1008.35 957.79L1009.14 957.80L1009.93 957.82L1010.72 957.83L1011.51 957.85L1012.30 957.86L1013.10 957.87L1013.89 957.88L1014.68 957.90L1015.47 957.91L1016.26 957.92L1017.05 957.93L1017.85 957.94L1018.64 957.95L1019.43 957.96L1020.22 957.97L1021.01 957.97L1021.80 957.98L1022.60 957.99L1023.39 958.00L1024.18 958.00L1024.97 958.01L1025.76 958.02L1026.56 958.03L1027.35 958.03L1028.14 958.04L1028.93 958.04L1029.72 958.05L1030.51 958.06L1031.31 958.06L1032.10 958.07L1032.89 958.07L1033.68 958.08L1034.47 958.08L1035.26 958.09L1036.06 958.09L1036.85 958.09L1037.64 958.10L1038.43 958.10L1039.22 958.11L1040.01 958.11" fill="none" stroke="#f23c3c" stroke-width="2.5" stroke-linejoin="round" stroke-linecap="round" /><path d="M707.50 958.35L708.29 958.29L709.08 958.23L709.88 958.18L710.67 958.12L711.46 958.06L712.25 958.00L713.04 957.94L713.83 957.89L714.63 957.83L715.42 957.77L716.21 957.71L717.00 957.64L717.79 957.58L718.58 957.52L719.38 957.46L720.17 957.40L720.96 957.33L721.75 957.27L722.54 957.21L723.33 957.15L724.13 957.08L724.92 957.02L725.71 956.96L726.50 956.89L727.29 956.83L728.08 956.76L728.88 956.70L729.67 956.64L730.46 956.57L731.25 956.51L732.04 956.45L732.83 956.38L733.63 956.32L734.42 956.26L735.21 956.19L736.00 956.13L736.79 956.07L737.58 956.01L738.38 955.95L739.17 955.89L739.96 955.83L740.75 955.77L741.54 955.71L742.33 955.65L743.13 955.59L743.92 955.53L744.71 955.47L745.50 955.42L746.29 955.36L747.09 955.31L747.88 955.25L748.67 955.20L749.46 955.14L750.25 955.09L751.04 955.04L751.84 954.99L752.63 954.94L753.42 954.89L754.21 954.84L755.00 954.79L755.79 954.74L756.59 954.69L757.38 954.65L758.17 954.60L758.96 954.55L759.75 954.51L760.54 954.47L761.34 954.42L762.13 954.38L762.92 954.34L763.71 954.30L764.50 954.26L765.29 954.21L766.09 954.17L766.88 954.13L767.67 954.12L768.46 954.13L769.25 954.15L770.04 954.16L770.84 954.16L771.63 954.16L772.42 954.14L773.21 954.12L774.00 954.11L774.79 954.14L775.59 954.21L776.38 954.35L777.17 954.54L777.96 954.78L778.75 955.03L779.54 955.31L780.34 955.57L781.13 955.81L781.92 955.98L782.71 956.05L783.50 955.95L784.29 955.60L785.09 954.90L785.88 953.70L786.67 951.86L787.46 949.27L788.25 945.84L789.05 941.60L789.84 936.71L790.63 931.47L791.42 926.31L792.21 921.76L793.00 918.35L793.80 916.48L794.59 916.36L795.38 917.74L796.17 920.43L796.96 924.14L797.75 928.50L798.55 933.12L799.34 937.63L800.13 941.76L800.92 945.32L801.71 948.22L802.50 950.46L803.30 952.10L804.09 953.24L804.88 953.99L805.67 954.44L806.46 954.70L807.25 954.84L808.05 954.89L808.84 954.92L809.63 954.92L810.42 954.93L811.21 954.94L812.00 954.96L812.80 955.00L813.59 955.04L814.38 955.09L815.17 955.15L815.96 955.23L816.75 955.31L817.55 955.40L818.34 955.50L819.13 955.61L819.92 955.72L820.71 955.85L821.50 956.00L822.30 956.22L823.09 956.60L823.88 957.26L824.67 958.31L825.46 959.74L826.25 961.27L827.05 962.32L827.84 962.18L828.63 960.35L829.42 956.67L830.21 951.29L831.01 944.44L831.80 936.25L832.59 926.79L833.38 916.24L834.17 905.09L834.96 894.15L835.76 884.52L836.55 877.31L837.34 873.46L838.13 873.43L838.92 876.90L839.71 883.40L840.51 892.16L841.30 902.25L842.09 912.71L842.88 922.69L843.67 931.56L844.46 938.96L845.26 944.76L846.05 949.03L846.84 951.96L847.63 953.82L848.42 954.84L849.21 955.27L850.01 955.32L850.80 955.15L851.59 954.89L852.38 954.66L853.17 954.52L853.96 954.51L854.76 954.68L855.55 955.01L856.34 955.41L857.13 955.83L857.92 956.20L858.71 956.45L859.51 956.54L860.30 956.46L861.09 956.19L861.88 955.72L862.67 955.05L863.46 954.19L864.26 953.16L865.05 952.00L865.84 950.77L866.63 949.56L867.42 948.46L868.22 947.56L869.01 946.96L869.80 946.71L870.59 946.78L871.38 947.11L872.17 947.69L872.97 948.44L873.76 949.32L874.55 950.26L875.34 951.20L876.13 952.09L876.92 952.89L877.72 953.58L878.51 954.15L879.30 954.59L880.09 954.93L880.88 955.16L881.67 955.31L882.47 955.39L883.26 955.43L884.05 955.42L884.84 955.37L885.63 955.29L886.42 955.16L887.22 954.99L888.01 954.74L888.80 954.41L889.59 953.98L890.38 953.42L891.17 952.72L891.97 951.88L892.76 950.92L893.55 949.86L894.34 948.76L895.13 947.70L895.92 946.74L896.72 945.97L897.51 945.44L898.30 945.22L899.09 945.34L899.88 945.84L900.67 946.63L901.47 947.62L902.26 948.70L903.05 949.75L903.84 950.70L904.63 951.49L905.42 952.10L906.22 952.52L907.01 952.78L907.80 952.89L908.59 952.89L909.38 952.81L910.18 952.65L910.97 952.43L911.76 952.17L912.55 951.86L913.34 951.52L914.13 951.16L914.93 950.78L915.72 950.40L916.51 950.03L917.30 949.69L918.09 949.38L918.88 949.13L919.68 948.94L920.47 948.84L921.26 948.80L922.05 948.81L922.84 948.85L923.63 948.92L924.43 949.03L925.22 949.17L926.01 949.33L926.80 949.51L927.59 949.71L928.38 949.93L929.18 950.15L929.97 950.38L930.76 950.62L931.55 950.85L932.34 951.08L933.13 951.31L933.93 951.52L934.72 951.73L935.51 951.93L936.30 952.12L937.09 952.30L937.88 952.47L938.68 952.63L939.47 952.78L940.26 952.92L941.05 953.05L941.84 953.18L942.63 953.30L943.43 953.41L944.22 953.52L945.01 953.63L945.80 953.73L946.59 953.83L947.39 953.93L948.18 954.03L948.97 954.12L949.76 954.22L950.55 954.31L951.34 954.40L952.14 954.49L952.93 954.58L953.72 954.67L954.51 954.76L955.30 954.85L956.09 954.94L956.89 955.02L957.68 955.11L958.47 955.19L959.26 955.28L960.05 955.36L960.84 955.44L961.64 955.52L962.43 955.60L963.22 955.68L964.01 955.76L964.80 955.84L965.59 955.91L966.39 955.99L967.18 956.06L967.97 956.13L968.76 956.20L969.55 956.26L970.34 956.33L971.14 956.40L971.93 956.46L972.72 956.52L973.51 956.58L974.30 956.64L975.09 956.70L975.89 956.75L976.68 956.81L977.47 956.86L978.26 956.91L979.05 956.96L979.84 957.01L980.64 957.05L981.43 957.10L982.22 957.14L983.01 957.18L983.80 957.22L984.60 957.26L985.39 957.30L986.18 957.34L986.97 957.37L987.76 957.41L988.55 957.44L989.35 957.47L990.14 957.50L990.93 957.53L991.72 957.56L992.51 957.59L993.30 957.62L994.10 957.64L994.89 957.67L995.68 957.69L996.47 957.71L997.26 957.73L998.05 957.75L998.85 957.77L999.64 957.79L1000.43 957.81L1001.22 957.83L1002.01 957.84L1002.80 957.86L1003.60 957.87L1004.39 957.89L1005.18 957.90L1005.97 957.92L1006.76 957.93L1007.55 957.94L1008.35 957.95L1009.14 957.97L1009.93 957.98L1010.72 957.99L1011.51 958.00L1012.30 958.01L1013.10 958.02L1013.89 958.02L1014.68 958.03L1015.47 958.04L1016.26 958.05L1017.05 958.06L1017.85 958.06L1018.64 958.07L1019.43 958.08L1020.22 958.08L1021.01 958.09L1021.80 958.10L1022.60 958.10L1023.39 958.11L1024.18 958.11L1024.97 958.12L1025.76 958.12L1026.56 958.13L1027.35 958.13L1028.14 958.14L1028.93 958.14L1029.72 958.15L1030.51 958.15L1031.31 958.15L1032.10 958.16L1032.89 958.16L1033.68 958.16L1034.47 958.17L1035.26 958.17L1036.06 958.17L1036.85 958.18L1037.64 958.18L1038.43 958.18L1039.22 958.19L1040.01 958.19" fill="none" stroke="#1a6fdf" stroke-width="2.5" stroke-linejoin="round" stroke-linecap="round" /><path d="M707.50 958.35L708.29 958.30L709.08 958.25L709.88 958.20L710.67 958.14L711.46 958.09L712.25 958.03L713.04 957.98L713.83 957.93L714.63 957.87L715.42 957.81L716.21 957.76L717.00 957.70L717.79 957.64L718.58 957.59L719.38 957.53L720.17 957.47L720.96 957.41L721.75 957.36L722.54 957.30L723.33 957.24L724.13 957.18L724.92 957.12L725.71 957.06L726.50 957.00L727.29 956.94L728.08 956.88L728.88 956.83L729.67 956.77L730.46 956.71L731.25 956.65L732.04 956.59L732.83 956.53L733.63 956.47L734.42 956.41L735.21 956.36L736.00 956.30L736.79 956.24L737.58 956.18L738.38 956.13L739.17 956.07L739.96 956.01L740.75 955.96L741.54 955.90L742.33 955.85L743.13 955.79L743.92 955.74L744.71 955.69L745.50 955.63L746.29 955.58L747.09 955.53L747.88 955.48L748.67 955.43L749.46 955.38L750.25 955.33L751.04 955.28L751.84 955.23L752.63 955.19L753.42 955.14L754.21 955.10L755.00 955.05L755.79 955.01L756.59 954.96L757.38 954.92L758.17 954.88L758.96 954.83L759.75 954.79L760.54 954.75L761.34 954.71L762.13 954.67L762.92 954.63L763.71 954.60L764.50 954.56L765.29 954.52L766.09 954.48L766.88 954.44L767.67 954.44L768.46 954.44L769.25 954.46L770.04 954.48L770.84 954.49L771.63 954.49L772.42 954.48L773.21 954.48L774.00 954.48L774.79 954.51L775.59 954.59L776.38 954.72L777.17 954.90L777.96 955.11L778.75 955.34L779.54 955.59L780.34 955.83L781.13 956.04L781.92 956.19L782.71 956.25L783.50 956.15L784.29 955.82L785.09 955.17L785.88 954.05L786.67 952.35L787.46 949.94L788.25 946.76L789.05 942.84L789.84 938.30L790.63 933.44L791.42 928.66L792.21 924.45L793.00 921.28L793.80 919.55L794.59 919.44L795.38 920.73L796.17 923.22L796.96 926.67L797.75 930.71L798.55 934.99L799.34 939.18L800.13 943.01L800.92 946.32L801.71 949.01L802.50 951.09L803.30 952.61L804.09 953.67L804.88 954.37L805.67 954.79L806.46 955.04L807.25 955.16L808.05 955.22L808.84 955.24L809.63 955.24L810.42 955.25L811.21 955.26L812.00 955.28L812.80 955.31L813.59 955.35L814.38 955.40L815.17 955.46L815.96 955.52L816.75 955.60L817.55 955.68L818.34 955.77L819.13 955.87L819.92 955.97L820.71 956.09L821.50 956.23L822.30 956.43L823.09 956.79L823.88 957.42L824.67 958.42L825.46 959.80L826.25 961.26L827.05 962.27L827.84 962.16L828.63 960.43L829.42 956.94L830.21 951.84L831.01 945.37L831.80 937.64L832.59 928.73L833.38 918.80L834.17 908.30L834.96 898.02L835.76 888.96L836.55 882.18L837.34 878.55L838.13 878.53L838.92 881.79L839.71 887.90L840.51 896.14L841.30 905.63L842.09 915.47L842.88 924.85L843.67 933.19L844.46 940.15L845.26 945.60L846.05 949.63L846.84 952.39L847.63 954.14L848.42 955.12L849.21 955.54L850.01 955.60L850.80 955.45L851.59 955.22L852.38 955.01L853.17 954.88L853.96 954.88L854.76 955.03L855.55 955.33L856.34 955.70L857.13 956.08L857.92 956.41L858.71 956.63L859.51 956.72L860.30 956.64L861.09 956.39L861.88 955.97L862.67 955.36L863.46 954.57L864.26 953.63L865.05 952.57L865.84 951.45L866.63 950.34L867.42 949.34L868.22 948.52L869.01 947.97L869.80 947.74L870.59 947.80L871.38 948.11L872.17 948.63L872.97 949.31L873.76 950.12L874.55 950.97L875.34 951.83L876.13 952.64L876.92 953.37L877.72 954.00L878.51 954.52L879.30 954.93L880.09 955.23L880.88 955.45L881.67 955.59L882.47 955.67L883.26 955.70L884.05 955.69L884.84 955.65L885.63 955.58L886.42 955.47L887.22 955.32L888.01 955.10L888.80 954.81L889.59 954.42L890.38 953.92L891.17 953.29L891.97 952.54L892.76 951.68L893.55 950.73L894.34 949.74L895.13 948.79L895.92 947.92L896.72 947.23L897.51 946.76L898.30 946.56L899.09 946.68L899.88 947.14L900.67 947.86L901.47 948.76L902.26 949.74L903.05 950.69L903.84 951.55L904.63 952.27L905.42 952.82L906.22 953.21L907.01 953.45L907.80 953.56L908.59 953.56L909.38 953.49L910.18 953.35L910.97 953.17L911.76 952.93L912.55 952.67L913.34 952.37L914.13 952.05L914.93 951.72L915.72 951.39L916.51 951.06L917.30 950.76L918.09 950.49L918.88 950.27L919.68 950.11L920.47 950.01L921.26 949.98L922.05 949.99L922.84 950.02L923.63 950.09L924.43 950.18L925.22 950.30L926.01 950.45L926.80 950.61L927.59 950.78L928.38 950.97L929.18 951.17L929.97 951.37L930.76 951.58L931.55 951.79L932.34 951.99L933.13 952.19L933.93 952.38L934.72 952.56L935.51 952.74L936.30 952.90L937.09 953.06L937.88 953.21L938.68 953.35L939.47 953.48L940.26 953.60L941.05 953.72L941.84 953.83L942.63 953.94L943.43 954.04L944.22 954.13L945.01 954.23L945.80 954.32L946.59 954.40L947.39 954.49L948.18 954.57L948.97 954.66L949.76 954.74L950.55 954.82L951.34 954.90L952.14 954.98L952.93 955.06L953.72 955.14L954.51 955.21L955.30 955.29L956.09 955.37L956.89 955.44L957.68 955.52L958.47 955.59L959.26 955.67L960.05 955.74L960.84 955.81L961.64 955.88L962.43 955.95L963.22 956.02L964.01 956.09L964.80 956.16L965.59 956.22L966.39 956.29L967.18 956.35L967.97 956.41L968.76 956.47L969.55 956.53L970.34 956.59L971.14 956.65L971.93 956.70L972.72 956.76L973.51 956.81L974.30 956.86L975.09 956.91L975.89 956.96L976.68 957.01L977.47 957.05L978.26 957.10L979.05 957.14L979.84 957.18L980.64 957.22L981.43 957.26L982.22 957.30L983.01 957.34L983.80 957.37L984.60 957.41L985.39 957.44L986.18 957.47L986.97 957.50L987.76 957.53L988.55 957.56L989.35 957.59L990.14 957.62L990.93 957.64L991.72 957.67L992.51 957.69L993.30 957.71L994.10 957.74L994.89 957.76L995.68 957.78L996.47 957.80L997.26 957.82L998.05 957.83L998.85 957.85L999.64 957.87L1000.43 957.88L1001.22 957.90L1002.01 957.91L1002.80 957.93L1003.60 957.94L1004.39 957.95L1005.18 957.97L1005.97 957.98L1006.76 957.99L1007.55 958.00L1008.35 958.01L1009.14 958.02L1009.93 958.03L1010.72 958.04L1011.51 958.05L1012.30 958.06L1013.10 958.06L1013.89 958.07L1014.68 958.08L1015.47 958.09L1016.26 958.09L1017.05 958.10L1017.85 958.11L1018.64 958.11L1019.43 958.12L1020.22 958.12L1021.01 958.13L1021.80 958.13L1022.60 958.14L1023.39 958.14L1024.18 958.15L1024.97 958.15L1025.76 958.16L1026.56 958.16L1027.35 958.17L1028.14 958.17L1028.93 958.17L1029.72 958.18L1030.51 958.18L1031.31 958.18L1032.10 958.19L1032.89 958.19L1033.68 958.19L1034.47 958.20L1035.26 958.20L1036.06 958.20L1036.85 958.21L1037.64 958.21L1038.43 958.21L1039.22 958.21L1040.01 958.22" fill="none" stroke="#37ad6b" stroke-width="2.5" stroke-linejoin="round" stroke-linecap="round" /><path d="M707.50 958.36L708.29 958.32L709.08 958.27L709.88 958.23L710.67 958.18L711.46 958.13L712.25 958.08L713.04 958.03L713.83 957.99L714.63 957.94L715.42 957.89L716.21 957.84L717.00 957.79L717.79 957.74L718.58 957.69L719.38 957.64L720.17 957.58L720.96 957.53L721.75 957.48L722.54 957.43L723.33 957.38L724.13 957.33L724.92 957.27L725.71 957.22L726.50 957.17L727.29 957.12L728.08 957.07L728.88 957.01L729.67 956.96L730.46 956.91L731.25 956.86L732.04 956.80L732.83 956.75L733.63 956.70L734.42 956.65L735.21 956.60L736.00 956.55L736.79 956.50L737.58 956.45L738.38 956.40L739.17 956.35L739.96 956.30L740.75 956.25L741.54 956.20L742.33 956.15L743.13 956.10L743.92 956.05L744.71 956.01L745.50 955.96L746.29 955.91L747.09 955.87L747.88 955.82L748.67 955.78L749.46 955.74L750.25 955.69L751.04 955.65L751.84 955.61L752.63 955.57L753.42 955.53L754.21 955.48L755.00 955.44L755.79 955.41L756.59 955.37L757.38 955.33L758.17 955.29L758.96 955.25L759.75 955.22L760.54 955.18L761.34 955.15L762.13 955.11L762.92 955.08L763.71 955.04L764.50 955.01L765.29 954.98L766.09 954.94L766.88 954.90L767.67 954.90L768.46 954.91L769.25 954.93L770.04 954.95L770.84 954.96L771.63 954.97L772.42 954.97L773.21 954.97L774.00 954.98L774.79 955.01L775.59 955.08L776.38 955.20L777.17 955.36L777.96 955.54L778.75 955.75L779.54 955.96L780.34 956.16L781.13 956.34L781.92 956.47L782.71 956.51L783.50 956.42L784.29 956.12L785.09 955.52L785.88 954.51L786.67 952.97L787.46 950.80L788.25 947.93L789.05 944.39L789.84 940.30L790.63 935.91L791.42 931.60L792.21 927.80L793.00 924.94L793.80 923.38L794.59 923.28L795.38 924.44L796.17 926.69L796.96 929.80L797.75 933.45L798.55 937.31L799.34 941.09L800.13 944.54L800.92 947.52L801.71 949.95L802.50 951.83L803.30 953.20L804.09 954.16L804.88 954.79L805.67 955.17L806.46 955.39L807.25 955.50L808.05 955.55L808.84 955.57L809.63 955.58L810.42 955.59L811.21 955.60L812.00 955.62L812.80 955.64L813.59 955.68L814.38 955.72L815.17 955.77L815.96 955.83L816.75 955.90L817.55 955.98L818.34 956.06L819.13 956.15L819.92 956.24L820.71 956.34L821.50 956.47L822.30 956.66L823.09 956.99L823.88 957.58L824.67 958.52L825.46 959.80L826.25 961.18L827.05 962.12L827.84 962.02L828.63 960.41L829.42 957.16L830.21 952.42L831.01 946.40L831.80 939.22L832.59 930.95L833.38 921.74L834.17 912.00L834.96 902.46L835.76 894.06L836.55 887.77L837.34 884.41L838.13 884.39L838.92 887.42L839.71 893.08L840.51 900.72L841.30 909.52L842.09 918.64L842.88 927.35L843.67 935.08L844.46 941.54L845.26 946.60L846.05 950.33L846.84 952.90L847.63 954.53L848.42 955.45L849.21 955.85L850.01 955.92L850.80 955.79L851.59 955.60L852.38 955.41L853.17 955.30L853.96 955.30L854.76 955.44L855.55 955.71L856.34 956.05L857.13 956.40L857.92 956.70L858.71 956.91L859.51 957.00L860.30 956.96L861.09 956.76L861.88 956.41L862.67 955.90L863.46 955.25L864.26 954.46L865.05 953.58L865.84 952.64L866.63 951.71L867.42 950.87L868.22 950.19L869.01 949.73L869.80 949.54L870.59 949.60L871.38 949.86L872.17 950.30L872.97 950.88L873.76 951.55L874.55 952.28L875.34 953.00L876.13 953.68L876.92 954.30L877.72 954.83L878.51 955.27L879.30 955.62L880.09 955.88L880.88 956.06L881.67 956.18L882.47 956.25L883.26 956.28L884.05 956.28L884.84 956.25L885.63 956.20L886.42 956.11L887.22 955.99L888.01 955.81L888.80 955.58L889.59 955.26L890.38 954.85L891.17 954.34L891.97 953.73L892.76 953.02L893.55 952.24L894.34 951.44L895.13 950.65L895.92 949.95L896.72 949.38L897.51 949.00L898.30 948.84L899.09 948.95L899.88 949.32L900.67 949.92L901.47 950.66L902.26 951.47L903.05 952.26L903.84 952.97L904.63 953.57L905.42 954.03L906.22 954.35L907.01 954.55L907.80 954.65L908.59 954.67L909.38 954.62L910.18 954.52L910.97 954.39L911.76 954.22L912.55 954.02L913.34 953.81L914.13 953.57L914.93 953.33L915.72 953.08L916.51 952.84L917.30 952.62L918.09 952.43L918.88 952.26L919.68 952.14L920.47 952.07L921.26 952.05L922.05 952.05L922.84 952.08L923.63 952.13L924.43 952.19L925.22 952.28L926.01 952.39L926.80 952.50L927.59 952.63L928.38 952.77L929.18 952.91L929.97 953.06L930.76 953.21L931.55 953.37L932.34 953.51L933.13 953.66L933.93 953.80L934.72 953.94L935.51 954.07L936.30 954.19L937.09 954.31L937.88 954.42L938.68 954.52L939.47 954.62L940.26 954.71L941.05 954.80L941.84 954.88L942.63 954.96L943.43 955.04L944.22 955.11L945.01 955.18L945.80 955.25L946.59 955.32L947.39 955.38L948.18 955.45L948.97 955.51L949.76 955.58L950.55 955.64L951.34 955.70L952.14 955.76L952.93 955.82L953.72 955.88L954.51 955.94L955.30 956.00L956.09 956.06L956.89 956.12L957.68 956.18L958.47 956.24L959.26 956.29L960.05 956.35L960.84 956.40L961.64 956.46L962.43 956.51L963.22 956.57L964.01 956.62L964.80 956.67L965.59 956.72L966.39 956.77L967.18 956.82L967.97 956.87L968.76 956.91L969.55 956.96L970.34 957.00L971.14 957.05L971.93 957.09L972.72 957.13L973.51 957.17L974.30 957.21L975.09 957.25L975.89 957.29L976.68 957.32L977.47 957.36L978.26 957.39L979.05 957.43L979.84 957.46L980.64 957.49L981.43 957.52L982.22 957.55L983.01 957.58L983.80 957.61L984.60 957.63L985.39 957.66L986.18 957.68L986.97 957.71L987.76 957.73L988.55 957.75L989.35 957.77L990.14 957.80L990.93 957.82L991.72 957.83L992.51 957.85L993.30 957.87L994.10 957.89L994.89 957.90L995.68 957.92L996.47 957.93L997.26 957.95L998.05 957.96L998.85 957.98L999.64 957.99L1000.43 958.00L1001.22 958.01L1002.01 958.02L1002.80 958.04L1003.60 958.05L1004.39 958.06L1005.18 958.07L1005.97 958.07L1006.76 958.08L1007.55 958.09L1008.35 958.10L1009.14 958.11L1009.93 958.11L1010.72 958.12L1011.51 958.13L1012.30 958.13L1013.10 958.14L1013.89 958.15L1014.68 958.15L1015.47 958.16L1016.26 958.16L1017.05 958.17L1017.85 958.17L1018.64 958.18L1019.43 958.18L1020.22 958.19L1021.01 958.19L1021.80 958.19L1022.60 958.20L1023.39 958.20L1024.18 958.21L1024.97 958.21L1025.76 958.21L1026.56 958.22L1027.35 958.22L1028.14 958.22L1028.93 958.23L1029.72 958.23L1030.51 958.23L1031.31 958.23L1032.10 958.24L1032.89 958.24L1033.68 958.24L1034.47 958.24L1035.26 958.25L1036.06 958.25L1036.85 958.25L1037.64 958.25L1038.43 958.25L1039.22 958.26L1040.01 958.26" fill="none" stroke="#b177de" stroke-width="2.5" stroke-linejoin="round" stroke-linecap="round" /></g>
<rect x="720.80" y="751.00" width="26.20" height="26.60" fill="#04040c"/><rect x="720.80" y="751.00" width="26.20" height="26.60" fill="url(#te_0)"/>
<rect x="720.80" y="780.90" width="26.20" height="26.50" fill="#04040c"/><rect x="720.80" y="780.90" width="26.20" height="26.50" fill="url(#te_1)"/>
<rect x="720.80" y="810.10" width="26.20" height="25.90" fill="#04040c"/><rect x="720.80" y="810.10" width="26.20" height="25.90" fill="url(#te_2)"/>
<rect x="720.80" y="838.80" width="26.20" height="26.80" fill="#04040c"/><rect x="720.80" y="838.80" width="26.20" height="26.80" fill="url(#te_3)"/>
<rect x="863.60" y="747.90" width="27.40" height="27.20" fill="#08061a"/><rect x="863.60" y="747.90" width="27.40" height="27.20" fill="url(#te_4)"/>
<rect x="863.60" y="776.60" width="27.40" height="28.00" fill="#08061a"/><rect x="863.60" y="776.60" width="27.40" height="28.00" fill="url(#te_5)"/>
<rect x="863.60" y="805.90" width="27.40" height="26.80" fill="#08061a"/><rect x="863.60" y="805.90" width="27.40" height="26.80" fill="url(#te_6)"/>
<rect x="863.60" y="833.90" width="27.40" height="29.50" fill="#08061a"/><rect x="863.60" y="833.90" width="27.40" height="29.50" fill="url(#te_7)"/>
<path d="M769.20 772.70L774.70 777.70H772.05V845.50H766.35V777.70H763.70Z" fill="url(#tea0)"/>
<path d="M912.70 769.90L918.35 775.40H915.55V846.30H909.85V775.40H907.05Z" fill="url(#tea1)"/>
<text x="717.80" y="739.20" font-size="18.1" font-weight="bold" text-anchor="start" fill="#4a4a4a" >254 nm</text>
<text x="863.00" y="739.20" font-size="18.1" font-weight="bold" text-anchor="start" fill="#4a4a4a" >365 nm</text>
<text x="752.10" y="765.00" font-size="11.6" font-weight="bold" text-anchor="start" fill="#2a2a2a" >15min</text>
<text x="756.50" y="861.30" font-size="11.7" font-weight="bold" text-anchor="start" fill="#2a2a2a" >0min</text>
<text x="896.10" y="760.70" font-size="11" font-weight="bold" text-anchor="start" fill="#2a2a2a" >15min</text>
<text x="899.30" y="858.30" font-size="10.9" font-weight="bold" text-anchor="start" fill="#2a2a2a" >0min</text>
<line x1="943.70" y1="735.00" x2="985.00" y2="735.00" stroke="#484848" stroke-width="3.0" />
<text x="988.70" y="741.20" font-size="17.5" font-weight="bold" text-anchor="start" fill="#000" >0min</text>
<line x1="943.70" y1="757.30" x2="985.00" y2="757.30" stroke="#f23c3c" stroke-width="3.0" />
<text x="988.70" y="763.50" font-size="17.5" font-weight="bold" text-anchor="start" fill="#000" >3min</text>
<line x1="943.70" y1="779.60" x2="985.00" y2="779.60" stroke="#1a6fdf" stroke-width="3.0" />
<text x="988.70" y="785.80" font-size="17.5" font-weight="bold" text-anchor="start" fill="#000" >5min</text>
<line x1="943.70" y1="801.90" x2="985.00" y2="801.90" stroke="#37ad6b" stroke-width="3.0" />
<text x="988.70" y="808.10" font-size="17.5" font-weight="bold" text-anchor="start" fill="#000" >10min</text>
<line x1="943.70" y1="824.20" x2="985.00" y2="824.20" stroke="#b177de" stroke-width="3.0" />
<text x="988.70" y="830.40" font-size="17.5" font-weight="bold" text-anchor="start" fill="#000" >15min</text>
<path d="M723.33 988.30v4.8M802.50 988.30v4.8M881.67 988.30v4.8M960.84 988.30v4.8M1040.01 988.30v4.8M707.80 958.40h-6.3M707.80 898.90h-6.3M707.80 839.40h-6.3M707.80 779.90h-6.3M707.80 720.40h-6.3" stroke="#000" stroke-width="3.3" fill="none"/>
<path d="M762.92 988.30v2.9M842.09 988.30v2.9M921.26 988.30v2.9M1000.43 988.30v2.9M707.80 988.15h-3.2M707.80 928.65h-3.2M707.80 869.15h-3.2M707.80 809.65h-3.2M707.80 750.15h-3.2" stroke="#000" stroke-width="2.4" fill="none"/>
<rect x="707.80" y="720.50" width="332.40" height="267.80" fill="none" stroke="#000" stroke-width="3.4"/>
<text x="698.80" y="966.80" font-size="23" font-weight="bold" text-anchor="end" fill="#000" >0.0</text>
<text x="690.90" y="907.30" font-size="23" font-weight="bold" text-anchor="end" fill="#000" >4.0x10</text><text x="691.50" y="897.90" font-size="16" font-weight="bold" text-anchor="start" fill="#000" >5</text>
<text x="690.90" y="847.80" font-size="23" font-weight="bold" text-anchor="end" fill="#000" >8.0x10</text><text x="691.50" y="838.40" font-size="16" font-weight="bold" text-anchor="start" fill="#000" >5</text>
<text x="690.90" y="788.30" font-size="23" font-weight="bold" text-anchor="end" fill="#000" >1.2x10</text><text x="691.50" y="778.90" font-size="16" font-weight="bold" text-anchor="start" fill="#000" >6</text>
<text x="690.90" y="728.80" font-size="23" font-weight="bold" text-anchor="end" fill="#000" >1.6x10</text><text x="691.50" y="719.40" font-size="16" font-weight="bold" text-anchor="start" fill="#000" >6</text>
<text x="723.73" y="1016.00" font-size="22.8" font-weight="bold" text-anchor="middle" fill="#000" >400</text>
<text x="802.90" y="1016.00" font-size="22.8" font-weight="bold" text-anchor="middle" fill="#000" >500</text>
<text x="882.07" y="1016.00" font-size="22.8" font-weight="bold" text-anchor="middle" fill="#000" >600</text>
<text x="961.24" y="1016.00" font-size="22.8" font-weight="bold" text-anchor="middle" fill="#000" >700</text>
<text x="1040.41" y="1016.00" font-size="22.8" font-weight="bold" text-anchor="middle" fill="#000" >800</text>
<text x="873.80" y="1051.30" font-size="23.2" font-weight="bold" text-anchor="middle" fill="#000" >Wavelength (nm)</text>
<text transform="translate(611.0 847.5) rotate(-90)" font-size="23.1" font-weight="bold" text-anchor="middle">Intensity (CPS)</text>
<text x="548.00" y="710.60" font-size="36.3" font-weight="bold" text-anchor="start" fill="#3a3a3a" >(e)</text></svg></body></html>
